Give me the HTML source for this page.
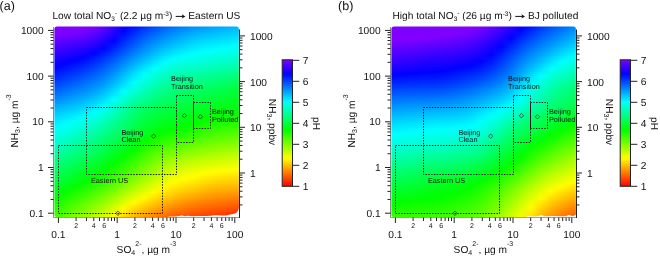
<!DOCTYPE html><html><head><meta charset="utf-8"><style>html,body{margin:0;padding:0;background:#fff;width:660px;height:257px;overflow:hidden}svg{display:block;will-change:transform}</style></head><body><svg xmlns="http://www.w3.org/2000/svg" width="660" height="257" viewBox="0 0 660 257" font-family='"Liberation Sans", sans-serif' fill="#111" text-rendering="geometricPrecision"><defs><linearGradient id="ga0" x1="0" x2="1" y1="0" y2="0"><stop offset="0.000" stop-color="#8000ff"/><stop offset="0.054" stop-color="#8000ff"/><stop offset="0.108" stop-color="#8000ff"/><stop offset="0.162" stop-color="#8000ff"/><stop offset="0.216" stop-color="#7a00ff"/><stop offset="0.270" stop-color="#5f00ff"/><stop offset="0.324" stop-color="#3900ff"/><stop offset="0.378" stop-color="#1200ff"/><stop offset="0.432" stop-color="#0010ff"/><stop offset="0.486" stop-color="#002eff"/><stop offset="0.541" stop-color="#0048ff"/><stop offset="0.595" stop-color="#005eff"/><stop offset="0.649" stop-color="#0071ff"/><stop offset="0.703" stop-color="#0082ff"/><stop offset="0.757" stop-color="#0090ff"/><stop offset="0.811" stop-color="#009aff"/><stop offset="0.865" stop-color="#00a2ff"/><stop offset="0.919" stop-color="#00aaff"/><stop offset="0.973" stop-color="#00b3ff"/><stop offset="1.000" stop-color="#00b7ff"/></linearGradient><linearGradient id="ga1" x1="0" x2="1" y1="0" y2="0"><stop offset="0.000" stop-color="#8000ff"/><stop offset="0.054" stop-color="#8000ff"/><stop offset="0.108" stop-color="#8000ff"/><stop offset="0.162" stop-color="#8000ff"/><stop offset="0.216" stop-color="#7200ff"/><stop offset="0.270" stop-color="#5800ff"/><stop offset="0.324" stop-color="#3100ff"/><stop offset="0.378" stop-color="#0900ff"/><stop offset="0.432" stop-color="#0018ff"/><stop offset="0.486" stop-color="#0037ff"/><stop offset="0.541" stop-color="#0051ff"/><stop offset="0.595" stop-color="#0067ff"/><stop offset="0.649" stop-color="#007aff"/><stop offset="0.703" stop-color="#008bff"/><stop offset="0.757" stop-color="#0099ff"/><stop offset="0.811" stop-color="#00a3ff"/><stop offset="0.865" stop-color="#00abff"/><stop offset="0.919" stop-color="#00b3ff"/><stop offset="0.973" stop-color="#00bbff"/><stop offset="1.000" stop-color="#00bfff"/></linearGradient><linearGradient id="ga2" x1="0" x2="1" y1="0" y2="0"><stop offset="0.000" stop-color="#8000ff"/><stop offset="0.054" stop-color="#8000ff"/><stop offset="0.108" stop-color="#8000ff"/><stop offset="0.162" stop-color="#7a00ff"/><stop offset="0.216" stop-color="#6a00ff"/><stop offset="0.270" stop-color="#5000ff"/><stop offset="0.324" stop-color="#2900ff"/><stop offset="0.378" stop-color="#0100ff"/><stop offset="0.432" stop-color="#0021ff"/><stop offset="0.486" stop-color="#0040ff"/><stop offset="0.541" stop-color="#005aff"/><stop offset="0.595" stop-color="#0070ff"/><stop offset="0.649" stop-color="#0083ff"/><stop offset="0.703" stop-color="#0094ff"/><stop offset="0.757" stop-color="#00a2ff"/><stop offset="0.811" stop-color="#00acff"/><stop offset="0.865" stop-color="#00b3ff"/><stop offset="0.919" stop-color="#00bbff"/><stop offset="0.973" stop-color="#00c3ff"/><stop offset="1.000" stop-color="#00c7ff"/></linearGradient><linearGradient id="ga3" x1="0" x2="1" y1="0" y2="0"><stop offset="0.000" stop-color="#8000ff"/><stop offset="0.054" stop-color="#8000ff"/><stop offset="0.108" stop-color="#7b00ff"/><stop offset="0.162" stop-color="#7200ff"/><stop offset="0.216" stop-color="#6100ff"/><stop offset="0.270" stop-color="#4800ff"/><stop offset="0.324" stop-color="#2100ff"/><stop offset="0.378" stop-color="#0008ff"/><stop offset="0.432" stop-color="#0029ff"/><stop offset="0.486" stop-color="#0048ff"/><stop offset="0.541" stop-color="#0062ff"/><stop offset="0.595" stop-color="#0078ff"/><stop offset="0.649" stop-color="#008cff"/><stop offset="0.703" stop-color="#009cff"/><stop offset="0.757" stop-color="#00abff"/><stop offset="0.811" stop-color="#00b4ff"/><stop offset="0.865" stop-color="#00bbff"/><stop offset="0.919" stop-color="#00c3ff"/><stop offset="0.973" stop-color="#00cbff"/><stop offset="1.000" stop-color="#00cfff"/></linearGradient><linearGradient id="ga4" x1="0" x2="1" y1="0" y2="0"><stop offset="0.000" stop-color="#8000ff"/><stop offset="0.054" stop-color="#7900ff"/><stop offset="0.108" stop-color="#7200ff"/><stop offset="0.162" stop-color="#6900ff"/><stop offset="0.216" stop-color="#5900ff"/><stop offset="0.270" stop-color="#3f00ff"/><stop offset="0.324" stop-color="#1800ff"/><stop offset="0.378" stop-color="#0010ff"/><stop offset="0.432" stop-color="#0032ff"/><stop offset="0.486" stop-color="#0051ff"/><stop offset="0.541" stop-color="#006bff"/><stop offset="0.595" stop-color="#0081ff"/><stop offset="0.649" stop-color="#0094ff"/><stop offset="0.703" stop-color="#00a5ff"/><stop offset="0.757" stop-color="#00b3ff"/><stop offset="0.811" stop-color="#00bdff"/><stop offset="0.865" stop-color="#00c4ff"/><stop offset="0.919" stop-color="#00cbff"/><stop offset="0.973" stop-color="#00d2ff"/><stop offset="1.000" stop-color="#00d7ff"/></linearGradient><linearGradient id="ga5" x1="0" x2="1" y1="0" y2="0"><stop offset="0.000" stop-color="#7800ff"/><stop offset="0.054" stop-color="#7000ff"/><stop offset="0.108" stop-color="#6900ff"/><stop offset="0.162" stop-color="#5f00ff"/><stop offset="0.216" stop-color="#4f00ff"/><stop offset="0.270" stop-color="#3600ff"/><stop offset="0.324" stop-color="#1000ff"/><stop offset="0.378" stop-color="#0018ff"/><stop offset="0.432" stop-color="#003aff"/><stop offset="0.486" stop-color="#0059ff"/><stop offset="0.541" stop-color="#0074ff"/><stop offset="0.595" stop-color="#008aff"/><stop offset="0.649" stop-color="#009dff"/><stop offset="0.703" stop-color="#00aeff"/><stop offset="0.757" stop-color="#00bcff"/><stop offset="0.811" stop-color="#00c6ff"/><stop offset="0.865" stop-color="#00ccff"/><stop offset="0.919" stop-color="#00d3ff"/><stop offset="0.973" stop-color="#00daff"/><stop offset="1.000" stop-color="#00deff"/></linearGradient><linearGradient id="ga6" x1="0" x2="1" y1="0" y2="0"><stop offset="0.000" stop-color="#6f00ff"/><stop offset="0.054" stop-color="#6700ff"/><stop offset="0.108" stop-color="#6000ff"/><stop offset="0.162" stop-color="#5600ff"/><stop offset="0.216" stop-color="#4600ff"/><stop offset="0.270" stop-color="#2d00ff"/><stop offset="0.324" stop-color="#0700ff"/><stop offset="0.378" stop-color="#0020ff"/><stop offset="0.432" stop-color="#0042ff"/><stop offset="0.486" stop-color="#0061ff"/><stop offset="0.541" stop-color="#007cff"/><stop offset="0.595" stop-color="#0093ff"/><stop offset="0.649" stop-color="#00a5ff"/><stop offset="0.703" stop-color="#00b6ff"/><stop offset="0.757" stop-color="#00c5ff"/><stop offset="0.811" stop-color="#00cfff"/><stop offset="0.865" stop-color="#00d4ff"/><stop offset="0.919" stop-color="#00daff"/><stop offset="0.973" stop-color="#00e2ff"/><stop offset="1.000" stop-color="#00e6ff"/></linearGradient><linearGradient id="ga7" x1="0" x2="1" y1="0" y2="0"><stop offset="0.000" stop-color="#6600ff"/><stop offset="0.054" stop-color="#5e00ff"/><stop offset="0.108" stop-color="#5600ff"/><stop offset="0.162" stop-color="#4c00ff"/><stop offset="0.216" stop-color="#3d00ff"/><stop offset="0.270" stop-color="#2300ff"/><stop offset="0.324" stop-color="#0001ff"/><stop offset="0.378" stop-color="#0028ff"/><stop offset="0.432" stop-color="#004aff"/><stop offset="0.486" stop-color="#0069ff"/><stop offset="0.541" stop-color="#0085ff"/><stop offset="0.595" stop-color="#009bff"/><stop offset="0.649" stop-color="#00aeff"/><stop offset="0.703" stop-color="#00bfff"/><stop offset="0.757" stop-color="#00ceff"/><stop offset="0.811" stop-color="#00d8ff"/><stop offset="0.865" stop-color="#00ddff"/><stop offset="0.919" stop-color="#00e2ff"/><stop offset="0.973" stop-color="#00e9ff"/><stop offset="1.000" stop-color="#00edff"/></linearGradient><linearGradient id="ga8" x1="0" x2="1" y1="0" y2="0"><stop offset="0.000" stop-color="#5d00ff"/><stop offset="0.054" stop-color="#5500ff"/><stop offset="0.108" stop-color="#4d00ff"/><stop offset="0.162" stop-color="#4300ff"/><stop offset="0.216" stop-color="#3300ff"/><stop offset="0.270" stop-color="#1a00ff"/><stop offset="0.324" stop-color="#000aff"/><stop offset="0.378" stop-color="#0030ff"/><stop offset="0.432" stop-color="#0052ff"/><stop offset="0.486" stop-color="#0072ff"/><stop offset="0.541" stop-color="#008dff"/><stop offset="0.595" stop-color="#00a4ff"/><stop offset="0.649" stop-color="#00b6ff"/><stop offset="0.703" stop-color="#00c7ff"/><stop offset="0.757" stop-color="#00d6ff"/><stop offset="0.811" stop-color="#00e0ff"/><stop offset="0.865" stop-color="#00e5ff"/><stop offset="0.919" stop-color="#00eaff"/><stop offset="0.973" stop-color="#00f1ff"/><stop offset="1.000" stop-color="#00f5ff"/></linearGradient><linearGradient id="ga9" x1="0" x2="1" y1="0" y2="0"><stop offset="0.000" stop-color="#5400ff"/><stop offset="0.054" stop-color="#4c00ff"/><stop offset="0.108" stop-color="#4400ff"/><stop offset="0.162" stop-color="#3900ff"/><stop offset="0.216" stop-color="#2900ff"/><stop offset="0.270" stop-color="#1000ff"/><stop offset="0.324" stop-color="#0013ff"/><stop offset="0.378" stop-color="#0038ff"/><stop offset="0.432" stop-color="#005aff"/><stop offset="0.486" stop-color="#007aff"/><stop offset="0.541" stop-color="#0096ff"/><stop offset="0.595" stop-color="#00adff"/><stop offset="0.649" stop-color="#00bfff"/><stop offset="0.703" stop-color="#00d0ff"/><stop offset="0.757" stop-color="#00deff"/><stop offset="0.811" stop-color="#00e9ff"/><stop offset="0.865" stop-color="#00ecff"/><stop offset="0.919" stop-color="#00f2ff"/><stop offset="0.973" stop-color="#00f8ff"/><stop offset="1.000" stop-color="#00fcff"/></linearGradient><linearGradient id="ga10" x1="0" x2="1" y1="0" y2="0"><stop offset="0.000" stop-color="#4c00ff"/><stop offset="0.054" stop-color="#4400ff"/><stop offset="0.108" stop-color="#3b00ff"/><stop offset="0.162" stop-color="#3000ff"/><stop offset="0.216" stop-color="#1f00ff"/><stop offset="0.270" stop-color="#0600ff"/><stop offset="0.324" stop-color="#001cff"/><stop offset="0.378" stop-color="#0040ff"/><stop offset="0.432" stop-color="#0062ff"/><stop offset="0.486" stop-color="#0082ff"/><stop offset="0.541" stop-color="#009eff"/><stop offset="0.595" stop-color="#00b6ff"/><stop offset="0.649" stop-color="#00c8ff"/><stop offset="0.703" stop-color="#00d8ff"/><stop offset="0.757" stop-color="#00e6ff"/><stop offset="0.811" stop-color="#00f0ff"/><stop offset="0.865" stop-color="#00f4ff"/><stop offset="0.919" stop-color="#00f9ff"/><stop offset="0.973" stop-color="#00fffe"/><stop offset="1.000" stop-color="#00fffa"/></linearGradient><linearGradient id="ga11" x1="0" x2="1" y1="0" y2="0"><stop offset="0.000" stop-color="#4400ff"/><stop offset="0.054" stop-color="#3b00ff"/><stop offset="0.108" stop-color="#3200ff"/><stop offset="0.162" stop-color="#2600ff"/><stop offset="0.216" stop-color="#1500ff"/><stop offset="0.270" stop-color="#0004ff"/><stop offset="0.324" stop-color="#0025ff"/><stop offset="0.378" stop-color="#0049ff"/><stop offset="0.432" stop-color="#006bff"/><stop offset="0.486" stop-color="#008aff"/><stop offset="0.541" stop-color="#00a7ff"/><stop offset="0.595" stop-color="#00bfff"/><stop offset="0.649" stop-color="#00d1ff"/><stop offset="0.703" stop-color="#00e0ff"/><stop offset="0.757" stop-color="#00edff"/><stop offset="0.811" stop-color="#00f7ff"/><stop offset="0.865" stop-color="#00fcff"/><stop offset="0.919" stop-color="#00fffd"/><stop offset="0.973" stop-color="#00fff7"/><stop offset="1.000" stop-color="#00fff3"/></linearGradient><linearGradient id="ga12" x1="0" x2="1" y1="0" y2="0"><stop offset="0.000" stop-color="#3c00ff"/><stop offset="0.054" stop-color="#3300ff"/><stop offset="0.108" stop-color="#2a00ff"/><stop offset="0.162" stop-color="#1d00ff"/><stop offset="0.216" stop-color="#0b00ff"/><stop offset="0.270" stop-color="#000eff"/><stop offset="0.324" stop-color="#002eff"/><stop offset="0.378" stop-color="#0052ff"/><stop offset="0.432" stop-color="#0073ff"/><stop offset="0.486" stop-color="#0093ff"/><stop offset="0.541" stop-color="#00afff"/><stop offset="0.595" stop-color="#00c8ff"/><stop offset="0.649" stop-color="#00daff"/><stop offset="0.703" stop-color="#00e9ff"/><stop offset="0.757" stop-color="#00f5ff"/><stop offset="0.811" stop-color="#00feff"/><stop offset="0.865" stop-color="#00fffb"/><stop offset="0.919" stop-color="#00fff6"/><stop offset="0.973" stop-color="#00fff0"/><stop offset="1.000" stop-color="#00ffec"/></linearGradient><linearGradient id="ga13" x1="0" x2="1" y1="0" y2="0"><stop offset="0.000" stop-color="#3500ff"/><stop offset="0.054" stop-color="#2b00ff"/><stop offset="0.108" stop-color="#2100ff"/><stop offset="0.162" stop-color="#1400ff"/><stop offset="0.216" stop-color="#0200ff"/><stop offset="0.270" stop-color="#0018ff"/><stop offset="0.324" stop-color="#0038ff"/><stop offset="0.378" stop-color="#005aff"/><stop offset="0.432" stop-color="#007cff"/><stop offset="0.486" stop-color="#009bff"/><stop offset="0.541" stop-color="#00b8ff"/><stop offset="0.595" stop-color="#00d1ff"/><stop offset="0.649" stop-color="#00e3ff"/><stop offset="0.703" stop-color="#00f1ff"/><stop offset="0.757" stop-color="#00fcff"/><stop offset="0.811" stop-color="#00fffa"/><stop offset="0.865" stop-color="#00fff4"/><stop offset="0.919" stop-color="#00ffee"/><stop offset="0.973" stop-color="#00ffe8"/><stop offset="1.000" stop-color="#00ffe5"/></linearGradient><linearGradient id="ga14" x1="0" x2="1" y1="0" y2="0"><stop offset="0.000" stop-color="#2d00ff"/><stop offset="0.054" stop-color="#2300ff"/><stop offset="0.108" stop-color="#1900ff"/><stop offset="0.162" stop-color="#0b00ff"/><stop offset="0.216" stop-color="#0008ff"/><stop offset="0.270" stop-color="#0022ff"/><stop offset="0.324" stop-color="#0041ff"/><stop offset="0.378" stop-color="#0063ff"/><stop offset="0.432" stop-color="#0085ff"/><stop offset="0.486" stop-color="#00a4ff"/><stop offset="0.541" stop-color="#00c1ff"/><stop offset="0.595" stop-color="#00daff"/><stop offset="0.649" stop-color="#00edff"/><stop offset="0.703" stop-color="#00faff"/><stop offset="0.757" stop-color="#00fffb"/><stop offset="0.811" stop-color="#00fff4"/><stop offset="0.865" stop-color="#00ffec"/><stop offset="0.919" stop-color="#00ffe6"/><stop offset="0.973" stop-color="#00ffe1"/><stop offset="1.000" stop-color="#00ffdd"/></linearGradient><linearGradient id="ga15" x1="0" x2="1" y1="0" y2="0"><stop offset="0.000" stop-color="#2600ff"/><stop offset="0.054" stop-color="#1b00ff"/><stop offset="0.108" stop-color="#1000ff"/><stop offset="0.162" stop-color="#0200ff"/><stop offset="0.216" stop-color="#0012ff"/><stop offset="0.270" stop-color="#002cff"/><stop offset="0.324" stop-color="#004aff"/><stop offset="0.378" stop-color="#006cff"/><stop offset="0.432" stop-color="#008eff"/><stop offset="0.486" stop-color="#00acff"/><stop offset="0.541" stop-color="#00caff"/><stop offset="0.595" stop-color="#00e4ff"/><stop offset="0.649" stop-color="#00f6ff"/><stop offset="0.703" stop-color="#00fffc"/><stop offset="0.757" stop-color="#00fff4"/><stop offset="0.811" stop-color="#00ffed"/><stop offset="0.865" stop-color="#00ffe5"/><stop offset="0.919" stop-color="#00ffde"/><stop offset="0.973" stop-color="#00ffd9"/><stop offset="1.000" stop-color="#00ffd6"/></linearGradient><linearGradient id="ga16" x1="0" x2="1" y1="0" y2="0"><stop offset="0.000" stop-color="#1e00ff"/><stop offset="0.054" stop-color="#1300ff"/><stop offset="0.108" stop-color="#0800ff"/><stop offset="0.162" stop-color="#0006ff"/><stop offset="0.216" stop-color="#001bff"/><stop offset="0.270" stop-color="#0036ff"/><stop offset="0.324" stop-color="#0053ff"/><stop offset="0.378" stop-color="#0075ff"/><stop offset="0.432" stop-color="#0097ff"/><stop offset="0.486" stop-color="#00b5ff"/><stop offset="0.541" stop-color="#00d3ff"/><stop offset="0.595" stop-color="#00edff"/><stop offset="0.649" stop-color="#00ffff"/><stop offset="0.703" stop-color="#00fff3"/><stop offset="0.757" stop-color="#00ffec"/><stop offset="0.811" stop-color="#00ffe6"/><stop offset="0.865" stop-color="#00ffdd"/><stop offset="0.919" stop-color="#00ffd6"/><stop offset="0.973" stop-color="#00ffd1"/><stop offset="1.000" stop-color="#00ffce"/></linearGradient><linearGradient id="ga17" x1="0" x2="1" y1="0" y2="0"><stop offset="0.000" stop-color="#1700ff"/><stop offset="0.054" stop-color="#0b00ff"/><stop offset="0.108" stop-color="#0000ff"/><stop offset="0.162" stop-color="#000fff"/><stop offset="0.216" stop-color="#0024ff"/><stop offset="0.270" stop-color="#003fff"/><stop offset="0.324" stop-color="#005cff"/><stop offset="0.378" stop-color="#007eff"/><stop offset="0.432" stop-color="#00a0ff"/><stop offset="0.486" stop-color="#00beff"/><stop offset="0.541" stop-color="#00dcff"/><stop offset="0.595" stop-color="#00f7ff"/><stop offset="0.649" stop-color="#00fff5"/><stop offset="0.703" stop-color="#00ffeb"/><stop offset="0.757" stop-color="#00ffe4"/><stop offset="0.811" stop-color="#00ffdf"/><stop offset="0.865" stop-color="#00ffd5"/><stop offset="0.919" stop-color="#00ffce"/><stop offset="0.973" stop-color="#00ffc8"/><stop offset="1.000" stop-color="#00ffc5"/></linearGradient><linearGradient id="ga18" x1="0" x2="1" y1="0" y2="0"><stop offset="0.000" stop-color="#1000ff"/><stop offset="0.054" stop-color="#0400ff"/><stop offset="0.108" stop-color="#0009ff"/><stop offset="0.162" stop-color="#0018ff"/><stop offset="0.216" stop-color="#002dff"/><stop offset="0.270" stop-color="#0048ff"/><stop offset="0.324" stop-color="#0065ff"/><stop offset="0.378" stop-color="#0087ff"/><stop offset="0.432" stop-color="#00aaff"/><stop offset="0.486" stop-color="#00c8ff"/><stop offset="0.541" stop-color="#00e6ff"/><stop offset="0.595" stop-color="#00fffe"/><stop offset="0.649" stop-color="#00ffec"/><stop offset="0.703" stop-color="#00ffe2"/><stop offset="0.757" stop-color="#00ffdc"/><stop offset="0.811" stop-color="#00ffd7"/><stop offset="0.865" stop-color="#00ffcd"/><stop offset="0.919" stop-color="#00ffc5"/><stop offset="0.973" stop-color="#00ffc0"/><stop offset="1.000" stop-color="#00ffbc"/></linearGradient><linearGradient id="ga19" x1="0" x2="1" y1="0" y2="0"><stop offset="0.000" stop-color="#0900ff"/><stop offset="0.054" stop-color="#0004ff"/><stop offset="0.108" stop-color="#0011ff"/><stop offset="0.162" stop-color="#0021ff"/><stop offset="0.216" stop-color="#0036ff"/><stop offset="0.270" stop-color="#0050ff"/><stop offset="0.324" stop-color="#006eff"/><stop offset="0.378" stop-color="#0090ff"/><stop offset="0.432" stop-color="#00b3ff"/><stop offset="0.486" stop-color="#00d2ff"/><stop offset="0.541" stop-color="#00efff"/><stop offset="0.595" stop-color="#00fff5"/><stop offset="0.649" stop-color="#00ffe3"/><stop offset="0.703" stop-color="#00ffd9"/><stop offset="0.757" stop-color="#00ffd4"/><stop offset="0.811" stop-color="#00ffce"/><stop offset="0.865" stop-color="#00ffc4"/><stop offset="0.919" stop-color="#00ffbc"/><stop offset="0.973" stop-color="#00ffb6"/><stop offset="1.000" stop-color="#00ffb3"/></linearGradient><linearGradient id="ga20" x1="0" x2="1" y1="0" y2="0"><stop offset="0.000" stop-color="#0200ff"/><stop offset="0.054" stop-color="#000cff"/><stop offset="0.108" stop-color="#001aff"/><stop offset="0.162" stop-color="#0029ff"/><stop offset="0.216" stop-color="#003eff"/><stop offset="0.270" stop-color="#0058ff"/><stop offset="0.324" stop-color="#0076ff"/><stop offset="0.378" stop-color="#0099ff"/><stop offset="0.432" stop-color="#00bdff"/><stop offset="0.486" stop-color="#00dcff"/><stop offset="0.541" stop-color="#00f9ff"/><stop offset="0.595" stop-color="#00ffeb"/><stop offset="0.649" stop-color="#00ffda"/><stop offset="0.703" stop-color="#00ffd0"/><stop offset="0.757" stop-color="#00ffcb"/><stop offset="0.811" stop-color="#00ffc5"/><stop offset="0.865" stop-color="#00ffbb"/><stop offset="0.919" stop-color="#00ffb3"/><stop offset="0.973" stop-color="#00ffad"/><stop offset="1.000" stop-color="#00ffa9"/></linearGradient><linearGradient id="ga21" x1="0" x2="1" y1="0" y2="0"><stop offset="0.000" stop-color="#0005ff"/><stop offset="0.054" stop-color="#0013ff"/><stop offset="0.108" stop-color="#0022ff"/><stop offset="0.162" stop-color="#0032ff"/><stop offset="0.216" stop-color="#0047ff"/><stop offset="0.270" stop-color="#0060ff"/><stop offset="0.324" stop-color="#007eff"/><stop offset="0.378" stop-color="#00a2ff"/><stop offset="0.432" stop-color="#00c6ff"/><stop offset="0.486" stop-color="#00e6ff"/><stop offset="0.541" stop-color="#00fffc"/><stop offset="0.595" stop-color="#00ffe2"/><stop offset="0.649" stop-color="#00ffd1"/><stop offset="0.703" stop-color="#00ffc8"/><stop offset="0.757" stop-color="#00ffc2"/><stop offset="0.811" stop-color="#00ffbb"/><stop offset="0.865" stop-color="#00ffb2"/><stop offset="0.919" stop-color="#00ffaa"/><stop offset="0.973" stop-color="#00ffa3"/><stop offset="1.000" stop-color="#00ffa0"/></linearGradient><linearGradient id="ga22" x1="0" x2="1" y1="0" y2="0"><stop offset="0.000" stop-color="#000dff"/><stop offset="0.054" stop-color="#001bff"/><stop offset="0.108" stop-color="#002aff"/><stop offset="0.162" stop-color="#003bff"/><stop offset="0.216" stop-color="#004fff"/><stop offset="0.270" stop-color="#0068ff"/><stop offset="0.324" stop-color="#0086ff"/><stop offset="0.378" stop-color="#00aaff"/><stop offset="0.432" stop-color="#00d0ff"/><stop offset="0.486" stop-color="#00efff"/><stop offset="0.541" stop-color="#00fff3"/><stop offset="0.595" stop-color="#00ffd9"/><stop offset="0.649" stop-color="#00ffc8"/><stop offset="0.703" stop-color="#00ffbf"/><stop offset="0.757" stop-color="#00ffb9"/><stop offset="0.811" stop-color="#00ffb2"/><stop offset="0.865" stop-color="#00ffa9"/><stop offset="0.919" stop-color="#00ffa0"/><stop offset="0.973" stop-color="#00ff99"/><stop offset="1.000" stop-color="#00ff96"/></linearGradient><linearGradient id="ga23" x1="0" x2="1" y1="0" y2="0"><stop offset="0.000" stop-color="#0014ff"/><stop offset="0.054" stop-color="#0023ff"/><stop offset="0.108" stop-color="#0033ff"/><stop offset="0.162" stop-color="#0043ff"/><stop offset="0.216" stop-color="#0057ff"/><stop offset="0.270" stop-color="#0070ff"/><stop offset="0.324" stop-color="#008eff"/><stop offset="0.378" stop-color="#00b2ff"/><stop offset="0.432" stop-color="#00d9ff"/><stop offset="0.486" stop-color="#00f9ff"/><stop offset="0.541" stop-color="#00ffea"/><stop offset="0.595" stop-color="#00ffd1"/><stop offset="0.649" stop-color="#00ffc0"/><stop offset="0.703" stop-color="#00ffb6"/><stop offset="0.757" stop-color="#00ffb0"/><stop offset="0.811" stop-color="#00ffa8"/><stop offset="0.865" stop-color="#00ff9f"/><stop offset="0.919" stop-color="#00ff97"/><stop offset="0.973" stop-color="#00ff8f"/><stop offset="1.000" stop-color="#00ff8b"/></linearGradient><linearGradient id="ga24" x1="0" x2="1" y1="0" y2="0"><stop offset="0.000" stop-color="#001cff"/><stop offset="0.054" stop-color="#002bff"/><stop offset="0.108" stop-color="#003bff"/><stop offset="0.162" stop-color="#004cff"/><stop offset="0.216" stop-color="#005fff"/><stop offset="0.270" stop-color="#0077ff"/><stop offset="0.324" stop-color="#0096ff"/><stop offset="0.378" stop-color="#00bbff"/><stop offset="0.432" stop-color="#00e1ff"/><stop offset="0.486" stop-color="#00fffc"/><stop offset="0.541" stop-color="#00ffe1"/><stop offset="0.595" stop-color="#00ffc8"/><stop offset="0.649" stop-color="#00ffb7"/><stop offset="0.703" stop-color="#00ffae"/><stop offset="0.757" stop-color="#00ffa7"/><stop offset="0.811" stop-color="#00ff9f"/><stop offset="0.865" stop-color="#00ff96"/><stop offset="0.919" stop-color="#00ff8d"/><stop offset="0.973" stop-color="#00ff85"/><stop offset="1.000" stop-color="#00ff81"/></linearGradient><linearGradient id="ga25" x1="0" x2="1" y1="0" y2="0"><stop offset="0.000" stop-color="#0024ff"/><stop offset="0.054" stop-color="#0033ff"/><stop offset="0.108" stop-color="#0043ff"/><stop offset="0.162" stop-color="#0054ff"/><stop offset="0.216" stop-color="#0067ff"/><stop offset="0.270" stop-color="#007fff"/><stop offset="0.324" stop-color="#009eff"/><stop offset="0.378" stop-color="#00c3ff"/><stop offset="0.432" stop-color="#00e9ff"/><stop offset="0.486" stop-color="#00fff4"/><stop offset="0.541" stop-color="#00ffd9"/><stop offset="0.595" stop-color="#00ffc0"/><stop offset="0.649" stop-color="#00ffaf"/><stop offset="0.703" stop-color="#00ffa5"/><stop offset="0.757" stop-color="#00ff9e"/><stop offset="0.811" stop-color="#00ff96"/><stop offset="0.865" stop-color="#00ff8d"/><stop offset="0.919" stop-color="#00ff84"/><stop offset="0.973" stop-color="#00ff7b"/><stop offset="1.000" stop-color="#00ff77"/></linearGradient><linearGradient id="ga26" x1="0" x2="1" y1="0" y2="0"><stop offset="0.000" stop-color="#002cff"/><stop offset="0.054" stop-color="#003cff"/><stop offset="0.108" stop-color="#004cff"/><stop offset="0.162" stop-color="#005cff"/><stop offset="0.216" stop-color="#006fff"/><stop offset="0.270" stop-color="#0087ff"/><stop offset="0.324" stop-color="#00a6ff"/><stop offset="0.378" stop-color="#00cbff"/><stop offset="0.432" stop-color="#00f1ff"/><stop offset="0.486" stop-color="#00ffec"/><stop offset="0.541" stop-color="#00ffd1"/><stop offset="0.595" stop-color="#00ffb8"/><stop offset="0.649" stop-color="#00ffa7"/><stop offset="0.703" stop-color="#00ff9d"/><stop offset="0.757" stop-color="#00ff95"/><stop offset="0.811" stop-color="#00ff8d"/><stop offset="0.865" stop-color="#00ff84"/><stop offset="0.919" stop-color="#00ff7a"/><stop offset="0.973" stop-color="#00ff71"/><stop offset="1.000" stop-color="#00ff6d"/></linearGradient><linearGradient id="ga27" x1="0" x2="1" y1="0" y2="0"><stop offset="0.000" stop-color="#0034ff"/><stop offset="0.054" stop-color="#0044ff"/><stop offset="0.108" stop-color="#0054ff"/><stop offset="0.162" stop-color="#0065ff"/><stop offset="0.216" stop-color="#0077ff"/><stop offset="0.270" stop-color="#008eff"/><stop offset="0.324" stop-color="#00aeff"/><stop offset="0.378" stop-color="#00d3ff"/><stop offset="0.432" stop-color="#00f9ff"/><stop offset="0.486" stop-color="#00ffe5"/><stop offset="0.541" stop-color="#00ffc9"/><stop offset="0.595" stop-color="#00ffb0"/><stop offset="0.649" stop-color="#00ff9f"/><stop offset="0.703" stop-color="#00ff95"/><stop offset="0.757" stop-color="#00ff8d"/><stop offset="0.811" stop-color="#00ff84"/><stop offset="0.865" stop-color="#00ff7b"/><stop offset="0.919" stop-color="#00ff71"/><stop offset="0.973" stop-color="#00ff67"/><stop offset="1.000" stop-color="#00ff63"/></linearGradient><linearGradient id="ga28" x1="0" x2="1" y1="0" y2="0"><stop offset="0.000" stop-color="#003dff"/><stop offset="0.054" stop-color="#004dff"/><stop offset="0.108" stop-color="#005dff"/><stop offset="0.162" stop-color="#006dff"/><stop offset="0.216" stop-color="#007eff"/><stop offset="0.270" stop-color="#0096ff"/><stop offset="0.324" stop-color="#00b6ff"/><stop offset="0.378" stop-color="#00dbff"/><stop offset="0.432" stop-color="#00fffd"/><stop offset="0.486" stop-color="#00ffdd"/><stop offset="0.541" stop-color="#00ffc1"/><stop offset="0.595" stop-color="#00ffa8"/><stop offset="0.649" stop-color="#00ff97"/><stop offset="0.703" stop-color="#00ff8d"/><stop offset="0.757" stop-color="#00ff85"/><stop offset="0.811" stop-color="#00ff7b"/><stop offset="0.865" stop-color="#00ff72"/><stop offset="0.919" stop-color="#00ff68"/><stop offset="0.973" stop-color="#00ff5d"/><stop offset="1.000" stop-color="#00ff59"/></linearGradient><linearGradient id="ga29" x1="0" x2="1" y1="0" y2="0"><stop offset="0.000" stop-color="#0046ff"/><stop offset="0.054" stop-color="#0055ff"/><stop offset="0.108" stop-color="#0065ff"/><stop offset="0.162" stop-color="#0075ff"/><stop offset="0.216" stop-color="#0086ff"/><stop offset="0.270" stop-color="#009eff"/><stop offset="0.324" stop-color="#00bfff"/><stop offset="0.378" stop-color="#00e3ff"/><stop offset="0.432" stop-color="#00fff5"/><stop offset="0.486" stop-color="#00ffd5"/><stop offset="0.541" stop-color="#00ffb9"/><stop offset="0.595" stop-color="#00ffa1"/><stop offset="0.649" stop-color="#00ff8f"/><stop offset="0.703" stop-color="#00ff85"/><stop offset="0.757" stop-color="#00ff7d"/><stop offset="0.811" stop-color="#00ff73"/><stop offset="0.865" stop-color="#00ff6a"/><stop offset="0.919" stop-color="#00ff60"/><stop offset="0.973" stop-color="#00ff54"/><stop offset="1.000" stop-color="#00ff4f"/></linearGradient><linearGradient id="ga30" x1="0" x2="1" y1="0" y2="0"><stop offset="0.000" stop-color="#004eff"/><stop offset="0.054" stop-color="#005eff"/><stop offset="0.108" stop-color="#006eff"/><stop offset="0.162" stop-color="#007dff"/><stop offset="0.216" stop-color="#008fff"/><stop offset="0.270" stop-color="#00a6ff"/><stop offset="0.324" stop-color="#00c7ff"/><stop offset="0.378" stop-color="#00ecff"/><stop offset="0.432" stop-color="#00ffec"/><stop offset="0.486" stop-color="#00ffce"/><stop offset="0.541" stop-color="#00ffb2"/><stop offset="0.595" stop-color="#00ff99"/><stop offset="0.649" stop-color="#00ff88"/><stop offset="0.703" stop-color="#00ff7e"/><stop offset="0.757" stop-color="#00ff75"/><stop offset="0.811" stop-color="#00ff6b"/><stop offset="0.865" stop-color="#00ff61"/><stop offset="0.919" stop-color="#00ff58"/><stop offset="0.973" stop-color="#00ff4c"/><stop offset="1.000" stop-color="#00ff47"/></linearGradient><linearGradient id="ga31" x1="0" x2="1" y1="0" y2="0"><stop offset="0.000" stop-color="#0057ff"/><stop offset="0.054" stop-color="#0067ff"/><stop offset="0.108" stop-color="#0076ff"/><stop offset="0.162" stop-color="#0085ff"/><stop offset="0.216" stop-color="#0097ff"/><stop offset="0.270" stop-color="#00aeff"/><stop offset="0.324" stop-color="#00d0ff"/><stop offset="0.378" stop-color="#00f5ff"/><stop offset="0.432" stop-color="#00ffe3"/><stop offset="0.486" stop-color="#00ffc5"/><stop offset="0.541" stop-color="#00ffaa"/><stop offset="0.595" stop-color="#00ff92"/><stop offset="0.649" stop-color="#00ff81"/><stop offset="0.703" stop-color="#00ff77"/><stop offset="0.757" stop-color="#00ff6e"/><stop offset="0.811" stop-color="#00ff63"/><stop offset="0.865" stop-color="#00ff5a"/><stop offset="0.919" stop-color="#00ff50"/><stop offset="0.973" stop-color="#00ff44"/><stop offset="1.000" stop-color="#00ff3f"/></linearGradient><linearGradient id="ga32" x1="0" x2="1" y1="0" y2="0"><stop offset="0.000" stop-color="#0060ff"/><stop offset="0.054" stop-color="#006fff"/><stop offset="0.108" stop-color="#007fff"/><stop offset="0.162" stop-color="#008eff"/><stop offset="0.216" stop-color="#009fff"/><stop offset="0.270" stop-color="#00b7ff"/><stop offset="0.324" stop-color="#00d9ff"/><stop offset="0.378" stop-color="#00ffff"/><stop offset="0.432" stop-color="#00ffda"/><stop offset="0.486" stop-color="#00ffbc"/><stop offset="0.541" stop-color="#00ffa1"/><stop offset="0.595" stop-color="#00ff8a"/><stop offset="0.649" stop-color="#00ff7a"/><stop offset="0.703" stop-color="#00ff70"/><stop offset="0.757" stop-color="#00ff66"/><stop offset="0.811" stop-color="#00ff5c"/><stop offset="0.865" stop-color="#00ff52"/><stop offset="0.919" stop-color="#00ff49"/><stop offset="0.973" stop-color="#00ff3d"/><stop offset="1.000" stop-color="#00ff38"/></linearGradient><linearGradient id="ga33" x1="0" x2="1" y1="0" y2="0"><stop offset="0.000" stop-color="#0069ff"/><stop offset="0.054" stop-color="#0078ff"/><stop offset="0.108" stop-color="#0087ff"/><stop offset="0.162" stop-color="#0096ff"/><stop offset="0.216" stop-color="#00a8ff"/><stop offset="0.270" stop-color="#00c0ff"/><stop offset="0.324" stop-color="#00e2ff"/><stop offset="0.378" stop-color="#00fff6"/><stop offset="0.432" stop-color="#00ffd0"/><stop offset="0.486" stop-color="#00ffb3"/><stop offset="0.541" stop-color="#00ff99"/><stop offset="0.595" stop-color="#00ff83"/><stop offset="0.649" stop-color="#00ff73"/><stop offset="0.703" stop-color="#00ff69"/><stop offset="0.757" stop-color="#00ff5f"/><stop offset="0.811" stop-color="#00ff55"/><stop offset="0.865" stop-color="#00ff4b"/><stop offset="0.919" stop-color="#00ff42"/><stop offset="0.973" stop-color="#00ff37"/><stop offset="1.000" stop-color="#00ff32"/></linearGradient><linearGradient id="ga34" x1="0" x2="1" y1="0" y2="0"><stop offset="0.000" stop-color="#0072ff"/><stop offset="0.054" stop-color="#0081ff"/><stop offset="0.108" stop-color="#0090ff"/><stop offset="0.162" stop-color="#009eff"/><stop offset="0.216" stop-color="#00b0ff"/><stop offset="0.270" stop-color="#00c9ff"/><stop offset="0.324" stop-color="#00ebff"/><stop offset="0.378" stop-color="#00ffeb"/><stop offset="0.432" stop-color="#00ffc6"/><stop offset="0.486" stop-color="#00ffa9"/><stop offset="0.541" stop-color="#00ff91"/><stop offset="0.595" stop-color="#00ff7c"/><stop offset="0.649" stop-color="#00ff6d"/><stop offset="0.703" stop-color="#00ff63"/><stop offset="0.757" stop-color="#00ff59"/><stop offset="0.811" stop-color="#00ff4e"/><stop offset="0.865" stop-color="#00ff45"/><stop offset="0.919" stop-color="#00ff3c"/><stop offset="0.973" stop-color="#00ff31"/><stop offset="1.000" stop-color="#00ff2d"/></linearGradient><linearGradient id="ga35" x1="0" x2="1" y1="0" y2="0"><stop offset="0.000" stop-color="#007bff"/><stop offset="0.054" stop-color="#008aff"/><stop offset="0.108" stop-color="#0098ff"/><stop offset="0.162" stop-color="#00a7ff"/><stop offset="0.216" stop-color="#00b9ff"/><stop offset="0.270" stop-color="#00d2ff"/><stop offset="0.324" stop-color="#00f4ff"/><stop offset="0.378" stop-color="#00ffe1"/><stop offset="0.432" stop-color="#00ffbb"/><stop offset="0.486" stop-color="#00ffa0"/><stop offset="0.541" stop-color="#00ff88"/><stop offset="0.595" stop-color="#00ff75"/><stop offset="0.649" stop-color="#00ff67"/><stop offset="0.703" stop-color="#00ff5d"/><stop offset="0.757" stop-color="#00ff52"/><stop offset="0.811" stop-color="#00ff48"/><stop offset="0.865" stop-color="#00ff3e"/><stop offset="0.919" stop-color="#00ff35"/><stop offset="0.973" stop-color="#00ff2c"/><stop offset="1.000" stop-color="#00ff28"/></linearGradient><linearGradient id="ga36" x1="0" x2="1" y1="0" y2="0"><stop offset="0.000" stop-color="#0085ff"/><stop offset="0.054" stop-color="#0093ff"/><stop offset="0.108" stop-color="#00a1ff"/><stop offset="0.162" stop-color="#00afff"/><stop offset="0.216" stop-color="#00c2ff"/><stop offset="0.270" stop-color="#00dbff"/><stop offset="0.324" stop-color="#00feff"/><stop offset="0.378" stop-color="#00ffd7"/><stop offset="0.432" stop-color="#00ffb1"/><stop offset="0.486" stop-color="#00ff96"/><stop offset="0.541" stop-color="#00ff80"/><stop offset="0.595" stop-color="#00ff6e"/><stop offset="0.649" stop-color="#00ff61"/><stop offset="0.703" stop-color="#00ff56"/><stop offset="0.757" stop-color="#00ff4c"/><stop offset="0.811" stop-color="#00ff41"/><stop offset="0.865" stop-color="#00ff38"/><stop offset="0.919" stop-color="#00ff30"/><stop offset="0.973" stop-color="#00ff27"/><stop offset="1.000" stop-color="#00ff24"/></linearGradient><linearGradient id="ga37" x1="0" x2="1" y1="0" y2="0"><stop offset="0.000" stop-color="#008eff"/><stop offset="0.054" stop-color="#009cff"/><stop offset="0.108" stop-color="#00a9ff"/><stop offset="0.162" stop-color="#00b8ff"/><stop offset="0.216" stop-color="#00cbff"/><stop offset="0.270" stop-color="#00e4ff"/><stop offset="0.324" stop-color="#00fff7"/><stop offset="0.378" stop-color="#00ffcd"/><stop offset="0.432" stop-color="#00ffa7"/><stop offset="0.486" stop-color="#00ff8c"/><stop offset="0.541" stop-color="#00ff77"/><stop offset="0.595" stop-color="#00ff67"/><stop offset="0.649" stop-color="#00ff5b"/><stop offset="0.703" stop-color="#00ff50"/><stop offset="0.757" stop-color="#00ff46"/><stop offset="0.811" stop-color="#00ff3b"/><stop offset="0.865" stop-color="#00ff32"/><stop offset="0.919" stop-color="#00ff2a"/><stop offset="0.973" stop-color="#00ff23"/><stop offset="1.000" stop-color="#00ff1f"/></linearGradient><linearGradient id="ga38" x1="0" x2="1" y1="0" y2="0"><stop offset="0.000" stop-color="#0097ff"/><stop offset="0.054" stop-color="#00a5ff"/><stop offset="0.108" stop-color="#00b2ff"/><stop offset="0.162" stop-color="#00c1ff"/><stop offset="0.216" stop-color="#00d4ff"/><stop offset="0.270" stop-color="#00eeff"/><stop offset="0.324" stop-color="#00ffed"/><stop offset="0.378" stop-color="#00ffc3"/><stop offset="0.432" stop-color="#00ff9d"/><stop offset="0.486" stop-color="#00ff83"/><stop offset="0.541" stop-color="#00ff6f"/><stop offset="0.595" stop-color="#00ff60"/><stop offset="0.649" stop-color="#00ff54"/><stop offset="0.703" stop-color="#00ff4a"/><stop offset="0.757" stop-color="#00ff3f"/><stop offset="0.811" stop-color="#00ff35"/><stop offset="0.865" stop-color="#00ff2c"/><stop offset="0.919" stop-color="#00ff24"/><stop offset="0.973" stop-color="#00ff1e"/><stop offset="1.000" stop-color="#00ff1b"/></linearGradient><linearGradient id="ga39" x1="0" x2="1" y1="0" y2="0"><stop offset="0.000" stop-color="#00a1ff"/><stop offset="0.054" stop-color="#00aeff"/><stop offset="0.108" stop-color="#00bbff"/><stop offset="0.162" stop-color="#00c9ff"/><stop offset="0.216" stop-color="#00ddff"/><stop offset="0.270" stop-color="#00f7ff"/><stop offset="0.324" stop-color="#00ffe4"/><stop offset="0.378" stop-color="#00ffba"/><stop offset="0.432" stop-color="#00ff94"/><stop offset="0.486" stop-color="#00ff7a"/><stop offset="0.541" stop-color="#00ff67"/><stop offset="0.595" stop-color="#00ff59"/><stop offset="0.649" stop-color="#00ff4e"/><stop offset="0.703" stop-color="#00ff44"/><stop offset="0.757" stop-color="#00ff39"/><stop offset="0.811" stop-color="#00ff2f"/><stop offset="0.865" stop-color="#00ff26"/><stop offset="0.919" stop-color="#00ff1f"/><stop offset="0.973" stop-color="#00ff19"/><stop offset="1.000" stop-color="#00ff16"/></linearGradient><linearGradient id="ga40" x1="0" x2="1" y1="0" y2="0"><stop offset="0.000" stop-color="#00aaff"/><stop offset="0.054" stop-color="#00b8ff"/><stop offset="0.108" stop-color="#00c4ff"/><stop offset="0.162" stop-color="#00d2ff"/><stop offset="0.216" stop-color="#00e6ff"/><stop offset="0.270" stop-color="#00fffd"/><stop offset="0.324" stop-color="#00ffda"/><stop offset="0.378" stop-color="#00ffb1"/><stop offset="0.432" stop-color="#00ff8b"/><stop offset="0.486" stop-color="#00ff71"/><stop offset="0.541" stop-color="#00ff5f"/><stop offset="0.595" stop-color="#00ff52"/><stop offset="0.649" stop-color="#00ff48"/><stop offset="0.703" stop-color="#00ff3e"/><stop offset="0.757" stop-color="#00ff33"/><stop offset="0.811" stop-color="#00ff28"/><stop offset="0.865" stop-color="#00ff20"/><stop offset="0.919" stop-color="#00ff19"/><stop offset="0.973" stop-color="#00ff14"/><stop offset="1.000" stop-color="#00ff11"/></linearGradient><linearGradient id="ga41" x1="0" x2="1" y1="0" y2="0"><stop offset="0.000" stop-color="#00b4ff"/><stop offset="0.054" stop-color="#00c1ff"/><stop offset="0.108" stop-color="#00ccff"/><stop offset="0.162" stop-color="#00dbff"/><stop offset="0.216" stop-color="#00f0ff"/><stop offset="0.270" stop-color="#00fff4"/><stop offset="0.324" stop-color="#00ffd1"/><stop offset="0.378" stop-color="#00ffa9"/><stop offset="0.432" stop-color="#00ff84"/><stop offset="0.486" stop-color="#00ff69"/><stop offset="0.541" stop-color="#00ff57"/><stop offset="0.595" stop-color="#00ff4c"/><stop offset="0.649" stop-color="#00ff42"/><stop offset="0.703" stop-color="#00ff38"/><stop offset="0.757" stop-color="#00ff2d"/><stop offset="0.811" stop-color="#00ff22"/><stop offset="0.865" stop-color="#00ff1a"/><stop offset="0.919" stop-color="#00ff13"/><stop offset="0.973" stop-color="#00ff0f"/><stop offset="1.000" stop-color="#00ff0c"/></linearGradient><linearGradient id="ga42" x1="0" x2="1" y1="0" y2="0"><stop offset="0.000" stop-color="#00bdff"/><stop offset="0.054" stop-color="#00c9ff"/><stop offset="0.108" stop-color="#00d5ff"/><stop offset="0.162" stop-color="#00e4ff"/><stop offset="0.216" stop-color="#00f9ff"/><stop offset="0.270" stop-color="#00ffea"/><stop offset="0.324" stop-color="#00ffc8"/><stop offset="0.378" stop-color="#00ffa1"/><stop offset="0.432" stop-color="#00ff7c"/><stop offset="0.486" stop-color="#00ff61"/><stop offset="0.541" stop-color="#00ff50"/><stop offset="0.595" stop-color="#00ff45"/><stop offset="0.649" stop-color="#00ff3c"/><stop offset="0.703" stop-color="#00ff32"/><stop offset="0.757" stop-color="#00ff27"/><stop offset="0.811" stop-color="#00ff1c"/><stop offset="0.865" stop-color="#00ff13"/><stop offset="0.919" stop-color="#00ff0d"/><stop offset="0.973" stop-color="#00ff09"/><stop offset="1.000" stop-color="#00ff06"/></linearGradient><linearGradient id="ga43" x1="0" x2="1" y1="0" y2="0"><stop offset="0.000" stop-color="#00c6ff"/><stop offset="0.054" stop-color="#00d2ff"/><stop offset="0.108" stop-color="#00ddff"/><stop offset="0.162" stop-color="#00edff"/><stop offset="0.216" stop-color="#00fffc"/><stop offset="0.270" stop-color="#00ffe1"/><stop offset="0.324" stop-color="#00ffbf"/><stop offset="0.378" stop-color="#00ff99"/><stop offset="0.432" stop-color="#00ff76"/><stop offset="0.486" stop-color="#00ff59"/><stop offset="0.541" stop-color="#00ff49"/><stop offset="0.595" stop-color="#00ff3f"/><stop offset="0.649" stop-color="#00ff36"/><stop offset="0.703" stop-color="#00ff2c"/><stop offset="0.757" stop-color="#00ff20"/><stop offset="0.811" stop-color="#00ff16"/><stop offset="0.865" stop-color="#00ff0d"/><stop offset="0.919" stop-color="#00ff07"/><stop offset="0.973" stop-color="#00ff03"/><stop offset="1.000" stop-color="#00ff00"/></linearGradient><linearGradient id="ga44" x1="0" x2="1" y1="0" y2="0"><stop offset="0.000" stop-color="#00cfff"/><stop offset="0.054" stop-color="#00dbff"/><stop offset="0.108" stop-color="#00e6ff"/><stop offset="0.162" stop-color="#00f5ff"/><stop offset="0.216" stop-color="#00fff3"/><stop offset="0.270" stop-color="#00ffd8"/><stop offset="0.324" stop-color="#00ffb7"/><stop offset="0.378" stop-color="#00ff92"/><stop offset="0.432" stop-color="#00ff6f"/><stop offset="0.486" stop-color="#00ff52"/><stop offset="0.541" stop-color="#00ff42"/><stop offset="0.595" stop-color="#00ff38"/><stop offset="0.649" stop-color="#00ff2f"/><stop offset="0.703" stop-color="#00ff25"/><stop offset="0.757" stop-color="#00ff1a"/><stop offset="0.811" stop-color="#00ff0f"/><stop offset="0.865" stop-color="#00ff07"/><stop offset="0.919" stop-color="#00ff01"/><stop offset="0.973" stop-color="#03ff00"/><stop offset="1.000" stop-color="#06ff00"/></linearGradient><linearGradient id="ga45" x1="0" x2="1" y1="0" y2="0"><stop offset="0.000" stop-color="#00d7ff"/><stop offset="0.054" stop-color="#00e3ff"/><stop offset="0.108" stop-color="#00eeff"/><stop offset="0.162" stop-color="#00feff"/><stop offset="0.216" stop-color="#00ffeb"/><stop offset="0.270" stop-color="#00ffcf"/><stop offset="0.324" stop-color="#00ffae"/><stop offset="0.378" stop-color="#00ff8b"/><stop offset="0.432" stop-color="#00ff69"/><stop offset="0.486" stop-color="#00ff4c"/><stop offset="0.541" stop-color="#00ff3c"/><stop offset="0.595" stop-color="#00ff32"/><stop offset="0.649" stop-color="#00ff29"/><stop offset="0.703" stop-color="#00ff1f"/><stop offset="0.757" stop-color="#00ff13"/><stop offset="0.811" stop-color="#00ff08"/><stop offset="0.865" stop-color="#00ff00"/><stop offset="0.919" stop-color="#06ff00"/><stop offset="0.973" stop-color="#0aff00"/><stop offset="1.000" stop-color="#0cff00"/></linearGradient><linearGradient id="ga46" x1="0" x2="1" y1="0" y2="0"><stop offset="0.000" stop-color="#00dfff"/><stop offset="0.054" stop-color="#00eaff"/><stop offset="0.108" stop-color="#00f6ff"/><stop offset="0.162" stop-color="#00fff8"/><stop offset="0.216" stop-color="#00ffe2"/><stop offset="0.270" stop-color="#00ffc7"/><stop offset="0.324" stop-color="#00ffa6"/><stop offset="0.378" stop-color="#00ff84"/><stop offset="0.432" stop-color="#00ff63"/><stop offset="0.486" stop-color="#00ff47"/><stop offset="0.541" stop-color="#00ff36"/><stop offset="0.595" stop-color="#00ff2b"/><stop offset="0.649" stop-color="#00ff23"/><stop offset="0.703" stop-color="#00ff19"/><stop offset="0.757" stop-color="#00ff0d"/><stop offset="0.811" stop-color="#00ff02"/><stop offset="0.865" stop-color="#07ff00"/><stop offset="0.919" stop-color="#0dff00"/><stop offset="0.973" stop-color="#11ff00"/><stop offset="1.000" stop-color="#14ff00"/></linearGradient><linearGradient id="ga47" x1="0" x2="1" y1="0" y2="0"><stop offset="0.000" stop-color="#00e5ff"/><stop offset="0.054" stop-color="#00f2ff"/><stop offset="0.108" stop-color="#00feff"/><stop offset="0.162" stop-color="#00fff0"/><stop offset="0.216" stop-color="#00ffda"/><stop offset="0.270" stop-color="#00ffbe"/><stop offset="0.324" stop-color="#00ff9e"/><stop offset="0.378" stop-color="#00ff7e"/><stop offset="0.432" stop-color="#00ff5e"/><stop offset="0.486" stop-color="#00ff43"/><stop offset="0.541" stop-color="#00ff31"/><stop offset="0.595" stop-color="#00ff25"/><stop offset="0.649" stop-color="#00ff1c"/><stop offset="0.703" stop-color="#00ff13"/><stop offset="0.757" stop-color="#00ff06"/><stop offset="0.811" stop-color="#05ff00"/><stop offset="0.865" stop-color="#0eff00"/><stop offset="0.919" stop-color="#14ff00"/><stop offset="0.973" stop-color="#18ff00"/><stop offset="1.000" stop-color="#1bff00"/></linearGradient><linearGradient id="ga48" x1="0" x2="1" y1="0" y2="0"><stop offset="0.000" stop-color="#00ecff"/><stop offset="0.054" stop-color="#00f9ff"/><stop offset="0.108" stop-color="#00fff9"/><stop offset="0.162" stop-color="#00ffe8"/><stop offset="0.216" stop-color="#00ffd1"/><stop offset="0.270" stop-color="#00ffb6"/><stop offset="0.324" stop-color="#00ff97"/><stop offset="0.378" stop-color="#00ff77"/><stop offset="0.432" stop-color="#00ff59"/><stop offset="0.486" stop-color="#00ff3f"/><stop offset="0.541" stop-color="#00ff2b"/><stop offset="0.595" stop-color="#00ff1f"/><stop offset="0.649" stop-color="#00ff16"/><stop offset="0.703" stop-color="#00ff0c"/><stop offset="0.757" stop-color="#01ff00"/><stop offset="0.811" stop-color="#0dff00"/><stop offset="0.865" stop-color="#16ff00"/><stop offset="0.919" stop-color="#1cff00"/><stop offset="0.973" stop-color="#20ff00"/><stop offset="1.000" stop-color="#23ff00"/></linearGradient><linearGradient id="ga49" x1="0" x2="1" y1="0" y2="0"><stop offset="0.000" stop-color="#00f2ff"/><stop offset="0.054" stop-color="#00fffe"/><stop offset="0.108" stop-color="#00fff1"/><stop offset="0.162" stop-color="#00ffe0"/><stop offset="0.216" stop-color="#00ffc9"/><stop offset="0.270" stop-color="#00ffae"/><stop offset="0.324" stop-color="#00ff8f"/><stop offset="0.378" stop-color="#00ff71"/><stop offset="0.432" stop-color="#00ff54"/><stop offset="0.486" stop-color="#00ff3a"/><stop offset="0.541" stop-color="#00ff26"/><stop offset="0.595" stop-color="#00ff18"/><stop offset="0.649" stop-color="#00ff0f"/><stop offset="0.703" stop-color="#00ff05"/><stop offset="0.757" stop-color="#08ff00"/><stop offset="0.811" stop-color="#14ff00"/><stop offset="0.865" stop-color="#1dff00"/><stop offset="0.919" stop-color="#23ff00"/><stop offset="0.973" stop-color="#28ff00"/><stop offset="1.000" stop-color="#2cff00"/></linearGradient><linearGradient id="ga50" x1="0" x2="1" y1="0" y2="0"><stop offset="0.000" stop-color="#00f8ff"/><stop offset="0.054" stop-color="#00fff7"/><stop offset="0.108" stop-color="#00ffe9"/><stop offset="0.162" stop-color="#00ffd9"/><stop offset="0.216" stop-color="#00ffc1"/><stop offset="0.270" stop-color="#00ffa6"/><stop offset="0.324" stop-color="#00ff88"/><stop offset="0.378" stop-color="#00ff6b"/><stop offset="0.432" stop-color="#00ff4e"/><stop offset="0.486" stop-color="#00ff36"/><stop offset="0.541" stop-color="#00ff20"/><stop offset="0.595" stop-color="#00ff11"/><stop offset="0.649" stop-color="#00ff08"/><stop offset="0.703" stop-color="#02ff00"/><stop offset="0.757" stop-color="#0fff00"/><stop offset="0.811" stop-color="#1cff00"/><stop offset="0.865" stop-color="#25ff00"/><stop offset="0.919" stop-color="#2cff00"/><stop offset="0.973" stop-color="#31ff00"/><stop offset="1.000" stop-color="#34ff00"/></linearGradient><linearGradient id="ga51" x1="0" x2="1" y1="0" y2="0"><stop offset="0.000" stop-color="#00feff"/><stop offset="0.054" stop-color="#00fff1"/><stop offset="0.108" stop-color="#00ffe2"/><stop offset="0.162" stop-color="#00ffd1"/><stop offset="0.216" stop-color="#00ffb9"/><stop offset="0.270" stop-color="#00ff9e"/><stop offset="0.324" stop-color="#00ff81"/><stop offset="0.378" stop-color="#00ff65"/><stop offset="0.432" stop-color="#00ff49"/><stop offset="0.486" stop-color="#00ff31"/><stop offset="0.541" stop-color="#00ff1a"/><stop offset="0.595" stop-color="#00ff0a"/><stop offset="0.649" stop-color="#00ff00"/><stop offset="0.703" stop-color="#09ff00"/><stop offset="0.757" stop-color="#17ff00"/><stop offset="0.811" stop-color="#24ff00"/><stop offset="0.865" stop-color="#2eff00"/><stop offset="0.919" stop-color="#34ff00"/><stop offset="0.973" stop-color="#3aff00"/><stop offset="1.000" stop-color="#3dff00"/></linearGradient><linearGradient id="ga52" x1="0" x2="1" y1="0" y2="0"><stop offset="0.000" stop-color="#00fffa"/><stop offset="0.054" stop-color="#00ffea"/><stop offset="0.108" stop-color="#00ffda"/><stop offset="0.162" stop-color="#00ffc9"/><stop offset="0.216" stop-color="#00ffb2"/><stop offset="0.270" stop-color="#00ff96"/><stop offset="0.324" stop-color="#00ff7a"/><stop offset="0.378" stop-color="#00ff5f"/><stop offset="0.432" stop-color="#00ff43"/><stop offset="0.486" stop-color="#00ff2b"/><stop offset="0.541" stop-color="#00ff13"/><stop offset="0.595" stop-color="#00ff02"/><stop offset="0.649" stop-color="#08ff00"/><stop offset="0.703" stop-color="#11ff00"/><stop offset="0.757" stop-color="#1fff00"/><stop offset="0.811" stop-color="#2cff00"/><stop offset="0.865" stop-color="#36ff00"/><stop offset="0.919" stop-color="#3dff00"/><stop offset="0.973" stop-color="#43ff00"/><stop offset="1.000" stop-color="#46ff00"/></linearGradient><linearGradient id="ga53" x1="0" x2="1" y1="0" y2="0"><stop offset="0.000" stop-color="#00fff5"/><stop offset="0.054" stop-color="#00ffe4"/><stop offset="0.108" stop-color="#00ffd3"/><stop offset="0.162" stop-color="#00ffc1"/><stop offset="0.216" stop-color="#00ffaa"/><stop offset="0.270" stop-color="#00ff8f"/><stop offset="0.324" stop-color="#00ff73"/><stop offset="0.378" stop-color="#00ff58"/><stop offset="0.432" stop-color="#00ff3d"/><stop offset="0.486" stop-color="#00ff24"/><stop offset="0.541" stop-color="#00ff0b"/><stop offset="0.595" stop-color="#06ff00"/><stop offset="0.649" stop-color="#10ff00"/><stop offset="0.703" stop-color="#1aff00"/><stop offset="0.757" stop-color="#28ff00"/><stop offset="0.811" stop-color="#35ff00"/><stop offset="0.865" stop-color="#3fff00"/><stop offset="0.919" stop-color="#46ff00"/><stop offset="0.973" stop-color="#4cff00"/><stop offset="1.000" stop-color="#4fff00"/></linearGradient><linearGradient id="ga54" x1="0" x2="1" y1="0" y2="0"><stop offset="0.000" stop-color="#00ffef"/><stop offset="0.054" stop-color="#00ffdd"/><stop offset="0.108" stop-color="#00ffcb"/><stop offset="0.162" stop-color="#00ffb9"/><stop offset="0.216" stop-color="#00ffa2"/><stop offset="0.270" stop-color="#00ff87"/><stop offset="0.324" stop-color="#00ff6c"/><stop offset="0.378" stop-color="#00ff52"/><stop offset="0.432" stop-color="#00ff37"/><stop offset="0.486" stop-color="#00ff1c"/><stop offset="0.541" stop-color="#00ff03"/><stop offset="0.595" stop-color="#0fff00"/><stop offset="0.649" stop-color="#19ff00"/><stop offset="0.703" stop-color="#23ff00"/><stop offset="0.757" stop-color="#31ff00"/><stop offset="0.811" stop-color="#3eff00"/><stop offset="0.865" stop-color="#48ff00"/><stop offset="0.919" stop-color="#4fff00"/><stop offset="0.973" stop-color="#55ff00"/><stop offset="1.000" stop-color="#59ff00"/></linearGradient><linearGradient id="ga55" x1="0" x2="1" y1="0" y2="0"><stop offset="0.000" stop-color="#00ffea"/><stop offset="0.054" stop-color="#00ffd6"/><stop offset="0.108" stop-color="#00ffc3"/><stop offset="0.162" stop-color="#00ffb1"/><stop offset="0.216" stop-color="#00ff9a"/><stop offset="0.270" stop-color="#00ff80"/><stop offset="0.324" stop-color="#00ff65"/><stop offset="0.378" stop-color="#00ff4b"/><stop offset="0.432" stop-color="#00ff30"/><stop offset="0.486" stop-color="#00ff14"/><stop offset="0.541" stop-color="#06ff00"/><stop offset="0.595" stop-color="#17ff00"/><stop offset="0.649" stop-color="#23ff00"/><stop offset="0.703" stop-color="#2dff00"/><stop offset="0.757" stop-color="#3aff00"/><stop offset="0.811" stop-color="#47ff00"/><stop offset="0.865" stop-color="#51ff00"/><stop offset="0.919" stop-color="#59ff00"/><stop offset="0.973" stop-color="#5fff00"/><stop offset="1.000" stop-color="#63ff00"/></linearGradient><linearGradient id="ga56" x1="0" x2="1" y1="0" y2="0"><stop offset="0.000" stop-color="#00ffe4"/><stop offset="0.054" stop-color="#00ffcf"/><stop offset="0.108" stop-color="#00ffbb"/><stop offset="0.162" stop-color="#00ffa9"/><stop offset="0.216" stop-color="#00ff93"/><stop offset="0.270" stop-color="#00ff79"/><stop offset="0.324" stop-color="#00ff5e"/><stop offset="0.378" stop-color="#00ff45"/><stop offset="0.432" stop-color="#00ff2a"/><stop offset="0.486" stop-color="#00ff0b"/><stop offset="0.541" stop-color="#0fff00"/><stop offset="0.595" stop-color="#21ff00"/><stop offset="0.649" stop-color="#2cff00"/><stop offset="0.703" stop-color="#37ff00"/><stop offset="0.757" stop-color="#44ff00"/><stop offset="0.811" stop-color="#51ff00"/><stop offset="0.865" stop-color="#5bff00"/><stop offset="0.919" stop-color="#62ff00"/><stop offset="0.973" stop-color="#69ff00"/><stop offset="1.000" stop-color="#6cff00"/></linearGradient><linearGradient id="ga57" x1="0" x2="1" y1="0" y2="0"><stop offset="0.000" stop-color="#00ffde"/><stop offset="0.054" stop-color="#00ffc8"/><stop offset="0.108" stop-color="#00ffb4"/><stop offset="0.162" stop-color="#00ffa1"/><stop offset="0.216" stop-color="#00ff8b"/><stop offset="0.270" stop-color="#00ff71"/><stop offset="0.324" stop-color="#00ff56"/><stop offset="0.378" stop-color="#00ff3e"/><stop offset="0.432" stop-color="#00ff22"/><stop offset="0.486" stop-color="#00ff01"/><stop offset="0.541" stop-color="#18ff00"/><stop offset="0.595" stop-color="#2aff00"/><stop offset="0.649" stop-color="#37ff00"/><stop offset="0.703" stop-color="#41ff00"/><stop offset="0.757" stop-color="#4eff00"/><stop offset="0.811" stop-color="#5bff00"/><stop offset="0.865" stop-color="#65ff00"/><stop offset="0.919" stop-color="#6cff00"/><stop offset="0.973" stop-color="#73ff00"/><stop offset="1.000" stop-color="#76ff00"/></linearGradient><linearGradient id="ga58" x1="0" x2="1" y1="0" y2="0"><stop offset="0.000" stop-color="#00ffd8"/><stop offset="0.054" stop-color="#00ffc1"/><stop offset="0.108" stop-color="#00ffac"/><stop offset="0.162" stop-color="#00ff99"/><stop offset="0.216" stop-color="#00ff83"/><stop offset="0.270" stop-color="#00ff6a"/><stop offset="0.324" stop-color="#00ff4f"/><stop offset="0.378" stop-color="#00ff36"/><stop offset="0.432" stop-color="#00ff1b"/><stop offset="0.486" stop-color="#08ff00"/><stop offset="0.541" stop-color="#22ff00"/><stop offset="0.595" stop-color="#34ff00"/><stop offset="0.649" stop-color="#41ff00"/><stop offset="0.703" stop-color="#4cff00"/><stop offset="0.757" stop-color="#58ff00"/><stop offset="0.811" stop-color="#65ff00"/><stop offset="0.865" stop-color="#6fff00"/><stop offset="0.919" stop-color="#76ff00"/><stop offset="0.973" stop-color="#7dff00"/><stop offset="1.000" stop-color="#80ff00"/></linearGradient><linearGradient id="ga59" x1="0" x2="1" y1="0" y2="0"><stop offset="0.000" stop-color="#00ffd1"/><stop offset="0.054" stop-color="#00ffba"/><stop offset="0.108" stop-color="#00ffa4"/><stop offset="0.162" stop-color="#00ff91"/><stop offset="0.216" stop-color="#00ff7c"/><stop offset="0.270" stop-color="#00ff62"/><stop offset="0.324" stop-color="#00ff47"/><stop offset="0.378" stop-color="#00ff2f"/><stop offset="0.432" stop-color="#00ff13"/><stop offset="0.486" stop-color="#11ff00"/><stop offset="0.541" stop-color="#2bff00"/><stop offset="0.595" stop-color="#3eff00"/><stop offset="0.649" stop-color="#4cff00"/><stop offset="0.703" stop-color="#57ff00"/><stop offset="0.757" stop-color="#63ff00"/><stop offset="0.811" stop-color="#6fff00"/><stop offset="0.865" stop-color="#79ff00"/><stop offset="0.919" stop-color="#80ff00"/><stop offset="0.973" stop-color="#87ff00"/><stop offset="1.000" stop-color="#8aff00"/></linearGradient><linearGradient id="ga60" x1="0" x2="1" y1="0" y2="0"><stop offset="0.000" stop-color="#00ffc9"/><stop offset="0.054" stop-color="#00ffb2"/><stop offset="0.108" stop-color="#00ff9c"/><stop offset="0.162" stop-color="#00ff89"/><stop offset="0.216" stop-color="#00ff74"/><stop offset="0.270" stop-color="#00ff5b"/><stop offset="0.324" stop-color="#00ff3f"/><stop offset="0.378" stop-color="#00ff27"/><stop offset="0.432" stop-color="#00ff0b"/><stop offset="0.486" stop-color="#1aff00"/><stop offset="0.541" stop-color="#34ff00"/><stop offset="0.595" stop-color="#48ff00"/><stop offset="0.649" stop-color="#57ff00"/><stop offset="0.703" stop-color="#62ff00"/><stop offset="0.757" stop-color="#6eff00"/><stop offset="0.811" stop-color="#79ff00"/><stop offset="0.865" stop-color="#83ff00"/><stop offset="0.919" stop-color="#8aff00"/><stop offset="0.973" stop-color="#91ff00"/><stop offset="1.000" stop-color="#95ff00"/></linearGradient><linearGradient id="ga61" x1="0" x2="1" y1="0" y2="0"><stop offset="0.000" stop-color="#00ffc0"/><stop offset="0.054" stop-color="#00ffaa"/><stop offset="0.108" stop-color="#00ff94"/><stop offset="0.162" stop-color="#00ff81"/><stop offset="0.216" stop-color="#00ff6d"/><stop offset="0.270" stop-color="#00ff53"/><stop offset="0.324" stop-color="#00ff37"/><stop offset="0.378" stop-color="#00ff1f"/><stop offset="0.432" stop-color="#00ff02"/><stop offset="0.486" stop-color="#22ff00"/><stop offset="0.541" stop-color="#3dff00"/><stop offset="0.595" stop-color="#52ff00"/><stop offset="0.649" stop-color="#62ff00"/><stop offset="0.703" stop-color="#6eff00"/><stop offset="0.757" stop-color="#79ff00"/><stop offset="0.811" stop-color="#84ff00"/><stop offset="0.865" stop-color="#8dff00"/><stop offset="0.919" stop-color="#95ff00"/><stop offset="0.973" stop-color="#9cff00"/><stop offset="1.000" stop-color="#9fff00"/></linearGradient><linearGradient id="ga62" x1="0" x2="1" y1="0" y2="0"><stop offset="0.000" stop-color="#00ffb7"/><stop offset="0.054" stop-color="#00ffa1"/><stop offset="0.108" stop-color="#00ff8c"/><stop offset="0.162" stop-color="#00ff7a"/><stop offset="0.216" stop-color="#00ff65"/><stop offset="0.270" stop-color="#00ff4c"/><stop offset="0.324" stop-color="#00ff2f"/><stop offset="0.378" stop-color="#00ff16"/><stop offset="0.432" stop-color="#06ff00"/><stop offset="0.486" stop-color="#2aff00"/><stop offset="0.541" stop-color="#46ff00"/><stop offset="0.595" stop-color="#5cff00"/><stop offset="0.649" stop-color="#6dff00"/><stop offset="0.703" stop-color="#79ff00"/><stop offset="0.757" stop-color="#84ff00"/><stop offset="0.811" stop-color="#8fff00"/><stop offset="0.865" stop-color="#97ff00"/><stop offset="0.919" stop-color="#9fff00"/><stop offset="0.973" stop-color="#a6ff00"/><stop offset="1.000" stop-color="#aaff00"/></linearGradient><linearGradient id="ga63" x1="0" x2="1" y1="0" y2="0"><stop offset="0.000" stop-color="#00ffae"/><stop offset="0.054" stop-color="#00ff99"/><stop offset="0.108" stop-color="#00ff84"/><stop offset="0.162" stop-color="#00ff72"/><stop offset="0.216" stop-color="#00ff5e"/><stop offset="0.270" stop-color="#00ff44"/><stop offset="0.324" stop-color="#00ff27"/><stop offset="0.378" stop-color="#00ff0e"/><stop offset="0.432" stop-color="#0fff00"/><stop offset="0.486" stop-color="#32ff00"/><stop offset="0.541" stop-color="#4fff00"/><stop offset="0.595" stop-color="#66ff00"/><stop offset="0.649" stop-color="#78ff00"/><stop offset="0.703" stop-color="#85ff00"/><stop offset="0.757" stop-color="#8fff00"/><stop offset="0.811" stop-color="#99ff00"/><stop offset="0.865" stop-color="#a2ff00"/><stop offset="0.919" stop-color="#a9ff00"/><stop offset="0.973" stop-color="#b1ff00"/><stop offset="1.000" stop-color="#b4ff00"/></linearGradient><linearGradient id="ga64" x1="0" x2="1" y1="0" y2="0"><stop offset="0.000" stop-color="#00ffa4"/><stop offset="0.054" stop-color="#00ff91"/><stop offset="0.108" stop-color="#00ff7d"/><stop offset="0.162" stop-color="#00ff6a"/><stop offset="0.216" stop-color="#00ff56"/><stop offset="0.270" stop-color="#00ff3d"/><stop offset="0.324" stop-color="#00ff1f"/><stop offset="0.378" stop-color="#00ff05"/><stop offset="0.432" stop-color="#17ff00"/><stop offset="0.486" stop-color="#39ff00"/><stop offset="0.541" stop-color="#58ff00"/><stop offset="0.595" stop-color="#70ff00"/><stop offset="0.649" stop-color="#83ff00"/><stop offset="0.703" stop-color="#90ff00"/><stop offset="0.757" stop-color="#9aff00"/><stop offset="0.811" stop-color="#a4ff00"/><stop offset="0.865" stop-color="#acff00"/><stop offset="0.919" stop-color="#b3ff00"/><stop offset="0.973" stop-color="#bbff00"/><stop offset="1.000" stop-color="#beff00"/></linearGradient><linearGradient id="ga65" x1="0" x2="1" y1="0" y2="0"><stop offset="0.000" stop-color="#00ff9b"/><stop offset="0.054" stop-color="#00ff88"/><stop offset="0.108" stop-color="#00ff75"/><stop offset="0.162" stop-color="#00ff63"/><stop offset="0.216" stop-color="#00ff4f"/><stop offset="0.270" stop-color="#00ff35"/><stop offset="0.324" stop-color="#00ff17"/><stop offset="0.378" stop-color="#03ff00"/><stop offset="0.432" stop-color="#1fff00"/><stop offset="0.486" stop-color="#41ff00"/><stop offset="0.541" stop-color="#60ff00"/><stop offset="0.595" stop-color="#79ff00"/><stop offset="0.649" stop-color="#8eff00"/><stop offset="0.703" stop-color="#9cff00"/><stop offset="0.757" stop-color="#a5ff00"/><stop offset="0.811" stop-color="#afff00"/><stop offset="0.865" stop-color="#b6ff00"/><stop offset="0.919" stop-color="#bdff00"/><stop offset="0.973" stop-color="#c5ff00"/><stop offset="1.000" stop-color="#c9ff00"/></linearGradient><linearGradient id="ga66" x1="0" x2="1" y1="0" y2="0"><stop offset="0.000" stop-color="#00ff93"/><stop offset="0.054" stop-color="#00ff80"/><stop offset="0.108" stop-color="#00ff6d"/><stop offset="0.162" stop-color="#00ff5b"/><stop offset="0.216" stop-color="#00ff47"/><stop offset="0.270" stop-color="#00ff2e"/><stop offset="0.324" stop-color="#00ff10"/><stop offset="0.378" stop-color="#0bff00"/><stop offset="0.432" stop-color="#28ff00"/><stop offset="0.486" stop-color="#49ff00"/><stop offset="0.541" stop-color="#69ff00"/><stop offset="0.595" stop-color="#83ff00"/><stop offset="0.649" stop-color="#98ff00"/><stop offset="0.703" stop-color="#a6ff00"/><stop offset="0.757" stop-color="#b0ff00"/><stop offset="0.811" stop-color="#b9ff00"/><stop offset="0.865" stop-color="#c0ff00"/><stop offset="0.919" stop-color="#c7ff00"/><stop offset="0.973" stop-color="#cfff00"/><stop offset="1.000" stop-color="#d2ff00"/></linearGradient><linearGradient id="ga67" x1="0" x2="1" y1="0" y2="0"><stop offset="0.000" stop-color="#00ff8b"/><stop offset="0.054" stop-color="#00ff79"/><stop offset="0.108" stop-color="#00ff65"/><stop offset="0.162" stop-color="#00ff53"/><stop offset="0.216" stop-color="#00ff3f"/><stop offset="0.270" stop-color="#00ff27"/><stop offset="0.324" stop-color="#00ff08"/><stop offset="0.378" stop-color="#13ff00"/><stop offset="0.432" stop-color="#30ff00"/><stop offset="0.486" stop-color="#51ff00"/><stop offset="0.541" stop-color="#71ff00"/><stop offset="0.595" stop-color="#8dff00"/><stop offset="0.649" stop-color="#a3ff00"/><stop offset="0.703" stop-color="#b1ff00"/><stop offset="0.757" stop-color="#bbff00"/><stop offset="0.811" stop-color="#c4ff00"/><stop offset="0.865" stop-color="#caff00"/><stop offset="0.919" stop-color="#d1ff00"/><stop offset="0.973" stop-color="#d8ff00"/><stop offset="1.000" stop-color="#dcff00"/></linearGradient><linearGradient id="ga68" x1="0" x2="1" y1="0" y2="0"><stop offset="0.000" stop-color="#00ff84"/><stop offset="0.054" stop-color="#00ff71"/><stop offset="0.108" stop-color="#00ff5d"/><stop offset="0.162" stop-color="#00ff4b"/><stop offset="0.216" stop-color="#00ff38"/><stop offset="0.270" stop-color="#00ff1f"/><stop offset="0.324" stop-color="#00ff01"/><stop offset="0.378" stop-color="#1aff00"/><stop offset="0.432" stop-color="#38ff00"/><stop offset="0.486" stop-color="#59ff00"/><stop offset="0.541" stop-color="#7aff00"/><stop offset="0.595" stop-color="#96ff00"/><stop offset="0.649" stop-color="#adff00"/><stop offset="0.703" stop-color="#bbff00"/><stop offset="0.757" stop-color="#c5ff00"/><stop offset="0.811" stop-color="#ceff00"/><stop offset="0.865" stop-color="#d4ff00"/><stop offset="0.919" stop-color="#daff00"/><stop offset="0.973" stop-color="#e1ff00"/><stop offset="1.000" stop-color="#e5ff00"/></linearGradient><linearGradient id="ga69" x1="0" x2="1" y1="0" y2="0"><stop offset="0.000" stop-color="#00ff7d"/><stop offset="0.054" stop-color="#00ff69"/><stop offset="0.108" stop-color="#00ff55"/><stop offset="0.162" stop-color="#00ff43"/><stop offset="0.216" stop-color="#00ff30"/><stop offset="0.270" stop-color="#00ff18"/><stop offset="0.324" stop-color="#05ff00"/><stop offset="0.378" stop-color="#21ff00"/><stop offset="0.432" stop-color="#40ff00"/><stop offset="0.486" stop-color="#62ff00"/><stop offset="0.541" stop-color="#83ff00"/><stop offset="0.595" stop-color="#a0ff00"/><stop offset="0.649" stop-color="#b7ff00"/><stop offset="0.703" stop-color="#c5ff00"/><stop offset="0.757" stop-color="#cfff00"/><stop offset="0.811" stop-color="#d8ff00"/><stop offset="0.865" stop-color="#deff00"/><stop offset="0.919" stop-color="#e4ff00"/><stop offset="0.973" stop-color="#eaff00"/><stop offset="1.000" stop-color="#edff00"/></linearGradient><linearGradient id="ga70" x1="0" x2="1" y1="0" y2="0"><stop offset="0.000" stop-color="#00ff77"/><stop offset="0.054" stop-color="#00ff62"/><stop offset="0.108" stop-color="#00ff4e"/><stop offset="0.162" stop-color="#00ff3b"/><stop offset="0.216" stop-color="#00ff28"/><stop offset="0.270" stop-color="#00ff11"/><stop offset="0.324" stop-color="#0cff00"/><stop offset="0.378" stop-color="#29ff00"/><stop offset="0.432" stop-color="#48ff00"/><stop offset="0.486" stop-color="#6aff00"/><stop offset="0.541" stop-color="#8bff00"/><stop offset="0.595" stop-color="#a9ff00"/><stop offset="0.649" stop-color="#c0ff00"/><stop offset="0.703" stop-color="#ceff00"/><stop offset="0.757" stop-color="#d8ff00"/><stop offset="0.811" stop-color="#e2ff00"/><stop offset="0.865" stop-color="#e7ff00"/><stop offset="0.919" stop-color="#edff00"/><stop offset="0.973" stop-color="#f3ff00"/><stop offset="1.000" stop-color="#f6ff00"/></linearGradient><linearGradient id="ga71" x1="0" x2="1" y1="0" y2="0"><stop offset="0.000" stop-color="#00ff70"/><stop offset="0.054" stop-color="#00ff5b"/><stop offset="0.108" stop-color="#00ff46"/><stop offset="0.162" stop-color="#00ff32"/><stop offset="0.216" stop-color="#00ff21"/><stop offset="0.270" stop-color="#00ff0a"/><stop offset="0.324" stop-color="#13ff00"/><stop offset="0.378" stop-color="#30ff00"/><stop offset="0.432" stop-color="#50ff00"/><stop offset="0.486" stop-color="#72ff00"/><stop offset="0.541" stop-color="#94ff00"/><stop offset="0.595" stop-color="#b2ff00"/><stop offset="0.649" stop-color="#caff00"/><stop offset="0.703" stop-color="#d7ff00"/><stop offset="0.757" stop-color="#e2ff00"/><stop offset="0.811" stop-color="#ebff00"/><stop offset="0.865" stop-color="#f1ff00"/><stop offset="0.919" stop-color="#f6ff00"/><stop offset="0.973" stop-color="#fbff00"/><stop offset="1.000" stop-color="#feff00"/></linearGradient><linearGradient id="ga72" x1="0" x2="1" y1="0" y2="0"><stop offset="0.000" stop-color="#00ff6a"/><stop offset="0.054" stop-color="#00ff54"/><stop offset="0.108" stop-color="#00ff3e"/><stop offset="0.162" stop-color="#00ff2a"/><stop offset="0.216" stop-color="#00ff19"/><stop offset="0.270" stop-color="#00ff03"/><stop offset="0.324" stop-color="#1bff00"/><stop offset="0.378" stop-color="#38ff00"/><stop offset="0.432" stop-color="#59ff00"/><stop offset="0.486" stop-color="#7bff00"/><stop offset="0.541" stop-color="#9cff00"/><stop offset="0.595" stop-color="#bbff00"/><stop offset="0.649" stop-color="#d3ff00"/><stop offset="0.703" stop-color="#e0ff00"/><stop offset="0.757" stop-color="#eaff00"/><stop offset="0.811" stop-color="#f4ff00"/><stop offset="0.865" stop-color="#faff00"/><stop offset="0.919" stop-color="#feff00"/><stop offset="0.973" stop-color="#fffb00"/><stop offset="1.000" stop-color="#fff800"/></linearGradient><linearGradient id="ga73" x1="0" x2="1" y1="0" y2="0"><stop offset="0.000" stop-color="#00ff63"/><stop offset="0.054" stop-color="#00ff4d"/><stop offset="0.108" stop-color="#00ff37"/><stop offset="0.162" stop-color="#00ff22"/><stop offset="0.216" stop-color="#00ff11"/><stop offset="0.270" stop-color="#05ff00"/><stop offset="0.324" stop-color="#22ff00"/><stop offset="0.378" stop-color="#40ff00"/><stop offset="0.432" stop-color="#61ff00"/><stop offset="0.486" stop-color="#83ff00"/><stop offset="0.541" stop-color="#a5ff00"/><stop offset="0.595" stop-color="#c4ff00"/><stop offset="0.649" stop-color="#dcff00"/><stop offset="0.703" stop-color="#e9ff00"/><stop offset="0.757" stop-color="#f3ff00"/><stop offset="0.811" stop-color="#fdff00"/><stop offset="0.865" stop-color="#fffb00"/><stop offset="0.919" stop-color="#fff700"/><stop offset="0.973" stop-color="#fff200"/><stop offset="1.000" stop-color="#fff000"/></linearGradient><linearGradient id="ga74" x1="0" x2="1" y1="0" y2="0"><stop offset="0.000" stop-color="#00ff5c"/><stop offset="0.054" stop-color="#00ff45"/><stop offset="0.108" stop-color="#00ff2f"/><stop offset="0.162" stop-color="#00ff1a"/><stop offset="0.216" stop-color="#00ff09"/><stop offset="0.270" stop-color="#0dff00"/><stop offset="0.324" stop-color="#2aff00"/><stop offset="0.378" stop-color="#49ff00"/><stop offset="0.432" stop-color="#6aff00"/><stop offset="0.486" stop-color="#8cff00"/><stop offset="0.541" stop-color="#aeff00"/><stop offset="0.595" stop-color="#ccff00"/><stop offset="0.649" stop-color="#e4ff00"/><stop offset="0.703" stop-color="#f1ff00"/><stop offset="0.757" stop-color="#fbff00"/><stop offset="0.811" stop-color="#fff900"/><stop offset="0.865" stop-color="#fff300"/><stop offset="0.919" stop-color="#ffef00"/><stop offset="0.973" stop-color="#ffea00"/><stop offset="1.000" stop-color="#ffe800"/></linearGradient><linearGradient id="ga75" x1="0" x2="1" y1="0" y2="0"><stop offset="0.000" stop-color="#00ff54"/><stop offset="0.054" stop-color="#00ff3e"/><stop offset="0.108" stop-color="#00ff28"/><stop offset="0.162" stop-color="#00ff13"/><stop offset="0.216" stop-color="#00ff00"/><stop offset="0.270" stop-color="#16ff00"/><stop offset="0.324" stop-color="#33ff00"/><stop offset="0.378" stop-color="#52ff00"/><stop offset="0.432" stop-color="#74ff00"/><stop offset="0.486" stop-color="#96ff00"/><stop offset="0.541" stop-color="#b7ff00"/><stop offset="0.595" stop-color="#d5ff00"/><stop offset="0.649" stop-color="#ecff00"/><stop offset="0.703" stop-color="#f9ff00"/><stop offset="0.757" stop-color="#fffc00"/><stop offset="0.811" stop-color="#fff100"/><stop offset="0.865" stop-color="#ffea00"/><stop offset="0.919" stop-color="#ffe600"/><stop offset="0.973" stop-color="#ffe200"/><stop offset="1.000" stop-color="#ffe000"/></linearGradient><linearGradient id="ga76" x1="0" x2="1" y1="0" y2="0"><stop offset="0.000" stop-color="#00ff4c"/><stop offset="0.054" stop-color="#00ff36"/><stop offset="0.108" stop-color="#00ff20"/><stop offset="0.162" stop-color="#00ff0b"/><stop offset="0.216" stop-color="#08ff00"/><stop offset="0.270" stop-color="#1fff00"/><stop offset="0.324" stop-color="#3cff00"/><stop offset="0.378" stop-color="#5bff00"/><stop offset="0.432" stop-color="#7dff00"/><stop offset="0.486" stop-color="#9fff00"/><stop offset="0.541" stop-color="#c0ff00"/><stop offset="0.595" stop-color="#ddff00"/><stop offset="0.649" stop-color="#f4ff00"/><stop offset="0.703" stop-color="#fffe00"/><stop offset="0.757" stop-color="#fff400"/><stop offset="0.811" stop-color="#ffe900"/><stop offset="0.865" stop-color="#ffe200"/><stop offset="0.919" stop-color="#ffde00"/><stop offset="0.973" stop-color="#ffda00"/><stop offset="1.000" stop-color="#ffd800"/></linearGradient><linearGradient id="ga77" x1="0" x2="1" y1="0" y2="0"><stop offset="0.000" stop-color="#00ff45"/><stop offset="0.054" stop-color="#00ff2f"/><stop offset="0.108" stop-color="#00ff19"/><stop offset="0.162" stop-color="#00ff03"/><stop offset="0.216" stop-color="#11ff00"/><stop offset="0.270" stop-color="#28ff00"/><stop offset="0.324" stop-color="#45ff00"/><stop offset="0.378" stop-color="#65ff00"/><stop offset="0.432" stop-color="#87ff00"/><stop offset="0.486" stop-color="#a9ff00"/><stop offset="0.541" stop-color="#c9ff00"/><stop offset="0.595" stop-color="#e6ff00"/><stop offset="0.649" stop-color="#fbff00"/><stop offset="0.703" stop-color="#fff600"/><stop offset="0.757" stop-color="#ffed00"/><stop offset="0.811" stop-color="#ffe100"/><stop offset="0.865" stop-color="#ffd900"/><stop offset="0.919" stop-color="#ffd500"/><stop offset="0.973" stop-color="#ffd200"/><stop offset="1.000" stop-color="#ffd000"/></linearGradient><linearGradient id="ga78" x1="0" x2="1" y1="0" y2="0"><stop offset="0.000" stop-color="#00ff3d"/><stop offset="0.054" stop-color="#00ff27"/><stop offset="0.108" stop-color="#00ff11"/><stop offset="0.162" stop-color="#05ff00"/><stop offset="0.216" stop-color="#1aff00"/><stop offset="0.270" stop-color="#31ff00"/><stop offset="0.324" stop-color="#4fff00"/><stop offset="0.378" stop-color="#70ff00"/><stop offset="0.432" stop-color="#91ff00"/><stop offset="0.486" stop-color="#b2ff00"/><stop offset="0.541" stop-color="#d2ff00"/><stop offset="0.595" stop-color="#eeff00"/><stop offset="0.649" stop-color="#fffb00"/><stop offset="0.703" stop-color="#ffee00"/><stop offset="0.757" stop-color="#ffe600"/><stop offset="0.811" stop-color="#ffda00"/><stop offset="0.865" stop-color="#ffd100"/><stop offset="0.919" stop-color="#ffcd00"/><stop offset="0.973" stop-color="#ffca00"/><stop offset="1.000" stop-color="#ffc800"/></linearGradient><linearGradient id="ga79" x1="0" x2="1" y1="0" y2="0"><stop offset="0.000" stop-color="#00ff35"/><stop offset="0.054" stop-color="#00ff1f"/><stop offset="0.108" stop-color="#00ff09"/><stop offset="0.162" stop-color="#0dff00"/><stop offset="0.216" stop-color="#23ff00"/><stop offset="0.270" stop-color="#3bff00"/><stop offset="0.324" stop-color="#59ff00"/><stop offset="0.378" stop-color="#7aff00"/><stop offset="0.432" stop-color="#9cff00"/><stop offset="0.486" stop-color="#bcff00"/><stop offset="0.541" stop-color="#dcff00"/><stop offset="0.595" stop-color="#f7ff00"/><stop offset="0.649" stop-color="#fff300"/><stop offset="0.703" stop-color="#ffe700"/><stop offset="0.757" stop-color="#ffde00"/><stop offset="0.811" stop-color="#ffd100"/><stop offset="0.865" stop-color="#ffc900"/><stop offset="0.919" stop-color="#ffc400"/><stop offset="0.973" stop-color="#ffc200"/><stop offset="1.000" stop-color="#ffc000"/></linearGradient><linearGradient id="ga80" x1="0" x2="1" y1="0" y2="0"><stop offset="0.000" stop-color="#00ff2d"/><stop offset="0.054" stop-color="#00ff17"/><stop offset="0.108" stop-color="#00ff01"/><stop offset="0.162" stop-color="#16ff00"/><stop offset="0.216" stop-color="#2cff00"/><stop offset="0.270" stop-color="#44ff00"/><stop offset="0.324" stop-color="#63ff00"/><stop offset="0.378" stop-color="#85ff00"/><stop offset="0.432" stop-color="#a7ff00"/><stop offset="0.486" stop-color="#c7ff00"/><stop offset="0.541" stop-color="#e5ff00"/><stop offset="0.595" stop-color="#fffe00"/><stop offset="0.649" stop-color="#ffeb00"/><stop offset="0.703" stop-color="#ffdf00"/><stop offset="0.757" stop-color="#ffd600"/><stop offset="0.811" stop-color="#ffc900"/><stop offset="0.865" stop-color="#ffc000"/><stop offset="0.919" stop-color="#ffbb00"/><stop offset="0.973" stop-color="#ffb900"/><stop offset="1.000" stop-color="#ffb700"/></linearGradient><linearGradient id="ga81" x1="0" x2="1" y1="0" y2="0"><stop offset="0.000" stop-color="#00ff25"/><stop offset="0.054" stop-color="#00ff0f"/><stop offset="0.108" stop-color="#07ff00"/><stop offset="0.162" stop-color="#1eff00"/><stop offset="0.216" stop-color="#35ff00"/><stop offset="0.270" stop-color="#4eff00"/><stop offset="0.324" stop-color="#6eff00"/><stop offset="0.378" stop-color="#90ff00"/><stop offset="0.432" stop-color="#b2ff00"/><stop offset="0.486" stop-color="#d1ff00"/><stop offset="0.541" stop-color="#eeff00"/><stop offset="0.595" stop-color="#fff600"/><stop offset="0.649" stop-color="#ffe300"/><stop offset="0.703" stop-color="#ffd600"/><stop offset="0.757" stop-color="#ffcd00"/><stop offset="0.811" stop-color="#ffc000"/><stop offset="0.865" stop-color="#ffb700"/><stop offset="0.919" stop-color="#ffb200"/><stop offset="0.973" stop-color="#ffb000"/><stop offset="1.000" stop-color="#ffae00"/></linearGradient><linearGradient id="ga82" x1="0" x2="1" y1="0" y2="0"><stop offset="0.000" stop-color="#00ff1d"/><stop offset="0.054" stop-color="#00ff07"/><stop offset="0.108" stop-color="#0fff00"/><stop offset="0.162" stop-color="#27ff00"/><stop offset="0.216" stop-color="#3fff00"/><stop offset="0.270" stop-color="#58ff00"/><stop offset="0.324" stop-color="#78ff00"/><stop offset="0.378" stop-color="#9bff00"/><stop offset="0.432" stop-color="#bdff00"/><stop offset="0.486" stop-color="#dbff00"/><stop offset="0.541" stop-color="#f8ff00"/><stop offset="0.595" stop-color="#ffed00"/><stop offset="0.649" stop-color="#ffda00"/><stop offset="0.703" stop-color="#ffcd00"/><stop offset="0.757" stop-color="#ffc400"/><stop offset="0.811" stop-color="#ffb700"/><stop offset="0.865" stop-color="#ffae00"/><stop offset="0.919" stop-color="#ffa900"/><stop offset="0.973" stop-color="#ffa600"/><stop offset="1.000" stop-color="#ffa400"/></linearGradient><linearGradient id="ga83" x1="0" x2="1" y1="0" y2="0"><stop offset="0.000" stop-color="#00ff15"/><stop offset="0.054" stop-color="#01ff00"/><stop offset="0.108" stop-color="#18ff00"/><stop offset="0.162" stop-color="#30ff00"/><stop offset="0.216" stop-color="#48ff00"/><stop offset="0.270" stop-color="#63ff00"/><stop offset="0.324" stop-color="#83ff00"/><stop offset="0.378" stop-color="#a6ff00"/><stop offset="0.432" stop-color="#c8ff00"/><stop offset="0.486" stop-color="#e6ff00"/><stop offset="0.541" stop-color="#fffc00"/><stop offset="0.595" stop-color="#ffe400"/><stop offset="0.649" stop-color="#ffd200"/><stop offset="0.703" stop-color="#ffc400"/><stop offset="0.757" stop-color="#ffba00"/><stop offset="0.811" stop-color="#ffae00"/><stop offset="0.865" stop-color="#ffa500"/><stop offset="0.919" stop-color="#ffa000"/><stop offset="0.973" stop-color="#ff9c00"/><stop offset="1.000" stop-color="#ff9a00"/></linearGradient><linearGradient id="ga84" x1="0" x2="1" y1="0" y2="0"><stop offset="0.000" stop-color="#00ff0d"/><stop offset="0.054" stop-color="#09ff00"/><stop offset="0.108" stop-color="#20ff00"/><stop offset="0.162" stop-color="#38ff00"/><stop offset="0.216" stop-color="#52ff00"/><stop offset="0.270" stop-color="#6dff00"/><stop offset="0.324" stop-color="#8eff00"/><stop offset="0.378" stop-color="#b2ff00"/><stop offset="0.432" stop-color="#d4ff00"/><stop offset="0.486" stop-color="#f1ff00"/><stop offset="0.541" stop-color="#fff200"/><stop offset="0.595" stop-color="#ffdb00"/><stop offset="0.649" stop-color="#ffc900"/><stop offset="0.703" stop-color="#ffbb00"/><stop offset="0.757" stop-color="#ffb000"/><stop offset="0.811" stop-color="#ffa400"/><stop offset="0.865" stop-color="#ff9c00"/><stop offset="0.919" stop-color="#ff9700"/><stop offset="0.973" stop-color="#ff9200"/><stop offset="1.000" stop-color="#ff9000"/></linearGradient><linearGradient id="ga85" x1="0" x2="1" y1="0" y2="0"><stop offset="0.000" stop-color="#00ff06"/><stop offset="0.054" stop-color="#11ff00"/><stop offset="0.108" stop-color="#29ff00"/><stop offset="0.162" stop-color="#41ff00"/><stop offset="0.216" stop-color="#5bff00"/><stop offset="0.270" stop-color="#77ff00"/><stop offset="0.324" stop-color="#99ff00"/><stop offset="0.378" stop-color="#bdff00"/><stop offset="0.432" stop-color="#dfff00"/><stop offset="0.486" stop-color="#fcff00"/><stop offset="0.541" stop-color="#ffe800"/><stop offset="0.595" stop-color="#ffd100"/><stop offset="0.649" stop-color="#ffc000"/><stop offset="0.703" stop-color="#ffb200"/><stop offset="0.757" stop-color="#ffa600"/><stop offset="0.811" stop-color="#ff9b00"/><stop offset="0.865" stop-color="#ff9300"/><stop offset="0.919" stop-color="#ff8e00"/><stop offset="0.973" stop-color="#ff8900"/><stop offset="1.000" stop-color="#ff8600"/></linearGradient><linearGradient id="ga86" x1="0" x2="1" y1="0" y2="0"><stop offset="0.000" stop-color="#02ff00"/><stop offset="0.054" stop-color="#19ff00"/><stop offset="0.108" stop-color="#31ff00"/><stop offset="0.162" stop-color="#4aff00"/><stop offset="0.216" stop-color="#65ff00"/><stop offset="0.270" stop-color="#81ff00"/><stop offset="0.324" stop-color="#a3ff00"/><stop offset="0.378" stop-color="#c8ff00"/><stop offset="0.432" stop-color="#ebff00"/><stop offset="0.486" stop-color="#fff800"/><stop offset="0.541" stop-color="#ffde00"/><stop offset="0.595" stop-color="#ffc700"/><stop offset="0.649" stop-color="#ffb600"/><stop offset="0.703" stop-color="#ffa800"/><stop offset="0.757" stop-color="#ff9c00"/><stop offset="0.811" stop-color="#ff9100"/><stop offset="0.865" stop-color="#ff8a00"/><stop offset="0.919" stop-color="#ff8400"/><stop offset="0.973" stop-color="#ff7f00"/><stop offset="1.000" stop-color="#ff7b00"/></linearGradient><linearGradient id="ga87" x1="0" x2="1" y1="0" y2="0"><stop offset="0.000" stop-color="#0aff00"/><stop offset="0.054" stop-color="#21ff00"/><stop offset="0.108" stop-color="#3aff00"/><stop offset="0.162" stop-color="#53ff00"/><stop offset="0.216" stop-color="#6eff00"/><stop offset="0.270" stop-color="#8bff00"/><stop offset="0.324" stop-color="#aeff00"/><stop offset="0.378" stop-color="#d4ff00"/><stop offset="0.432" stop-color="#f7ff00"/><stop offset="0.486" stop-color="#ffed00"/><stop offset="0.541" stop-color="#ffd400"/><stop offset="0.595" stop-color="#ffbd00"/><stop offset="0.649" stop-color="#ffac00"/><stop offset="0.703" stop-color="#ff9e00"/><stop offset="0.757" stop-color="#ff9200"/><stop offset="0.811" stop-color="#ff8700"/><stop offset="0.865" stop-color="#ff8000"/><stop offset="0.919" stop-color="#ff7b00"/><stop offset="0.973" stop-color="#ff7500"/><stop offset="1.000" stop-color="#ff7100"/></linearGradient><linearGradient id="ga88" x1="0" x2="1" y1="0" y2="0"><stop offset="0.000" stop-color="#11ff00"/><stop offset="0.054" stop-color="#29ff00"/><stop offset="0.108" stop-color="#42ff00"/><stop offset="0.162" stop-color="#5cff00"/><stop offset="0.216" stop-color="#78ff00"/><stop offset="0.270" stop-color="#95ff00"/><stop offset="0.324" stop-color="#b9ff00"/><stop offset="0.378" stop-color="#dfff00"/><stop offset="0.432" stop-color="#fffc00"/><stop offset="0.486" stop-color="#ffe200"/><stop offset="0.541" stop-color="#ffca00"/><stop offset="0.595" stop-color="#ffb300"/><stop offset="0.649" stop-color="#ffa200"/><stop offset="0.703" stop-color="#ff9400"/><stop offset="0.757" stop-color="#ff8800"/><stop offset="0.811" stop-color="#ff7e00"/><stop offset="0.865" stop-color="#ff7700"/><stop offset="0.919" stop-color="#ff7100"/><stop offset="0.973" stop-color="#ff6b00"/><stop offset="1.000" stop-color="#ff6800"/></linearGradient><linearGradient id="ga89" x1="0" x2="1" y1="0" y2="0"><stop offset="0.000" stop-color="#18ff00"/><stop offset="0.054" stop-color="#31ff00"/><stop offset="0.108" stop-color="#4bff00"/><stop offset="0.162" stop-color="#65ff00"/><stop offset="0.216" stop-color="#81ff00"/><stop offset="0.270" stop-color="#9fff00"/><stop offset="0.324" stop-color="#c4ff00"/><stop offset="0.378" stop-color="#eaff00"/><stop offset="0.432" stop-color="#fff100"/><stop offset="0.486" stop-color="#ffd700"/><stop offset="0.541" stop-color="#ffc000"/><stop offset="0.595" stop-color="#ffa900"/><stop offset="0.649" stop-color="#ff9700"/><stop offset="0.703" stop-color="#ff8900"/><stop offset="0.757" stop-color="#ff7e00"/><stop offset="0.811" stop-color="#ff7400"/><stop offset="0.865" stop-color="#ff6e00"/><stop offset="0.919" stop-color="#ff6800"/><stop offset="0.973" stop-color="#ff6200"/><stop offset="1.000" stop-color="#ff5e00"/></linearGradient><linearGradient id="ga90" x1="0" x2="1" y1="0" y2="0"><stop offset="0.000" stop-color="#1fff00"/><stop offset="0.054" stop-color="#38ff00"/><stop offset="0.108" stop-color="#54ff00"/><stop offset="0.162" stop-color="#6eff00"/><stop offset="0.216" stop-color="#8aff00"/><stop offset="0.270" stop-color="#a9ff00"/><stop offset="0.324" stop-color="#ceff00"/><stop offset="0.378" stop-color="#f5ff00"/><stop offset="0.432" stop-color="#ffe600"/><stop offset="0.486" stop-color="#ffcd00"/><stop offset="0.541" stop-color="#ffb500"/><stop offset="0.595" stop-color="#ff9f00"/><stop offset="0.649" stop-color="#ff8c00"/><stop offset="0.703" stop-color="#ff7f00"/><stop offset="0.757" stop-color="#ff7400"/><stop offset="0.811" stop-color="#ff6b00"/><stop offset="0.865" stop-color="#ff6400"/><stop offset="0.919" stop-color="#ff5e00"/><stop offset="0.973" stop-color="#ff5800"/><stop offset="1.000" stop-color="#ff5500"/></linearGradient><linearGradient id="ga91" x1="0" x2="1" y1="0" y2="0"><stop offset="0.000" stop-color="#26ff00"/><stop offset="0.054" stop-color="#40ff00"/><stop offset="0.108" stop-color="#5cff00"/><stop offset="0.162" stop-color="#77ff00"/><stop offset="0.216" stop-color="#93ff00"/><stop offset="0.270" stop-color="#b2ff00"/><stop offset="0.324" stop-color="#d9ff00"/><stop offset="0.378" stop-color="#fffe00"/><stop offset="0.432" stop-color="#ffdb00"/><stop offset="0.486" stop-color="#ffc200"/><stop offset="0.541" stop-color="#ffab00"/><stop offset="0.595" stop-color="#ff9500"/><stop offset="0.649" stop-color="#ff8100"/><stop offset="0.703" stop-color="#ff7500"/><stop offset="0.757" stop-color="#ff6a00"/><stop offset="0.811" stop-color="#ff6200"/><stop offset="0.865" stop-color="#ff5b00"/><stop offset="0.919" stop-color="#ff5500"/><stop offset="0.973" stop-color="#ff4f00"/><stop offset="1.000" stop-color="#ff4c00"/></linearGradient><linearGradient id="ga92" x1="0" x2="1" y1="0" y2="0"><stop offset="0.000" stop-color="#2dff00"/><stop offset="0.054" stop-color="#48ff00"/><stop offset="0.108" stop-color="#65ff00"/><stop offset="0.162" stop-color="#80ff00"/><stop offset="0.216" stop-color="#9dff00"/><stop offset="0.270" stop-color="#bcff00"/><stop offset="0.324" stop-color="#e3ff00"/><stop offset="0.378" stop-color="#fff300"/><stop offset="0.432" stop-color="#ffd100"/><stop offset="0.486" stop-color="#ffb800"/><stop offset="0.541" stop-color="#ffa100"/><stop offset="0.595" stop-color="#ff8a00"/><stop offset="0.649" stop-color="#ff7700"/><stop offset="0.703" stop-color="#ff6b00"/><stop offset="0.757" stop-color="#ff6100"/><stop offset="0.811" stop-color="#ff5800"/><stop offset="0.865" stop-color="#ff5200"/><stop offset="0.919" stop-color="#ff4c00"/><stop offset="0.973" stop-color="#ff4500"/><stop offset="1.000" stop-color="#ff4200"/></linearGradient><linearGradient id="ga93" x1="0" x2="1" y1="0" y2="0"><stop offset="0.000" stop-color="#35ff00"/><stop offset="0.054" stop-color="#50ff00"/><stop offset="0.108" stop-color="#6dff00"/><stop offset="0.162" stop-color="#89ff00"/><stop offset="0.216" stop-color="#a6ff00"/><stop offset="0.270" stop-color="#c6ff00"/><stop offset="0.324" stop-color="#edff00"/><stop offset="0.378" stop-color="#ffe900"/><stop offset="0.432" stop-color="#ffc700"/><stop offset="0.486" stop-color="#ffae00"/><stop offset="0.541" stop-color="#ff9700"/><stop offset="0.595" stop-color="#ff8000"/><stop offset="0.649" stop-color="#ff6d00"/><stop offset="0.703" stop-color="#ff6100"/><stop offset="0.757" stop-color="#ff5700"/><stop offset="0.811" stop-color="#ff4f00"/><stop offset="0.865" stop-color="#ff4900"/><stop offset="0.919" stop-color="#ff4200"/><stop offset="0.973" stop-color="#ff3c00"/><stop offset="1.000" stop-color="#ff3900"/></linearGradient><linearGradient id="ga94" x1="0" x2="1" y1="0" y2="0"><stop offset="0.000" stop-color="#3dff00"/><stop offset="0.054" stop-color="#59ff00"/><stop offset="0.108" stop-color="#76ff00"/><stop offset="0.162" stop-color="#92ff00"/><stop offset="0.216" stop-color="#afff00"/><stop offset="0.270" stop-color="#d0ff00"/><stop offset="0.324" stop-color="#f7ff00"/><stop offset="0.378" stop-color="#ffdf00"/><stop offset="0.432" stop-color="#ffbe00"/><stop offset="0.486" stop-color="#ffa400"/><stop offset="0.541" stop-color="#ff8d00"/><stop offset="0.595" stop-color="#ff7600"/><stop offset="0.649" stop-color="#ff6300"/><stop offset="0.703" stop-color="#ff5700"/><stop offset="0.757" stop-color="#ff4d00"/><stop offset="0.811" stop-color="#ff4600"/><stop offset="0.865" stop-color="#ff3f00"/><stop offset="0.919" stop-color="#ff3900"/><stop offset="0.973" stop-color="#ff3300"/><stop offset="1.000" stop-color="#ff2f00"/></linearGradient><linearGradient id="ga95" x1="0" x2="1" y1="0" y2="0"><stop offset="0.000" stop-color="#43ff00"/><stop offset="0.054" stop-color="#5fff00"/><stop offset="0.108" stop-color="#7cff00"/><stop offset="0.162" stop-color="#99ff00"/><stop offset="0.216" stop-color="#b7ff00"/><stop offset="0.270" stop-color="#d7ff00"/><stop offset="0.324" stop-color="#ffff00"/><stop offset="0.378" stop-color="#ffd800"/><stop offset="0.432" stop-color="#ffb600"/><stop offset="0.486" stop-color="#ff9c00"/><stop offset="0.541" stop-color="#ff8600"/><stop offset="0.595" stop-color="#ff6f00"/><stop offset="0.649" stop-color="#ff5c00"/><stop offset="0.703" stop-color="#ff5000"/><stop offset="0.757" stop-color="#ff4600"/><stop offset="0.811" stop-color="#ff3f00"/><stop offset="0.865" stop-color="#ff3800"/><stop offset="0.919" stop-color="#ff3200"/><stop offset="0.973" stop-color="#ff2c00"/><stop offset="1.000" stop-color="#ff2800"/></linearGradient><clipPath id="clipga"><rect x="54.40" y="26.40" width="184.50" height="190.60" rx="2.60"/></clipPath><linearGradient id="cb0" x1="0" x2="0" y1="0" y2="1"><stop offset="0.000" stop-color="#8000ff"/><stop offset="0.017" stop-color="#6c00ff"/><stop offset="0.033" stop-color="#5900ff"/><stop offset="0.050" stop-color="#4600ff"/><stop offset="0.067" stop-color="#3300ff"/><stop offset="0.083" stop-color="#2000ff"/><stop offset="0.100" stop-color="#0d00ff"/><stop offset="0.117" stop-color="#0006ff"/><stop offset="0.133" stop-color="#0019ff"/><stop offset="0.150" stop-color="#002dff"/><stop offset="0.167" stop-color="#0040ff"/><stop offset="0.183" stop-color="#0053ff"/><stop offset="0.200" stop-color="#0066ff"/><stop offset="0.217" stop-color="#0079ff"/><stop offset="0.233" stop-color="#008cff"/><stop offset="0.250" stop-color="#009fff"/><stop offset="0.267" stop-color="#00b2ff"/><stop offset="0.283" stop-color="#00c6ff"/><stop offset="0.300" stop-color="#00d9ff"/><stop offset="0.317" stop-color="#00ecff"/><stop offset="0.333" stop-color="#00ffff"/><stop offset="0.350" stop-color="#00ffec"/><stop offset="0.367" stop-color="#00ffd9"/><stop offset="0.383" stop-color="#00ffc6"/><stop offset="0.400" stop-color="#00ffb2"/><stop offset="0.417" stop-color="#00ff9f"/><stop offset="0.433" stop-color="#00ff8c"/><stop offset="0.450" stop-color="#00ff79"/><stop offset="0.467" stop-color="#00ff66"/><stop offset="0.483" stop-color="#00ff53"/><stop offset="0.500" stop-color="#00ff40"/><stop offset="0.517" stop-color="#00ff2d"/><stop offset="0.533" stop-color="#00ff19"/><stop offset="0.550" stop-color="#00ff06"/><stop offset="0.567" stop-color="#0dff00"/><stop offset="0.583" stop-color="#20ff00"/><stop offset="0.600" stop-color="#33ff00"/><stop offset="0.617" stop-color="#46ff00"/><stop offset="0.633" stop-color="#59ff00"/><stop offset="0.650" stop-color="#6cff00"/><stop offset="0.667" stop-color="#80ff00"/><stop offset="0.683" stop-color="#93ff00"/><stop offset="0.700" stop-color="#a6ff00"/><stop offset="0.717" stop-color="#b9ff00"/><stop offset="0.733" stop-color="#ccff00"/><stop offset="0.750" stop-color="#dfff00"/><stop offset="0.767" stop-color="#f2ff00"/><stop offset="0.783" stop-color="#fff900"/><stop offset="0.800" stop-color="#ffe500"/><stop offset="0.817" stop-color="#ffd200"/><stop offset="0.833" stop-color="#ffbf00"/><stop offset="0.850" stop-color="#ffac00"/><stop offset="0.867" stop-color="#ff9900"/><stop offset="0.883" stop-color="#ff8600"/><stop offset="0.900" stop-color="#ff7300"/><stop offset="0.917" stop-color="#ff6000"/><stop offset="0.933" stop-color="#ff4c00"/><stop offset="0.950" stop-color="#ff3900"/><stop offset="0.967" stop-color="#ff2600"/><stop offset="0.983" stop-color="#ff1300"/><stop offset="1.000" stop-color="#ff0000"/></linearGradient><linearGradient id="gb0" x1="0" x2="1" y1="0" y2="0"><stop offset="0.000" stop-color="#8000ff"/><stop offset="0.054" stop-color="#8000ff"/><stop offset="0.108" stop-color="#8000ff"/><stop offset="0.162" stop-color="#8000ff"/><stop offset="0.216" stop-color="#8000ff"/><stop offset="0.270" stop-color="#8000ff"/><stop offset="0.324" stop-color="#8000ff"/><stop offset="0.378" stop-color="#8000ff"/><stop offset="0.432" stop-color="#8000ff"/><stop offset="0.486" stop-color="#7b00ff"/><stop offset="0.541" stop-color="#6500ff"/><stop offset="0.595" stop-color="#4b00ff"/><stop offset="0.649" stop-color="#2d00ff"/><stop offset="0.703" stop-color="#0c00ff"/><stop offset="0.757" stop-color="#0015ff"/><stop offset="0.811" stop-color="#0033ff"/><stop offset="0.865" stop-color="#004eff"/><stop offset="0.919" stop-color="#0065ff"/><stop offset="0.973" stop-color="#007cff"/><stop offset="1.000" stop-color="#0086ff"/></linearGradient><linearGradient id="gb1" x1="0" x2="1" y1="0" y2="0"><stop offset="0.000" stop-color="#8000ff"/><stop offset="0.054" stop-color="#8000ff"/><stop offset="0.108" stop-color="#8000ff"/><stop offset="0.162" stop-color="#8000ff"/><stop offset="0.216" stop-color="#8000ff"/><stop offset="0.270" stop-color="#8000ff"/><stop offset="0.324" stop-color="#8000ff"/><stop offset="0.378" stop-color="#8000ff"/><stop offset="0.432" stop-color="#8000ff"/><stop offset="0.486" stop-color="#7400ff"/><stop offset="0.541" stop-color="#5e00ff"/><stop offset="0.595" stop-color="#4300ff"/><stop offset="0.649" stop-color="#2500ff"/><stop offset="0.703" stop-color="#0400ff"/><stop offset="0.757" stop-color="#001eff"/><stop offset="0.811" stop-color="#003cff"/><stop offset="0.865" stop-color="#0056ff"/><stop offset="0.919" stop-color="#006eff"/><stop offset="0.973" stop-color="#0084ff"/><stop offset="1.000" stop-color="#008fff"/></linearGradient><linearGradient id="gb2" x1="0" x2="1" y1="0" y2="0"><stop offset="0.000" stop-color="#8000ff"/><stop offset="0.054" stop-color="#8000ff"/><stop offset="0.108" stop-color="#8000ff"/><stop offset="0.162" stop-color="#8000ff"/><stop offset="0.216" stop-color="#8000ff"/><stop offset="0.270" stop-color="#8000ff"/><stop offset="0.324" stop-color="#8000ff"/><stop offset="0.378" stop-color="#8000ff"/><stop offset="0.432" stop-color="#7c00ff"/><stop offset="0.486" stop-color="#6c00ff"/><stop offset="0.541" stop-color="#5600ff"/><stop offset="0.595" stop-color="#3b00ff"/><stop offset="0.649" stop-color="#1d00ff"/><stop offset="0.703" stop-color="#0005ff"/><stop offset="0.757" stop-color="#0026ff"/><stop offset="0.811" stop-color="#0044ff"/><stop offset="0.865" stop-color="#005eff"/><stop offset="0.919" stop-color="#0076ff"/><stop offset="0.973" stop-color="#008cff"/><stop offset="1.000" stop-color="#0097ff"/></linearGradient><linearGradient id="gb3" x1="0" x2="1" y1="0" y2="0"><stop offset="0.000" stop-color="#8000ff"/><stop offset="0.054" stop-color="#8000ff"/><stop offset="0.108" stop-color="#8000ff"/><stop offset="0.162" stop-color="#8000ff"/><stop offset="0.216" stop-color="#8000ff"/><stop offset="0.270" stop-color="#8000ff"/><stop offset="0.324" stop-color="#8000ff"/><stop offset="0.378" stop-color="#8000ff"/><stop offset="0.432" stop-color="#7500ff"/><stop offset="0.486" stop-color="#6500ff"/><stop offset="0.541" stop-color="#4f00ff"/><stop offset="0.595" stop-color="#3400ff"/><stop offset="0.649" stop-color="#1500ff"/><stop offset="0.703" stop-color="#000dff"/><stop offset="0.757" stop-color="#002fff"/><stop offset="0.811" stop-color="#004dff"/><stop offset="0.865" stop-color="#0067ff"/><stop offset="0.919" stop-color="#007eff"/><stop offset="0.973" stop-color="#0094ff"/><stop offset="1.000" stop-color="#009fff"/></linearGradient><linearGradient id="gb4" x1="0" x2="1" y1="0" y2="0"><stop offset="0.000" stop-color="#8000ff"/><stop offset="0.054" stop-color="#8000ff"/><stop offset="0.108" stop-color="#8000ff"/><stop offset="0.162" stop-color="#8000ff"/><stop offset="0.216" stop-color="#8000ff"/><stop offset="0.270" stop-color="#8000ff"/><stop offset="0.324" stop-color="#8000ff"/><stop offset="0.378" stop-color="#7900ff"/><stop offset="0.432" stop-color="#6d00ff"/><stop offset="0.486" stop-color="#5d00ff"/><stop offset="0.541" stop-color="#4700ff"/><stop offset="0.595" stop-color="#2c00ff"/><stop offset="0.649" stop-color="#0c00ff"/><stop offset="0.703" stop-color="#0016ff"/><stop offset="0.757" stop-color="#0037ff"/><stop offset="0.811" stop-color="#0055ff"/><stop offset="0.865" stop-color="#006eff"/><stop offset="0.919" stop-color="#0086ff"/><stop offset="0.973" stop-color="#009dff"/><stop offset="1.000" stop-color="#00a7ff"/></linearGradient><linearGradient id="gb5" x1="0" x2="1" y1="0" y2="0"><stop offset="0.000" stop-color="#8000ff"/><stop offset="0.054" stop-color="#8000ff"/><stop offset="0.108" stop-color="#8000ff"/><stop offset="0.162" stop-color="#8000ff"/><stop offset="0.216" stop-color="#8000ff"/><stop offset="0.270" stop-color="#7f00ff"/><stop offset="0.324" stop-color="#7900ff"/><stop offset="0.378" stop-color="#7100ff"/><stop offset="0.432" stop-color="#6600ff"/><stop offset="0.486" stop-color="#5600ff"/><stop offset="0.541" stop-color="#4000ff"/><stop offset="0.595" stop-color="#2400ff"/><stop offset="0.649" stop-color="#0400ff"/><stop offset="0.703" stop-color="#001fff"/><stop offset="0.757" stop-color="#0040ff"/><stop offset="0.811" stop-color="#005dff"/><stop offset="0.865" stop-color="#0076ff"/><stop offset="0.919" stop-color="#008eff"/><stop offset="0.973" stop-color="#00a5ff"/><stop offset="1.000" stop-color="#00b0ff"/></linearGradient><linearGradient id="gb6" x1="0" x2="1" y1="0" y2="0"><stop offset="0.000" stop-color="#8000ff"/><stop offset="0.054" stop-color="#8000ff"/><stop offset="0.108" stop-color="#8000ff"/><stop offset="0.162" stop-color="#7f00ff"/><stop offset="0.216" stop-color="#7b00ff"/><stop offset="0.270" stop-color="#7600ff"/><stop offset="0.324" stop-color="#7100ff"/><stop offset="0.378" stop-color="#6900ff"/><stop offset="0.432" stop-color="#5e00ff"/><stop offset="0.486" stop-color="#4e00ff"/><stop offset="0.541" stop-color="#3800ff"/><stop offset="0.595" stop-color="#1d00ff"/><stop offset="0.649" stop-color="#0004ff"/><stop offset="0.703" stop-color="#0028ff"/><stop offset="0.757" stop-color="#0049ff"/><stop offset="0.811" stop-color="#0065ff"/><stop offset="0.865" stop-color="#007eff"/><stop offset="0.919" stop-color="#0096ff"/><stop offset="0.973" stop-color="#00adff"/><stop offset="1.000" stop-color="#00b8ff"/></linearGradient><linearGradient id="gb7" x1="0" x2="1" y1="0" y2="0"><stop offset="0.000" stop-color="#8000ff"/><stop offset="0.054" stop-color="#7e00ff"/><stop offset="0.108" stop-color="#7b00ff"/><stop offset="0.162" stop-color="#7700ff"/><stop offset="0.216" stop-color="#7200ff"/><stop offset="0.270" stop-color="#6e00ff"/><stop offset="0.324" stop-color="#6900ff"/><stop offset="0.378" stop-color="#6200ff"/><stop offset="0.432" stop-color="#5700ff"/><stop offset="0.486" stop-color="#4600ff"/><stop offset="0.541" stop-color="#3100ff"/><stop offset="0.595" stop-color="#1500ff"/><stop offset="0.649" stop-color="#000dff"/><stop offset="0.703" stop-color="#0031ff"/><stop offset="0.757" stop-color="#0051ff"/><stop offset="0.811" stop-color="#006dff"/><stop offset="0.865" stop-color="#0086ff"/><stop offset="0.919" stop-color="#009eff"/><stop offset="0.973" stop-color="#00b5ff"/><stop offset="1.000" stop-color="#00c0ff"/></linearGradient><linearGradient id="gb8" x1="0" x2="1" y1="0" y2="0"><stop offset="0.000" stop-color="#7800ff"/><stop offset="0.054" stop-color="#7500ff"/><stop offset="0.108" stop-color="#7300ff"/><stop offset="0.162" stop-color="#6f00ff"/><stop offset="0.216" stop-color="#6a00ff"/><stop offset="0.270" stop-color="#6600ff"/><stop offset="0.324" stop-color="#6100ff"/><stop offset="0.378" stop-color="#5a00ff"/><stop offset="0.432" stop-color="#4f00ff"/><stop offset="0.486" stop-color="#3f00ff"/><stop offset="0.541" stop-color="#2900ff"/><stop offset="0.595" stop-color="#0d00ff"/><stop offset="0.649" stop-color="#0015ff"/><stop offset="0.703" stop-color="#0039ff"/><stop offset="0.757" stop-color="#005aff"/><stop offset="0.811" stop-color="#0075ff"/><stop offset="0.865" stop-color="#008eff"/><stop offset="0.919" stop-color="#00a7ff"/><stop offset="0.973" stop-color="#00beff"/><stop offset="1.000" stop-color="#00c8ff"/></linearGradient><linearGradient id="gb9" x1="0" x2="1" y1="0" y2="0"><stop offset="0.000" stop-color="#7000ff"/><stop offset="0.054" stop-color="#6e00ff"/><stop offset="0.108" stop-color="#6b00ff"/><stop offset="0.162" stop-color="#6700ff"/><stop offset="0.216" stop-color="#6200ff"/><stop offset="0.270" stop-color="#5e00ff"/><stop offset="0.324" stop-color="#5a00ff"/><stop offset="0.378" stop-color="#5300ff"/><stop offset="0.432" stop-color="#4800ff"/><stop offset="0.486" stop-color="#3700ff"/><stop offset="0.541" stop-color="#2200ff"/><stop offset="0.595" stop-color="#0600ff"/><stop offset="0.649" stop-color="#001dff"/><stop offset="0.703" stop-color="#0042ff"/><stop offset="0.757" stop-color="#0062ff"/><stop offset="0.811" stop-color="#007cff"/><stop offset="0.865" stop-color="#0095ff"/><stop offset="0.919" stop-color="#00afff"/><stop offset="0.973" stop-color="#00c6ff"/><stop offset="1.000" stop-color="#00d1ff"/></linearGradient><linearGradient id="gb10" x1="0" x2="1" y1="0" y2="0"><stop offset="0.000" stop-color="#6800ff"/><stop offset="0.054" stop-color="#6600ff"/><stop offset="0.108" stop-color="#6300ff"/><stop offset="0.162" stop-color="#5f00ff"/><stop offset="0.216" stop-color="#5a00ff"/><stop offset="0.270" stop-color="#5500ff"/><stop offset="0.324" stop-color="#5200ff"/><stop offset="0.378" stop-color="#4c00ff"/><stop offset="0.432" stop-color="#4100ff"/><stop offset="0.486" stop-color="#3000ff"/><stop offset="0.541" stop-color="#1b00ff"/><stop offset="0.595" stop-color="#0002ff"/><stop offset="0.649" stop-color="#0025ff"/><stop offset="0.703" stop-color="#004aff"/><stop offset="0.757" stop-color="#006aff"/><stop offset="0.811" stop-color="#0084ff"/><stop offset="0.865" stop-color="#009eff"/><stop offset="0.919" stop-color="#00b8ff"/><stop offset="0.973" stop-color="#00cfff"/><stop offset="1.000" stop-color="#00d9ff"/></linearGradient><linearGradient id="gb11" x1="0" x2="1" y1="0" y2="0"><stop offset="0.000" stop-color="#6200ff"/><stop offset="0.054" stop-color="#5f00ff"/><stop offset="0.108" stop-color="#5c00ff"/><stop offset="0.162" stop-color="#5800ff"/><stop offset="0.216" stop-color="#5200ff"/><stop offset="0.270" stop-color="#4e00ff"/><stop offset="0.324" stop-color="#4a00ff"/><stop offset="0.378" stop-color="#4400ff"/><stop offset="0.432" stop-color="#3a00ff"/><stop offset="0.486" stop-color="#2900ff"/><stop offset="0.541" stop-color="#1400ff"/><stop offset="0.595" stop-color="#0009ff"/><stop offset="0.649" stop-color="#002dff"/><stop offset="0.703" stop-color="#0052ff"/><stop offset="0.757" stop-color="#0072ff"/><stop offset="0.811" stop-color="#008cff"/><stop offset="0.865" stop-color="#00a6ff"/><stop offset="0.919" stop-color="#00c1ff"/><stop offset="0.973" stop-color="#00d7ff"/><stop offset="1.000" stop-color="#00e1ff"/></linearGradient><linearGradient id="gb12" x1="0" x2="1" y1="0" y2="0"><stop offset="0.000" stop-color="#5b00ff"/><stop offset="0.054" stop-color="#5800ff"/><stop offset="0.108" stop-color="#5500ff"/><stop offset="0.162" stop-color="#5000ff"/><stop offset="0.216" stop-color="#4a00ff"/><stop offset="0.270" stop-color="#4600ff"/><stop offset="0.324" stop-color="#4300ff"/><stop offset="0.378" stop-color="#3d00ff"/><stop offset="0.432" stop-color="#3300ff"/><stop offset="0.486" stop-color="#2200ff"/><stop offset="0.541" stop-color="#0d00ff"/><stop offset="0.595" stop-color="#0011ff"/><stop offset="0.649" stop-color="#0035ff"/><stop offset="0.703" stop-color="#005aff"/><stop offset="0.757" stop-color="#0079ff"/><stop offset="0.811" stop-color="#0094ff"/><stop offset="0.865" stop-color="#00afff"/><stop offset="0.919" stop-color="#00caff"/><stop offset="0.973" stop-color="#00e0ff"/><stop offset="1.000" stop-color="#00eaff"/></linearGradient><linearGradient id="gb13" x1="0" x2="1" y1="0" y2="0"><stop offset="0.000" stop-color="#5500ff"/><stop offset="0.054" stop-color="#5100ff"/><stop offset="0.108" stop-color="#4d00ff"/><stop offset="0.162" stop-color="#4800ff"/><stop offset="0.216" stop-color="#4300ff"/><stop offset="0.270" stop-color="#3e00ff"/><stop offset="0.324" stop-color="#3b00ff"/><stop offset="0.378" stop-color="#3600ff"/><stop offset="0.432" stop-color="#2c00ff"/><stop offset="0.486" stop-color="#1c00ff"/><stop offset="0.541" stop-color="#0600ff"/><stop offset="0.595" stop-color="#0018ff"/><stop offset="0.649" stop-color="#003cff"/><stop offset="0.703" stop-color="#0061ff"/><stop offset="0.757" stop-color="#0081ff"/><stop offset="0.811" stop-color="#009cff"/><stop offset="0.865" stop-color="#00b8ff"/><stop offset="0.919" stop-color="#00d3ff"/><stop offset="0.973" stop-color="#00e9ff"/><stop offset="1.000" stop-color="#00f2ff"/></linearGradient><linearGradient id="gb14" x1="0" x2="1" y1="0" y2="0"><stop offset="0.000" stop-color="#4f00ff"/><stop offset="0.054" stop-color="#4a00ff"/><stop offset="0.108" stop-color="#4600ff"/><stop offset="0.162" stop-color="#4100ff"/><stop offset="0.216" stop-color="#3b00ff"/><stop offset="0.270" stop-color="#3700ff"/><stop offset="0.324" stop-color="#3400ff"/><stop offset="0.378" stop-color="#2e00ff"/><stop offset="0.432" stop-color="#2400ff"/><stop offset="0.486" stop-color="#1500ff"/><stop offset="0.541" stop-color="#0001ff"/><stop offset="0.595" stop-color="#001fff"/><stop offset="0.649" stop-color="#0044ff"/><stop offset="0.703" stop-color="#0068ff"/><stop offset="0.757" stop-color="#0088ff"/><stop offset="0.811" stop-color="#00a4ff"/><stop offset="0.865" stop-color="#00c1ff"/><stop offset="0.919" stop-color="#00ddff"/><stop offset="0.973" stop-color="#00f1ff"/><stop offset="1.000" stop-color="#00faff"/></linearGradient><linearGradient id="gb15" x1="0" x2="1" y1="0" y2="0"><stop offset="0.000" stop-color="#4900ff"/><stop offset="0.054" stop-color="#4400ff"/><stop offset="0.108" stop-color="#3f00ff"/><stop offset="0.162" stop-color="#3a00ff"/><stop offset="0.216" stop-color="#3400ff"/><stop offset="0.270" stop-color="#3000ff"/><stop offset="0.324" stop-color="#2d00ff"/><stop offset="0.378" stop-color="#2700ff"/><stop offset="0.432" stop-color="#1d00ff"/><stop offset="0.486" stop-color="#0f00ff"/><stop offset="0.541" stop-color="#0008ff"/><stop offset="0.595" stop-color="#0026ff"/><stop offset="0.649" stop-color="#004bff"/><stop offset="0.703" stop-color="#006fff"/><stop offset="0.757" stop-color="#008fff"/><stop offset="0.811" stop-color="#00acff"/><stop offset="0.865" stop-color="#00caff"/><stop offset="0.919" stop-color="#00e6ff"/><stop offset="0.973" stop-color="#00faff"/><stop offset="1.000" stop-color="#00fffb"/></linearGradient><linearGradient id="gb16" x1="0" x2="1" y1="0" y2="0"><stop offset="0.000" stop-color="#4300ff"/><stop offset="0.054" stop-color="#3d00ff"/><stop offset="0.108" stop-color="#3700ff"/><stop offset="0.162" stop-color="#3300ff"/><stop offset="0.216" stop-color="#2d00ff"/><stop offset="0.270" stop-color="#2900ff"/><stop offset="0.324" stop-color="#2600ff"/><stop offset="0.378" stop-color="#2000ff"/><stop offset="0.432" stop-color="#1600ff"/><stop offset="0.486" stop-color="#0800ff"/><stop offset="0.541" stop-color="#000fff"/><stop offset="0.595" stop-color="#002dff"/><stop offset="0.649" stop-color="#0052ff"/><stop offset="0.703" stop-color="#0076ff"/><stop offset="0.757" stop-color="#0097ff"/><stop offset="0.811" stop-color="#00b4ff"/><stop offset="0.865" stop-color="#00d3ff"/><stop offset="0.919" stop-color="#00f0ff"/><stop offset="0.973" stop-color="#00fffb"/><stop offset="1.000" stop-color="#00fff3"/></linearGradient><linearGradient id="gb17" x1="0" x2="1" y1="0" y2="0"><stop offset="0.000" stop-color="#3c00ff"/><stop offset="0.054" stop-color="#3600ff"/><stop offset="0.108" stop-color="#3000ff"/><stop offset="0.162" stop-color="#2b00ff"/><stop offset="0.216" stop-color="#2600ff"/><stop offset="0.270" stop-color="#2200ff"/><stop offset="0.324" stop-color="#1e00ff"/><stop offset="0.378" stop-color="#1800ff"/><stop offset="0.432" stop-color="#0f00ff"/><stop offset="0.486" stop-color="#0100ff"/><stop offset="0.541" stop-color="#0015ff"/><stop offset="0.595" stop-color="#0034ff"/><stop offset="0.649" stop-color="#0059ff"/><stop offset="0.703" stop-color="#007dff"/><stop offset="0.757" stop-color="#009eff"/><stop offset="0.811" stop-color="#00bcff"/><stop offset="0.865" stop-color="#00dcff"/><stop offset="0.919" stop-color="#00f9ff"/><stop offset="0.973" stop-color="#00fff2"/><stop offset="1.000" stop-color="#00ffeb"/></linearGradient><linearGradient id="gb18" x1="0" x2="1" y1="0" y2="0"><stop offset="0.000" stop-color="#3500ff"/><stop offset="0.054" stop-color="#2e00ff"/><stop offset="0.108" stop-color="#2900ff"/><stop offset="0.162" stop-color="#2400ff"/><stop offset="0.216" stop-color="#2000ff"/><stop offset="0.270" stop-color="#1b00ff"/><stop offset="0.324" stop-color="#1700ff"/><stop offset="0.378" stop-color="#1100ff"/><stop offset="0.432" stop-color="#0800ff"/><stop offset="0.486" stop-color="#0006ff"/><stop offset="0.541" stop-color="#001cff"/><stop offset="0.595" stop-color="#003bff"/><stop offset="0.649" stop-color="#005fff"/><stop offset="0.703" stop-color="#0084ff"/><stop offset="0.757" stop-color="#00a6ff"/><stop offset="0.811" stop-color="#00c5ff"/><stop offset="0.865" stop-color="#00e6ff"/><stop offset="0.919" stop-color="#00fffc"/><stop offset="0.973" stop-color="#00ffea"/><stop offset="1.000" stop-color="#00ffe2"/></linearGradient><linearGradient id="gb19" x1="0" x2="1" y1="0" y2="0"><stop offset="0.000" stop-color="#2d00ff"/><stop offset="0.054" stop-color="#2700ff"/><stop offset="0.108" stop-color="#2100ff"/><stop offset="0.162" stop-color="#1d00ff"/><stop offset="0.216" stop-color="#1900ff"/><stop offset="0.270" stop-color="#1500ff"/><stop offset="0.324" stop-color="#1000ff"/><stop offset="0.378" stop-color="#0a00ff"/><stop offset="0.432" stop-color="#0000ff"/><stop offset="0.486" stop-color="#000dff"/><stop offset="0.541" stop-color="#0023ff"/><stop offset="0.595" stop-color="#0041ff"/><stop offset="0.649" stop-color="#0065ff"/><stop offset="0.703" stop-color="#008bff"/><stop offset="0.757" stop-color="#00aeff"/><stop offset="0.811" stop-color="#00ceff"/><stop offset="0.865" stop-color="#00efff"/><stop offset="0.919" stop-color="#00fff3"/><stop offset="0.973" stop-color="#00ffe1"/><stop offset="1.000" stop-color="#00ffda"/></linearGradient><linearGradient id="gb20" x1="0" x2="1" y1="0" y2="0"><stop offset="0.000" stop-color="#2500ff"/><stop offset="0.054" stop-color="#1f00ff"/><stop offset="0.108" stop-color="#1a00ff"/><stop offset="0.162" stop-color="#1600ff"/><stop offset="0.216" stop-color="#1200ff"/><stop offset="0.270" stop-color="#0e00ff"/><stop offset="0.324" stop-color="#0900ff"/><stop offset="0.378" stop-color="#0200ff"/><stop offset="0.432" stop-color="#0007ff"/><stop offset="0.486" stop-color="#0015ff"/><stop offset="0.541" stop-color="#002bff"/><stop offset="0.595" stop-color="#0048ff"/><stop offset="0.649" stop-color="#006bff"/><stop offset="0.703" stop-color="#0092ff"/><stop offset="0.757" stop-color="#00b6ff"/><stop offset="0.811" stop-color="#00d7ff"/><stop offset="0.865" stop-color="#00f8ff"/><stop offset="0.919" stop-color="#00ffeb"/><stop offset="0.973" stop-color="#00ffd9"/><stop offset="1.000" stop-color="#00ffd1"/></linearGradient><linearGradient id="gb21" x1="0" x2="1" y1="0" y2="0"><stop offset="0.000" stop-color="#1d00ff"/><stop offset="0.054" stop-color="#1700ff"/><stop offset="0.108" stop-color="#1200ff"/><stop offset="0.162" stop-color="#0e00ff"/><stop offset="0.216" stop-color="#0c00ff"/><stop offset="0.270" stop-color="#0800ff"/><stop offset="0.324" stop-color="#0200ff"/><stop offset="0.378" stop-color="#0006ff"/><stop offset="0.432" stop-color="#000fff"/><stop offset="0.486" stop-color="#001dff"/><stop offset="0.541" stop-color="#0032ff"/><stop offset="0.595" stop-color="#004fff"/><stop offset="0.649" stop-color="#0071ff"/><stop offset="0.703" stop-color="#0099ff"/><stop offset="0.757" stop-color="#00beff"/><stop offset="0.811" stop-color="#00e0ff"/><stop offset="0.865" stop-color="#00fffd"/><stop offset="0.919" stop-color="#00ffe2"/><stop offset="0.973" stop-color="#00ffd0"/><stop offset="1.000" stop-color="#00ffc9"/></linearGradient><linearGradient id="gb22" x1="0" x2="1" y1="0" y2="0"><stop offset="0.000" stop-color="#1400ff"/><stop offset="0.054" stop-color="#0f00ff"/><stop offset="0.108" stop-color="#0a00ff"/><stop offset="0.162" stop-color="#0700ff"/><stop offset="0.216" stop-color="#0500ff"/><stop offset="0.270" stop-color="#0100ff"/><stop offset="0.324" stop-color="#0006ff"/><stop offset="0.378" stop-color="#000eff"/><stop offset="0.432" stop-color="#0017ff"/><stop offset="0.486" stop-color="#0025ff"/><stop offset="0.541" stop-color="#003aff"/><stop offset="0.595" stop-color="#0056ff"/><stop offset="0.649" stop-color="#0077ff"/><stop offset="0.703" stop-color="#00a0ff"/><stop offset="0.757" stop-color="#00c6ff"/><stop offset="0.811" stop-color="#00e9ff"/><stop offset="0.865" stop-color="#00fff4"/><stop offset="0.919" stop-color="#00ffd9"/><stop offset="0.973" stop-color="#00ffc8"/><stop offset="1.000" stop-color="#00ffc0"/></linearGradient><linearGradient id="gb23" x1="0" x2="1" y1="0" y2="0"><stop offset="0.000" stop-color="#0b00ff"/><stop offset="0.054" stop-color="#0700ff"/><stop offset="0.108" stop-color="#0200ff"/><stop offset="0.162" stop-color="#0001ff"/><stop offset="0.216" stop-color="#0002ff"/><stop offset="0.270" stop-color="#0006ff"/><stop offset="0.324" stop-color="#000dff"/><stop offset="0.378" stop-color="#0016ff"/><stop offset="0.432" stop-color="#0020ff"/><stop offset="0.486" stop-color="#002dff"/><stop offset="0.541" stop-color="#0042ff"/><stop offset="0.595" stop-color="#005dff"/><stop offset="0.649" stop-color="#007eff"/><stop offset="0.703" stop-color="#00a7ff"/><stop offset="0.757" stop-color="#00cfff"/><stop offset="0.811" stop-color="#00f2ff"/><stop offset="0.865" stop-color="#00ffeb"/><stop offset="0.919" stop-color="#00ffd1"/><stop offset="0.973" stop-color="#00ffbf"/><stop offset="1.000" stop-color="#00ffb8"/></linearGradient><linearGradient id="gb24" x1="0" x2="1" y1="0" y2="0"><stop offset="0.000" stop-color="#0300ff"/><stop offset="0.054" stop-color="#0002ff"/><stop offset="0.108" stop-color="#0006ff"/><stop offset="0.162" stop-color="#0009ff"/><stop offset="0.216" stop-color="#000aff"/><stop offset="0.270" stop-color="#000dff"/><stop offset="0.324" stop-color="#0015ff"/><stop offset="0.378" stop-color="#001eff"/><stop offset="0.432" stop-color="#0028ff"/><stop offset="0.486" stop-color="#0035ff"/><stop offset="0.541" stop-color="#004aff"/><stop offset="0.595" stop-color="#0064ff"/><stop offset="0.649" stop-color="#0084ff"/><stop offset="0.703" stop-color="#00afff"/><stop offset="0.757" stop-color="#00d7ff"/><stop offset="0.811" stop-color="#00fbff"/><stop offset="0.865" stop-color="#00ffe2"/><stop offset="0.919" stop-color="#00ffc8"/><stop offset="0.973" stop-color="#00ffb6"/><stop offset="1.000" stop-color="#00ffaf"/></linearGradient><linearGradient id="gb25" x1="0" x2="1" y1="0" y2="0"><stop offset="0.000" stop-color="#0006ff"/><stop offset="0.054" stop-color="#000bff"/><stop offset="0.108" stop-color="#000fff"/><stop offset="0.162" stop-color="#0011ff"/><stop offset="0.216" stop-color="#0012ff"/><stop offset="0.270" stop-color="#0015ff"/><stop offset="0.324" stop-color="#001dff"/><stop offset="0.378" stop-color="#0026ff"/><stop offset="0.432" stop-color="#0031ff"/><stop offset="0.486" stop-color="#003fff"/><stop offset="0.541" stop-color="#0052ff"/><stop offset="0.595" stop-color="#006cff"/><stop offset="0.649" stop-color="#008cff"/><stop offset="0.703" stop-color="#00b7ff"/><stop offset="0.757" stop-color="#00dfff"/><stop offset="0.811" stop-color="#00fffb"/><stop offset="0.865" stop-color="#00ffd9"/><stop offset="0.919" stop-color="#00ffbf"/><stop offset="0.973" stop-color="#00ffae"/><stop offset="1.000" stop-color="#00ffa6"/></linearGradient><linearGradient id="gb26" x1="0" x2="1" y1="0" y2="0"><stop offset="0.000" stop-color="#0010ff"/><stop offset="0.054" stop-color="#0014ff"/><stop offset="0.108" stop-color="#0017ff"/><stop offset="0.162" stop-color="#0019ff"/><stop offset="0.216" stop-color="#001aff"/><stop offset="0.270" stop-color="#001dff"/><stop offset="0.324" stop-color="#0025ff"/><stop offset="0.378" stop-color="#002fff"/><stop offset="0.432" stop-color="#003aff"/><stop offset="0.486" stop-color="#0048ff"/><stop offset="0.541" stop-color="#005bff"/><stop offset="0.595" stop-color="#0074ff"/><stop offset="0.649" stop-color="#0094ff"/><stop offset="0.703" stop-color="#00beff"/><stop offset="0.757" stop-color="#00e7ff"/><stop offset="0.811" stop-color="#00fff2"/><stop offset="0.865" stop-color="#00ffd1"/><stop offset="0.919" stop-color="#00ffb7"/><stop offset="0.973" stop-color="#00ffa5"/><stop offset="1.000" stop-color="#00ff9e"/></linearGradient><linearGradient id="gb27" x1="0" x2="1" y1="0" y2="0"><stop offset="0.000" stop-color="#0019ff"/><stop offset="0.054" stop-color="#001dff"/><stop offset="0.108" stop-color="#0020ff"/><stop offset="0.162" stop-color="#0022ff"/><stop offset="0.216" stop-color="#0023ff"/><stop offset="0.270" stop-color="#0026ff"/><stop offset="0.324" stop-color="#002eff"/><stop offset="0.378" stop-color="#0038ff"/><stop offset="0.432" stop-color="#0043ff"/><stop offset="0.486" stop-color="#0051ff"/><stop offset="0.541" stop-color="#0064ff"/><stop offset="0.595" stop-color="#007cff"/><stop offset="0.649" stop-color="#009cff"/><stop offset="0.703" stop-color="#00c7ff"/><stop offset="0.757" stop-color="#00efff"/><stop offset="0.811" stop-color="#00ffea"/><stop offset="0.865" stop-color="#00ffc9"/><stop offset="0.919" stop-color="#00ffaf"/><stop offset="0.973" stop-color="#00ff9d"/><stop offset="1.000" stop-color="#00ff95"/></linearGradient><linearGradient id="gb28" x1="0" x2="1" y1="0" y2="0"><stop offset="0.000" stop-color="#0023ff"/><stop offset="0.054" stop-color="#0026ff"/><stop offset="0.108" stop-color="#0029ff"/><stop offset="0.162" stop-color="#002bff"/><stop offset="0.216" stop-color="#002bff"/><stop offset="0.270" stop-color="#002fff"/><stop offset="0.324" stop-color="#0037ff"/><stop offset="0.378" stop-color="#0040ff"/><stop offset="0.432" stop-color="#004cff"/><stop offset="0.486" stop-color="#005bff"/><stop offset="0.541" stop-color="#006dff"/><stop offset="0.595" stop-color="#0084ff"/><stop offset="0.649" stop-color="#00a4ff"/><stop offset="0.703" stop-color="#00cfff"/><stop offset="0.757" stop-color="#00f7ff"/><stop offset="0.811" stop-color="#00ffe3"/><stop offset="0.865" stop-color="#00ffc1"/><stop offset="0.919" stop-color="#00ffa7"/><stop offset="0.973" stop-color="#00ff94"/><stop offset="1.000" stop-color="#00ff8c"/></linearGradient><linearGradient id="gb29" x1="0" x2="1" y1="0" y2="0"><stop offset="0.000" stop-color="#002cff"/><stop offset="0.054" stop-color="#0030ff"/><stop offset="0.108" stop-color="#0032ff"/><stop offset="0.162" stop-color="#0034ff"/><stop offset="0.216" stop-color="#0035ff"/><stop offset="0.270" stop-color="#0038ff"/><stop offset="0.324" stop-color="#0040ff"/><stop offset="0.378" stop-color="#0049ff"/><stop offset="0.432" stop-color="#0055ff"/><stop offset="0.486" stop-color="#0065ff"/><stop offset="0.541" stop-color="#0076ff"/><stop offset="0.595" stop-color="#008dff"/><stop offset="0.649" stop-color="#00acff"/><stop offset="0.703" stop-color="#00d6ff"/><stop offset="0.757" stop-color="#00ffff"/><stop offset="0.811" stop-color="#00ffdc"/><stop offset="0.865" stop-color="#00ffb9"/><stop offset="0.919" stop-color="#00ff9f"/><stop offset="0.973" stop-color="#00ff8c"/><stop offset="1.000" stop-color="#00ff84"/></linearGradient><linearGradient id="gb30" x1="0" x2="1" y1="0" y2="0"><stop offset="0.000" stop-color="#0036ff"/><stop offset="0.054" stop-color="#0039ff"/><stop offset="0.108" stop-color="#003bff"/><stop offset="0.162" stop-color="#003dff"/><stop offset="0.216" stop-color="#003eff"/><stop offset="0.270" stop-color="#0041ff"/><stop offset="0.324" stop-color="#0049ff"/><stop offset="0.378" stop-color="#0052ff"/><stop offset="0.432" stop-color="#005fff"/><stop offset="0.486" stop-color="#006fff"/><stop offset="0.541" stop-color="#0080ff"/><stop offset="0.595" stop-color="#0095ff"/><stop offset="0.649" stop-color="#00b4ff"/><stop offset="0.703" stop-color="#00deff"/><stop offset="0.757" stop-color="#00fff8"/><stop offset="0.811" stop-color="#00ffd5"/><stop offset="0.865" stop-color="#00ffb2"/><stop offset="0.919" stop-color="#00ff98"/><stop offset="0.973" stop-color="#00ff85"/><stop offset="1.000" stop-color="#00ff7c"/></linearGradient><linearGradient id="gb31" x1="0" x2="1" y1="0" y2="0"><stop offset="0.000" stop-color="#003fff"/><stop offset="0.054" stop-color="#0043ff"/><stop offset="0.108" stop-color="#0045ff"/><stop offset="0.162" stop-color="#0046ff"/><stop offset="0.216" stop-color="#0047ff"/><stop offset="0.270" stop-color="#004bff"/><stop offset="0.324" stop-color="#0052ff"/><stop offset="0.378" stop-color="#005bff"/><stop offset="0.432" stop-color="#0068ff"/><stop offset="0.486" stop-color="#0078ff"/><stop offset="0.541" stop-color="#0089ff"/><stop offset="0.595" stop-color="#009eff"/><stop offset="0.649" stop-color="#00bcff"/><stop offset="0.703" stop-color="#00e5ff"/><stop offset="0.757" stop-color="#00fff1"/><stop offset="0.811" stop-color="#00ffce"/><stop offset="0.865" stop-color="#00ffab"/><stop offset="0.919" stop-color="#00ff92"/><stop offset="0.973" stop-color="#00ff7e"/><stop offset="1.000" stop-color="#00ff75"/></linearGradient><linearGradient id="gb32" x1="0" x2="1" y1="0" y2="0"><stop offset="0.000" stop-color="#0049ff"/><stop offset="0.054" stop-color="#004cff"/><stop offset="0.108" stop-color="#004eff"/><stop offset="0.162" stop-color="#004fff"/><stop offset="0.216" stop-color="#0051ff"/><stop offset="0.270" stop-color="#0054ff"/><stop offset="0.324" stop-color="#005bff"/><stop offset="0.378" stop-color="#0065ff"/><stop offset="0.432" stop-color="#0071ff"/><stop offset="0.486" stop-color="#0081ff"/><stop offset="0.541" stop-color="#0092ff"/><stop offset="0.595" stop-color="#00a7ff"/><stop offset="0.649" stop-color="#00c4ff"/><stop offset="0.703" stop-color="#00ecff"/><stop offset="0.757" stop-color="#00ffeb"/><stop offset="0.811" stop-color="#00ffc8"/><stop offset="0.865" stop-color="#00ffa5"/><stop offset="0.919" stop-color="#00ff8b"/><stop offset="0.973" stop-color="#00ff78"/><stop offset="1.000" stop-color="#00ff6f"/></linearGradient><linearGradient id="gb33" x1="0" x2="1" y1="0" y2="0"><stop offset="0.000" stop-color="#0053ff"/><stop offset="0.054" stop-color="#0056ff"/><stop offset="0.108" stop-color="#0058ff"/><stop offset="0.162" stop-color="#0059ff"/><stop offset="0.216" stop-color="#005aff"/><stop offset="0.270" stop-color="#005eff"/><stop offset="0.324" stop-color="#0064ff"/><stop offset="0.378" stop-color="#006eff"/><stop offset="0.432" stop-color="#007aff"/><stop offset="0.486" stop-color="#008aff"/><stop offset="0.541" stop-color="#009bff"/><stop offset="0.595" stop-color="#00afff"/><stop offset="0.649" stop-color="#00cbff"/><stop offset="0.703" stop-color="#00f2ff"/><stop offset="0.757" stop-color="#00ffe5"/><stop offset="0.811" stop-color="#00ffc2"/><stop offset="0.865" stop-color="#00ff9f"/><stop offset="0.919" stop-color="#00ff86"/><stop offset="0.973" stop-color="#00ff72"/><stop offset="1.000" stop-color="#00ff69"/></linearGradient><linearGradient id="gb34" x1="0" x2="1" y1="0" y2="0"><stop offset="0.000" stop-color="#005cff"/><stop offset="0.054" stop-color="#005fff"/><stop offset="0.108" stop-color="#0061ff"/><stop offset="0.162" stop-color="#0062ff"/><stop offset="0.216" stop-color="#0064ff"/><stop offset="0.270" stop-color="#0068ff"/><stop offset="0.324" stop-color="#006eff"/><stop offset="0.378" stop-color="#0077ff"/><stop offset="0.432" stop-color="#0084ff"/><stop offset="0.486" stop-color="#0093ff"/><stop offset="0.541" stop-color="#00a4ff"/><stop offset="0.595" stop-color="#00b8ff"/><stop offset="0.649" stop-color="#00d3ff"/><stop offset="0.703" stop-color="#00f8ff"/><stop offset="0.757" stop-color="#00ffdf"/><stop offset="0.811" stop-color="#00ffbd"/><stop offset="0.865" stop-color="#00ff9a"/><stop offset="0.919" stop-color="#00ff80"/><stop offset="0.973" stop-color="#00ff6d"/><stop offset="1.000" stop-color="#00ff64"/></linearGradient><linearGradient id="gb35" x1="0" x2="1" y1="0" y2="0"><stop offset="0.000" stop-color="#0066ff"/><stop offset="0.054" stop-color="#0069ff"/><stop offset="0.108" stop-color="#006bff"/><stop offset="0.162" stop-color="#006cff"/><stop offset="0.216" stop-color="#006eff"/><stop offset="0.270" stop-color="#0071ff"/><stop offset="0.324" stop-color="#0077ff"/><stop offset="0.378" stop-color="#0080ff"/><stop offset="0.432" stop-color="#008dff"/><stop offset="0.486" stop-color="#009cff"/><stop offset="0.541" stop-color="#00adff"/><stop offset="0.595" stop-color="#00c1ff"/><stop offset="0.649" stop-color="#00dbff"/><stop offset="0.703" stop-color="#00ffff"/><stop offset="0.757" stop-color="#00ffd8"/><stop offset="0.811" stop-color="#00ffb7"/><stop offset="0.865" stop-color="#00ff94"/><stop offset="0.919" stop-color="#00ff7b"/><stop offset="0.973" stop-color="#00ff68"/><stop offset="1.000" stop-color="#00ff5f"/></linearGradient><linearGradient id="gb36" x1="0" x2="1" y1="0" y2="0"><stop offset="0.000" stop-color="#006fff"/><stop offset="0.054" stop-color="#0072ff"/><stop offset="0.108" stop-color="#0074ff"/><stop offset="0.162" stop-color="#0076ff"/><stop offset="0.216" stop-color="#0078ff"/><stop offset="0.270" stop-color="#007bff"/><stop offset="0.324" stop-color="#0080ff"/><stop offset="0.378" stop-color="#0089ff"/><stop offset="0.432" stop-color="#0095ff"/><stop offset="0.486" stop-color="#00a5ff"/><stop offset="0.541" stop-color="#00b6ff"/><stop offset="0.595" stop-color="#00caff"/><stop offset="0.649" stop-color="#00e3ff"/><stop offset="0.703" stop-color="#00fff9"/><stop offset="0.757" stop-color="#00ffd2"/><stop offset="0.811" stop-color="#00ffb1"/><stop offset="0.865" stop-color="#00ff8f"/><stop offset="0.919" stop-color="#00ff75"/><stop offset="0.973" stop-color="#00ff63"/><stop offset="1.000" stop-color="#00ff5a"/></linearGradient><linearGradient id="gb37" x1="0" x2="1" y1="0" y2="0"><stop offset="0.000" stop-color="#0078ff"/><stop offset="0.054" stop-color="#007bff"/><stop offset="0.108" stop-color="#007dff"/><stop offset="0.162" stop-color="#007fff"/><stop offset="0.216" stop-color="#0081ff"/><stop offset="0.270" stop-color="#0084ff"/><stop offset="0.324" stop-color="#008aff"/><stop offset="0.378" stop-color="#0092ff"/><stop offset="0.432" stop-color="#009eff"/><stop offset="0.486" stop-color="#00aeff"/><stop offset="0.541" stop-color="#00bfff"/><stop offset="0.595" stop-color="#00d3ff"/><stop offset="0.649" stop-color="#00ebff"/><stop offset="0.703" stop-color="#00fff2"/><stop offset="0.757" stop-color="#00ffcb"/><stop offset="0.811" stop-color="#00ffab"/><stop offset="0.865" stop-color="#00ff89"/><stop offset="0.919" stop-color="#00ff70"/><stop offset="0.973" stop-color="#00ff5e"/><stop offset="1.000" stop-color="#00ff56"/></linearGradient><linearGradient id="gb38" x1="0" x2="1" y1="0" y2="0"><stop offset="0.000" stop-color="#0081ff"/><stop offset="0.054" stop-color="#0085ff"/><stop offset="0.108" stop-color="#0087ff"/><stop offset="0.162" stop-color="#0089ff"/><stop offset="0.216" stop-color="#008bff"/><stop offset="0.270" stop-color="#008eff"/><stop offset="0.324" stop-color="#0093ff"/><stop offset="0.378" stop-color="#009bff"/><stop offset="0.432" stop-color="#00a7ff"/><stop offset="0.486" stop-color="#00b6ff"/><stop offset="0.541" stop-color="#00c8ff"/><stop offset="0.595" stop-color="#00dcff"/><stop offset="0.649" stop-color="#00f4ff"/><stop offset="0.703" stop-color="#00ffea"/><stop offset="0.757" stop-color="#00ffc3"/><stop offset="0.811" stop-color="#00ffa4"/><stop offset="0.865" stop-color="#00ff83"/><stop offset="0.919" stop-color="#00ff6b"/><stop offset="0.973" stop-color="#00ff59"/><stop offset="1.000" stop-color="#00ff50"/></linearGradient><linearGradient id="gb39" x1="0" x2="1" y1="0" y2="0"><stop offset="0.000" stop-color="#008aff"/><stop offset="0.054" stop-color="#008eff"/><stop offset="0.108" stop-color="#0090ff"/><stop offset="0.162" stop-color="#0092ff"/><stop offset="0.216" stop-color="#0094ff"/><stop offset="0.270" stop-color="#0098ff"/><stop offset="0.324" stop-color="#009cff"/><stop offset="0.378" stop-color="#00a4ff"/><stop offset="0.432" stop-color="#00b0ff"/><stop offset="0.486" stop-color="#00bfff"/><stop offset="0.541" stop-color="#00d1ff"/><stop offset="0.595" stop-color="#00e5ff"/><stop offset="0.649" stop-color="#00fdff"/><stop offset="0.703" stop-color="#00ffe0"/><stop offset="0.757" stop-color="#00ffba"/><stop offset="0.811" stop-color="#00ff9c"/><stop offset="0.865" stop-color="#00ff7d"/><stop offset="0.919" stop-color="#00ff65"/><stop offset="0.973" stop-color="#00ff54"/><stop offset="1.000" stop-color="#00ff4b"/></linearGradient><linearGradient id="gb40" x1="0" x2="1" y1="0" y2="0"><stop offset="0.000" stop-color="#0093ff"/><stop offset="0.054" stop-color="#0097ff"/><stop offset="0.108" stop-color="#0099ff"/><stop offset="0.162" stop-color="#009bff"/><stop offset="0.216" stop-color="#009eff"/><stop offset="0.270" stop-color="#00a1ff"/><stop offset="0.324" stop-color="#00a5ff"/><stop offset="0.378" stop-color="#00acff"/><stop offset="0.432" stop-color="#00b8ff"/><stop offset="0.486" stop-color="#00c8ff"/><stop offset="0.541" stop-color="#00daff"/><stop offset="0.595" stop-color="#00efff"/><stop offset="0.649" stop-color="#00fff7"/><stop offset="0.703" stop-color="#00ffd6"/><stop offset="0.757" stop-color="#00ffb1"/><stop offset="0.811" stop-color="#00ff93"/><stop offset="0.865" stop-color="#00ff76"/><stop offset="0.919" stop-color="#00ff5f"/><stop offset="0.973" stop-color="#00ff4e"/><stop offset="1.000" stop-color="#00ff45"/></linearGradient><linearGradient id="gb41" x1="0" x2="1" y1="0" y2="0"><stop offset="0.000" stop-color="#009cff"/><stop offset="0.054" stop-color="#00a0ff"/><stop offset="0.108" stop-color="#00a2ff"/><stop offset="0.162" stop-color="#00a5ff"/><stop offset="0.216" stop-color="#00a8ff"/><stop offset="0.270" stop-color="#00aaff"/><stop offset="0.324" stop-color="#00aeff"/><stop offset="0.378" stop-color="#00b5ff"/><stop offset="0.432" stop-color="#00c0ff"/><stop offset="0.486" stop-color="#00d1ff"/><stop offset="0.541" stop-color="#00e3ff"/><stop offset="0.595" stop-color="#00f8ff"/><stop offset="0.649" stop-color="#00ffed"/><stop offset="0.703" stop-color="#00ffcc"/><stop offset="0.757" stop-color="#00ffa7"/><stop offset="0.811" stop-color="#00ff8a"/><stop offset="0.865" stop-color="#00ff6f"/><stop offset="0.919" stop-color="#00ff59"/><stop offset="0.973" stop-color="#00ff48"/><stop offset="1.000" stop-color="#00ff3f"/></linearGradient><linearGradient id="gb42" x1="0" x2="1" y1="0" y2="0"><stop offset="0.000" stop-color="#00a4ff"/><stop offset="0.054" stop-color="#00a8ff"/><stop offset="0.108" stop-color="#00abff"/><stop offset="0.162" stop-color="#00aeff"/><stop offset="0.216" stop-color="#00b1ff"/><stop offset="0.270" stop-color="#00b4ff"/><stop offset="0.324" stop-color="#00b7ff"/><stop offset="0.378" stop-color="#00bdff"/><stop offset="0.432" stop-color="#00c8ff"/><stop offset="0.486" stop-color="#00d9ff"/><stop offset="0.541" stop-color="#00ecff"/><stop offset="0.595" stop-color="#00fffc"/><stop offset="0.649" stop-color="#00ffe2"/><stop offset="0.703" stop-color="#00ffc1"/><stop offset="0.757" stop-color="#00ff9c"/><stop offset="0.811" stop-color="#00ff81"/><stop offset="0.865" stop-color="#00ff68"/><stop offset="0.919" stop-color="#00ff52"/><stop offset="0.973" stop-color="#00ff41"/><stop offset="1.000" stop-color="#00ff39"/></linearGradient><linearGradient id="gb43" x1="0" x2="1" y1="0" y2="0"><stop offset="0.000" stop-color="#00adff"/><stop offset="0.054" stop-color="#00b1ff"/><stop offset="0.108" stop-color="#00b4ff"/><stop offset="0.162" stop-color="#00b7ff"/><stop offset="0.216" stop-color="#00baff"/><stop offset="0.270" stop-color="#00bdff"/><stop offset="0.324" stop-color="#00bfff"/><stop offset="0.378" stop-color="#00c5ff"/><stop offset="0.432" stop-color="#00d0ff"/><stop offset="0.486" stop-color="#00e2ff"/><stop offset="0.541" stop-color="#00f5ff"/><stop offset="0.595" stop-color="#00fff3"/><stop offset="0.649" stop-color="#00ffd8"/><stop offset="0.703" stop-color="#00ffb6"/><stop offset="0.757" stop-color="#00ff91"/><stop offset="0.811" stop-color="#00ff78"/><stop offset="0.865" stop-color="#00ff60"/><stop offset="0.919" stop-color="#00ff4b"/><stop offset="0.973" stop-color="#00ff3a"/><stop offset="1.000" stop-color="#00ff32"/></linearGradient><linearGradient id="gb44" x1="0" x2="1" y1="0" y2="0"><stop offset="0.000" stop-color="#00b5ff"/><stop offset="0.054" stop-color="#00baff"/><stop offset="0.108" stop-color="#00bcff"/><stop offset="0.162" stop-color="#00bfff"/><stop offset="0.216" stop-color="#00c3ff"/><stop offset="0.270" stop-color="#00c6ff"/><stop offset="0.324" stop-color="#00c8ff"/><stop offset="0.378" stop-color="#00cdff"/><stop offset="0.432" stop-color="#00d8ff"/><stop offset="0.486" stop-color="#00eaff"/><stop offset="0.541" stop-color="#00fdff"/><stop offset="0.595" stop-color="#00ffe9"/><stop offset="0.649" stop-color="#00ffcd"/><stop offset="0.703" stop-color="#00ffac"/><stop offset="0.757" stop-color="#00ff87"/><stop offset="0.811" stop-color="#00ff6f"/><stop offset="0.865" stop-color="#00ff58"/><stop offset="0.919" stop-color="#00ff44"/><stop offset="0.973" stop-color="#00ff33"/><stop offset="1.000" stop-color="#00ff2a"/></linearGradient><linearGradient id="gb45" x1="0" x2="1" y1="0" y2="0"><stop offset="0.000" stop-color="#00beff"/><stop offset="0.054" stop-color="#00c2ff"/><stop offset="0.108" stop-color="#00c5ff"/><stop offset="0.162" stop-color="#00c8ff"/><stop offset="0.216" stop-color="#00ccff"/><stop offset="0.270" stop-color="#00cfff"/><stop offset="0.324" stop-color="#00d0ff"/><stop offset="0.378" stop-color="#00d5ff"/><stop offset="0.432" stop-color="#00dfff"/><stop offset="0.486" stop-color="#00f1ff"/><stop offset="0.541" stop-color="#00fff9"/><stop offset="0.595" stop-color="#00ffe0"/><stop offset="0.649" stop-color="#00ffc3"/><stop offset="0.703" stop-color="#00ffa1"/><stop offset="0.757" stop-color="#00ff7d"/><stop offset="0.811" stop-color="#00ff66"/><stop offset="0.865" stop-color="#00ff50"/><stop offset="0.919" stop-color="#00ff3c"/><stop offset="0.973" stop-color="#00ff2b"/><stop offset="1.000" stop-color="#00ff22"/></linearGradient><linearGradient id="gb46" x1="0" x2="1" y1="0" y2="0"><stop offset="0.000" stop-color="#00c6ff"/><stop offset="0.054" stop-color="#00caff"/><stop offset="0.108" stop-color="#00cdff"/><stop offset="0.162" stop-color="#00d0ff"/><stop offset="0.216" stop-color="#00d4ff"/><stop offset="0.270" stop-color="#00d7ff"/><stop offset="0.324" stop-color="#00d8ff"/><stop offset="0.378" stop-color="#00ddff"/><stop offset="0.432" stop-color="#00e6ff"/><stop offset="0.486" stop-color="#00f7ff"/><stop offset="0.541" stop-color="#00fff2"/><stop offset="0.595" stop-color="#00ffd7"/><stop offset="0.649" stop-color="#00ffb9"/><stop offset="0.703" stop-color="#00ff97"/><stop offset="0.757" stop-color="#00ff74"/><stop offset="0.811" stop-color="#00ff5d"/><stop offset="0.865" stop-color="#00ff48"/><stop offset="0.919" stop-color="#00ff34"/><stop offset="0.973" stop-color="#00ff22"/><stop offset="1.000" stop-color="#00ff19"/></linearGradient><linearGradient id="gb47" x1="0" x2="1" y1="0" y2="0"><stop offset="0.000" stop-color="#00ceff"/><stop offset="0.054" stop-color="#00d2ff"/><stop offset="0.108" stop-color="#00d5ff"/><stop offset="0.162" stop-color="#00d8ff"/><stop offset="0.216" stop-color="#00ddff"/><stop offset="0.270" stop-color="#00dfff"/><stop offset="0.324" stop-color="#00e0ff"/><stop offset="0.378" stop-color="#00e4ff"/><stop offset="0.432" stop-color="#00edff"/><stop offset="0.486" stop-color="#00fdff"/><stop offset="0.541" stop-color="#00ffea"/><stop offset="0.595" stop-color="#00ffce"/><stop offset="0.649" stop-color="#00ffaf"/><stop offset="0.703" stop-color="#00ff8d"/><stop offset="0.757" stop-color="#00ff6c"/><stop offset="0.811" stop-color="#00ff55"/><stop offset="0.865" stop-color="#00ff40"/><stop offset="0.919" stop-color="#00ff2b"/><stop offset="0.973" stop-color="#00ff19"/><stop offset="1.000" stop-color="#00ff0f"/></linearGradient><linearGradient id="gb48" x1="0" x2="1" y1="0" y2="0"><stop offset="0.000" stop-color="#00d7ff"/><stop offset="0.054" stop-color="#00daff"/><stop offset="0.108" stop-color="#00ddff"/><stop offset="0.162" stop-color="#00e0ff"/><stop offset="0.216" stop-color="#00e5ff"/><stop offset="0.270" stop-color="#00e7ff"/><stop offset="0.324" stop-color="#00e8ff"/><stop offset="0.378" stop-color="#00ebff"/><stop offset="0.432" stop-color="#00f4ff"/><stop offset="0.486" stop-color="#00fffb"/><stop offset="0.541" stop-color="#00ffe3"/><stop offset="0.595" stop-color="#00ffc5"/><stop offset="0.649" stop-color="#00ffa5"/><stop offset="0.703" stop-color="#00ff84"/><stop offset="0.757" stop-color="#00ff64"/><stop offset="0.811" stop-color="#00ff4d"/><stop offset="0.865" stop-color="#00ff37"/><stop offset="0.919" stop-color="#00ff23"/><stop offset="0.973" stop-color="#00ff0f"/><stop offset="1.000" stop-color="#00ff05"/></linearGradient><linearGradient id="gb49" x1="0" x2="1" y1="0" y2="0"><stop offset="0.000" stop-color="#00dfff"/><stop offset="0.054" stop-color="#00e2ff"/><stop offset="0.108" stop-color="#00e4ff"/><stop offset="0.162" stop-color="#00e8ff"/><stop offset="0.216" stop-color="#00ecff"/><stop offset="0.270" stop-color="#00efff"/><stop offset="0.324" stop-color="#00efff"/><stop offset="0.378" stop-color="#00f3ff"/><stop offset="0.432" stop-color="#00fbff"/><stop offset="0.486" stop-color="#00fff5"/><stop offset="0.541" stop-color="#00ffdc"/><stop offset="0.595" stop-color="#00ffbc"/><stop offset="0.649" stop-color="#00ff9c"/><stop offset="0.703" stop-color="#00ff7b"/><stop offset="0.757" stop-color="#00ff5c"/><stop offset="0.811" stop-color="#00ff45"/><stop offset="0.865" stop-color="#00ff2f"/><stop offset="0.919" stop-color="#00ff1a"/><stop offset="0.973" stop-color="#00ff05"/><stop offset="1.000" stop-color="#05ff00"/></linearGradient><linearGradient id="gb50" x1="0" x2="1" y1="0" y2="0"><stop offset="0.000" stop-color="#00e6ff"/><stop offset="0.054" stop-color="#00e9ff"/><stop offset="0.108" stop-color="#00ecff"/><stop offset="0.162" stop-color="#00efff"/><stop offset="0.216" stop-color="#00f4ff"/><stop offset="0.270" stop-color="#00f7ff"/><stop offset="0.324" stop-color="#00f7ff"/><stop offset="0.378" stop-color="#00faff"/><stop offset="0.432" stop-color="#00fffd"/><stop offset="0.486" stop-color="#00fff0"/><stop offset="0.541" stop-color="#00ffd5"/><stop offset="0.595" stop-color="#00ffb4"/><stop offset="0.649" stop-color="#00ff93"/><stop offset="0.703" stop-color="#00ff72"/><stop offset="0.757" stop-color="#00ff54"/><stop offset="0.811" stop-color="#00ff3d"/><stop offset="0.865" stop-color="#00ff27"/><stop offset="0.919" stop-color="#00ff11"/><stop offset="0.973" stop-color="#05ff00"/><stop offset="1.000" stop-color="#10ff00"/></linearGradient><linearGradient id="gb51" x1="0" x2="1" y1="0" y2="0"><stop offset="0.000" stop-color="#00eeff"/><stop offset="0.054" stop-color="#00f0ff"/><stop offset="0.108" stop-color="#00f3ff"/><stop offset="0.162" stop-color="#00f6ff"/><stop offset="0.216" stop-color="#00fbff"/><stop offset="0.270" stop-color="#00feff"/><stop offset="0.324" stop-color="#00feff"/><stop offset="0.378" stop-color="#00fffd"/><stop offset="0.432" stop-color="#00fff6"/><stop offset="0.486" stop-color="#00ffe9"/><stop offset="0.541" stop-color="#00ffce"/><stop offset="0.595" stop-color="#00ffab"/><stop offset="0.649" stop-color="#00ff8a"/><stop offset="0.703" stop-color="#00ff6a"/><stop offset="0.757" stop-color="#00ff4d"/><stop offset="0.811" stop-color="#00ff35"/><stop offset="0.865" stop-color="#00ff1e"/><stop offset="0.919" stop-color="#00ff07"/><stop offset="0.973" stop-color="#0fff00"/><stop offset="1.000" stop-color="#1aff00"/></linearGradient><linearGradient id="gb52" x1="0" x2="1" y1="0" y2="0"><stop offset="0.000" stop-color="#00f4ff"/><stop offset="0.054" stop-color="#00f7ff"/><stop offset="0.108" stop-color="#00faff"/><stop offset="0.162" stop-color="#00feff"/><stop offset="0.216" stop-color="#00fffc"/><stop offset="0.270" stop-color="#00fff9"/><stop offset="0.324" stop-color="#00fff9"/><stop offset="0.378" stop-color="#00fff5"/><stop offset="0.432" stop-color="#00ffef"/><stop offset="0.486" stop-color="#00ffe3"/><stop offset="0.541" stop-color="#00ffc7"/><stop offset="0.595" stop-color="#00ffa3"/><stop offset="0.649" stop-color="#00ff82"/><stop offset="0.703" stop-color="#00ff62"/><stop offset="0.757" stop-color="#00ff45"/><stop offset="0.811" stop-color="#00ff2d"/><stop offset="0.865" stop-color="#00ff15"/><stop offset="0.919" stop-color="#02ff00"/><stop offset="0.973" stop-color="#19ff00"/><stop offset="1.000" stop-color="#24ff00"/></linearGradient><linearGradient id="gb53" x1="0" x2="1" y1="0" y2="0"><stop offset="0.000" stop-color="#00faff"/><stop offset="0.054" stop-color="#00feff"/><stop offset="0.108" stop-color="#00fffd"/><stop offset="0.162" stop-color="#00fffa"/><stop offset="0.216" stop-color="#00fff6"/><stop offset="0.270" stop-color="#00fff3"/><stop offset="0.324" stop-color="#00fff2"/><stop offset="0.378" stop-color="#00ffee"/><stop offset="0.432" stop-color="#00ffe7"/><stop offset="0.486" stop-color="#00ffdb"/><stop offset="0.541" stop-color="#00ffbf"/><stop offset="0.595" stop-color="#00ff9b"/><stop offset="0.649" stop-color="#00ff79"/><stop offset="0.703" stop-color="#00ff5a"/><stop offset="0.757" stop-color="#00ff3d"/><stop offset="0.811" stop-color="#00ff25"/><stop offset="0.865" stop-color="#00ff0d"/><stop offset="0.919" stop-color="#0bff00"/><stop offset="0.973" stop-color="#23ff00"/><stop offset="1.000" stop-color="#2eff00"/></linearGradient><linearGradient id="gb54" x1="0" x2="1" y1="0" y2="0"><stop offset="0.000" stop-color="#00ffff"/><stop offset="0.054" stop-color="#00fffa"/><stop offset="0.108" stop-color="#00fff6"/><stop offset="0.162" stop-color="#00fff3"/><stop offset="0.216" stop-color="#00ffef"/><stop offset="0.270" stop-color="#00ffed"/><stop offset="0.324" stop-color="#00ffeb"/><stop offset="0.378" stop-color="#00ffe7"/><stop offset="0.432" stop-color="#00ffe0"/><stop offset="0.486" stop-color="#00ffd3"/><stop offset="0.541" stop-color="#00ffb7"/><stop offset="0.595" stop-color="#00ff93"/><stop offset="0.649" stop-color="#00ff71"/><stop offset="0.703" stop-color="#00ff52"/><stop offset="0.757" stop-color="#00ff35"/><stop offset="0.811" stop-color="#00ff1c"/><stop offset="0.865" stop-color="#00ff04"/><stop offset="0.919" stop-color="#14ff00"/><stop offset="0.973" stop-color="#2cff00"/><stop offset="1.000" stop-color="#37ff00"/></linearGradient><linearGradient id="gb55" x1="0" x2="1" y1="0" y2="0"><stop offset="0.000" stop-color="#00fffa"/><stop offset="0.054" stop-color="#00fff4"/><stop offset="0.108" stop-color="#00fff0"/><stop offset="0.162" stop-color="#00ffec"/><stop offset="0.216" stop-color="#00ffe9"/><stop offset="0.270" stop-color="#00ffe7"/><stop offset="0.324" stop-color="#00ffe3"/><stop offset="0.378" stop-color="#00ffdf"/><stop offset="0.432" stop-color="#00ffd8"/><stop offset="0.486" stop-color="#00ffca"/><stop offset="0.541" stop-color="#00ffaf"/><stop offset="0.595" stop-color="#00ff8b"/><stop offset="0.649" stop-color="#00ff69"/><stop offset="0.703" stop-color="#00ff4a"/><stop offset="0.757" stop-color="#00ff2d"/><stop offset="0.811" stop-color="#00ff14"/><stop offset="0.865" stop-color="#05ff00"/><stop offset="0.919" stop-color="#1dff00"/><stop offset="0.973" stop-color="#35ff00"/><stop offset="1.000" stop-color="#40ff00"/></linearGradient><linearGradient id="gb56" x1="0" x2="1" y1="0" y2="0"><stop offset="0.000" stop-color="#00fff5"/><stop offset="0.054" stop-color="#00ffee"/><stop offset="0.108" stop-color="#00ffe9"/><stop offset="0.162" stop-color="#00ffe5"/><stop offset="0.216" stop-color="#00ffe3"/><stop offset="0.270" stop-color="#00ffe0"/><stop offset="0.324" stop-color="#00ffdc"/><stop offset="0.378" stop-color="#00ffd7"/><stop offset="0.432" stop-color="#00ffd0"/><stop offset="0.486" stop-color="#00ffc1"/><stop offset="0.541" stop-color="#00ffa6"/><stop offset="0.595" stop-color="#00ff84"/><stop offset="0.649" stop-color="#00ff61"/><stop offset="0.703" stop-color="#00ff42"/><stop offset="0.757" stop-color="#00ff25"/><stop offset="0.811" stop-color="#00ff0b"/><stop offset="0.865" stop-color="#0eff00"/><stop offset="0.919" stop-color="#27ff00"/><stop offset="0.973" stop-color="#3eff00"/><stop offset="1.000" stop-color="#49ff00"/></linearGradient><linearGradient id="gb57" x1="0" x2="1" y1="0" y2="0"><stop offset="0.000" stop-color="#00fff0"/><stop offset="0.054" stop-color="#00ffe8"/><stop offset="0.108" stop-color="#00ffe2"/><stop offset="0.162" stop-color="#00ffde"/><stop offset="0.216" stop-color="#00ffdd"/><stop offset="0.270" stop-color="#00ffda"/><stop offset="0.324" stop-color="#00ffd5"/><stop offset="0.378" stop-color="#00ffcf"/><stop offset="0.432" stop-color="#00ffc7"/><stop offset="0.486" stop-color="#00ffb8"/><stop offset="0.541" stop-color="#00ff9e"/><stop offset="0.595" stop-color="#00ff7c"/><stop offset="0.649" stop-color="#00ff5a"/><stop offset="0.703" stop-color="#00ff3a"/><stop offset="0.757" stop-color="#00ff1d"/><stop offset="0.811" stop-color="#00ff02"/><stop offset="0.865" stop-color="#17ff00"/><stop offset="0.919" stop-color="#30ff00"/><stop offset="0.973" stop-color="#47ff00"/><stop offset="1.000" stop-color="#52ff00"/></linearGradient><linearGradient id="gb58" x1="0" x2="1" y1="0" y2="0"><stop offset="0.000" stop-color="#00ffea"/><stop offset="0.054" stop-color="#00ffe2"/><stop offset="0.108" stop-color="#00ffdb"/><stop offset="0.162" stop-color="#00ffd7"/><stop offset="0.216" stop-color="#00ffd6"/><stop offset="0.270" stop-color="#00ffd3"/><stop offset="0.324" stop-color="#00ffcd"/><stop offset="0.378" stop-color="#00ffc7"/><stop offset="0.432" stop-color="#00ffbf"/><stop offset="0.486" stop-color="#00ffaf"/><stop offset="0.541" stop-color="#00ff95"/><stop offset="0.595" stop-color="#00ff74"/><stop offset="0.649" stop-color="#00ff52"/><stop offset="0.703" stop-color="#00ff32"/><stop offset="0.757" stop-color="#00ff14"/><stop offset="0.811" stop-color="#07ff00"/><stop offset="0.865" stop-color="#20ff00"/><stop offset="0.919" stop-color="#39ff00"/><stop offset="0.973" stop-color="#50ff00"/><stop offset="1.000" stop-color="#5bff00"/></linearGradient><linearGradient id="gb59" x1="0" x2="1" y1="0" y2="0"><stop offset="0.000" stop-color="#00ffe4"/><stop offset="0.054" stop-color="#00ffdb"/><stop offset="0.108" stop-color="#00ffd4"/><stop offset="0.162" stop-color="#00ffd0"/><stop offset="0.216" stop-color="#00ffcf"/><stop offset="0.270" stop-color="#00ffcc"/><stop offset="0.324" stop-color="#00ffc5"/><stop offset="0.378" stop-color="#00ffbf"/><stop offset="0.432" stop-color="#00ffb6"/><stop offset="0.486" stop-color="#00ffa6"/><stop offset="0.541" stop-color="#00ff8d"/><stop offset="0.595" stop-color="#00ff6c"/><stop offset="0.649" stop-color="#00ff4a"/><stop offset="0.703" stop-color="#00ff2b"/><stop offset="0.757" stop-color="#00ff0c"/><stop offset="0.811" stop-color="#10ff00"/><stop offset="0.865" stop-color="#29ff00"/><stop offset="0.919" stop-color="#42ff00"/><stop offset="0.973" stop-color="#59ff00"/><stop offset="1.000" stop-color="#64ff00"/></linearGradient><linearGradient id="gb60" x1="0" x2="1" y1="0" y2="0"><stop offset="0.000" stop-color="#00ffdd"/><stop offset="0.054" stop-color="#00ffd4"/><stop offset="0.108" stop-color="#00ffcd"/><stop offset="0.162" stop-color="#00ffc8"/><stop offset="0.216" stop-color="#00ffc7"/><stop offset="0.270" stop-color="#00ffc4"/><stop offset="0.324" stop-color="#00ffbd"/><stop offset="0.378" stop-color="#00ffb7"/><stop offset="0.432" stop-color="#00ffad"/><stop offset="0.486" stop-color="#00ff9d"/><stop offset="0.541" stop-color="#00ff84"/><stop offset="0.595" stop-color="#00ff64"/><stop offset="0.649" stop-color="#00ff43"/><stop offset="0.703" stop-color="#00ff23"/><stop offset="0.757" stop-color="#00ff04"/><stop offset="0.811" stop-color="#19ff00"/><stop offset="0.865" stop-color="#32ff00"/><stop offset="0.919" stop-color="#4bff00"/><stop offset="0.973" stop-color="#63ff00"/><stop offset="1.000" stop-color="#6dff00"/></linearGradient><linearGradient id="gb61" x1="0" x2="1" y1="0" y2="0"><stop offset="0.000" stop-color="#00ffd5"/><stop offset="0.054" stop-color="#00ffcd"/><stop offset="0.108" stop-color="#00ffc5"/><stop offset="0.162" stop-color="#00ffc1"/><stop offset="0.216" stop-color="#00ffbf"/><stop offset="0.270" stop-color="#00ffbc"/><stop offset="0.324" stop-color="#00ffb5"/><stop offset="0.378" stop-color="#00ffae"/><stop offset="0.432" stop-color="#00ffa4"/><stop offset="0.486" stop-color="#00ff94"/><stop offset="0.541" stop-color="#00ff7b"/><stop offset="0.595" stop-color="#00ff5c"/><stop offset="0.649" stop-color="#00ff3b"/><stop offset="0.703" stop-color="#00ff1c"/><stop offset="0.757" stop-color="#04ff00"/><stop offset="0.811" stop-color="#21ff00"/><stop offset="0.865" stop-color="#3cff00"/><stop offset="0.919" stop-color="#55ff00"/><stop offset="0.973" stop-color="#6cff00"/><stop offset="1.000" stop-color="#77ff00"/></linearGradient><linearGradient id="gb62" x1="0" x2="1" y1="0" y2="0"><stop offset="0.000" stop-color="#00ffcd"/><stop offset="0.054" stop-color="#00ffc5"/><stop offset="0.108" stop-color="#00ffbd"/><stop offset="0.162" stop-color="#00ffb9"/><stop offset="0.216" stop-color="#00ffb6"/><stop offset="0.270" stop-color="#00ffb3"/><stop offset="0.324" stop-color="#00ffac"/><stop offset="0.378" stop-color="#00ffa5"/><stop offset="0.432" stop-color="#00ff9b"/><stop offset="0.486" stop-color="#00ff8b"/><stop offset="0.541" stop-color="#00ff73"/><stop offset="0.595" stop-color="#00ff54"/><stop offset="0.649" stop-color="#00ff34"/><stop offset="0.703" stop-color="#00ff14"/><stop offset="0.757" stop-color="#0cff00"/><stop offset="0.811" stop-color="#2aff00"/><stop offset="0.865" stop-color="#45ff00"/><stop offset="0.919" stop-color="#5eff00"/><stop offset="0.973" stop-color="#75ff00"/><stop offset="1.000" stop-color="#80ff00"/></linearGradient><linearGradient id="gb63" x1="0" x2="1" y1="0" y2="0"><stop offset="0.000" stop-color="#00ffc5"/><stop offset="0.054" stop-color="#00ffbd"/><stop offset="0.108" stop-color="#00ffb6"/><stop offset="0.162" stop-color="#00ffb0"/><stop offset="0.216" stop-color="#00ffad"/><stop offset="0.270" stop-color="#00ffa9"/><stop offset="0.324" stop-color="#00ffa4"/><stop offset="0.378" stop-color="#00ff9d"/><stop offset="0.432" stop-color="#00ff93"/><stop offset="0.486" stop-color="#00ff83"/><stop offset="0.541" stop-color="#00ff6a"/><stop offset="0.595" stop-color="#00ff4c"/><stop offset="0.649" stop-color="#00ff2c"/><stop offset="0.703" stop-color="#00ff0c"/><stop offset="0.757" stop-color="#15ff00"/><stop offset="0.811" stop-color="#33ff00"/><stop offset="0.865" stop-color="#4eff00"/><stop offset="0.919" stop-color="#67ff00"/><stop offset="0.973" stop-color="#7eff00"/><stop offset="1.000" stop-color="#89ff00"/></linearGradient><linearGradient id="gb64" x1="0" x2="1" y1="0" y2="0"><stop offset="0.000" stop-color="#00ffbc"/><stop offset="0.054" stop-color="#00ffb5"/><stop offset="0.108" stop-color="#00ffae"/><stop offset="0.162" stop-color="#00ffa8"/><stop offset="0.216" stop-color="#00ffa4"/><stop offset="0.270" stop-color="#00ffa0"/><stop offset="0.324" stop-color="#00ff9b"/><stop offset="0.378" stop-color="#00ff94"/><stop offset="0.432" stop-color="#00ff8a"/><stop offset="0.486" stop-color="#00ff7a"/><stop offset="0.541" stop-color="#00ff62"/><stop offset="0.595" stop-color="#00ff44"/><stop offset="0.649" stop-color="#00ff25"/><stop offset="0.703" stop-color="#00ff04"/><stop offset="0.757" stop-color="#1dff00"/><stop offset="0.811" stop-color="#3cff00"/><stop offset="0.865" stop-color="#57ff00"/><stop offset="0.919" stop-color="#70ff00"/><stop offset="0.973" stop-color="#87ff00"/><stop offset="1.000" stop-color="#92ff00"/></linearGradient><linearGradient id="gb65" x1="0" x2="1" y1="0" y2="0"><stop offset="0.000" stop-color="#00ffb3"/><stop offset="0.054" stop-color="#00ffac"/><stop offset="0.108" stop-color="#00ffa5"/><stop offset="0.162" stop-color="#00ffa0"/><stop offset="0.216" stop-color="#00ff9b"/><stop offset="0.270" stop-color="#00ff97"/><stop offset="0.324" stop-color="#00ff92"/><stop offset="0.378" stop-color="#00ff8b"/><stop offset="0.432" stop-color="#00ff80"/><stop offset="0.486" stop-color="#00ff71"/><stop offset="0.541" stop-color="#00ff59"/><stop offset="0.595" stop-color="#00ff3c"/><stop offset="0.649" stop-color="#00ff1d"/><stop offset="0.703" stop-color="#03ff00"/><stop offset="0.757" stop-color="#26ff00"/><stop offset="0.811" stop-color="#45ff00"/><stop offset="0.865" stop-color="#60ff00"/><stop offset="0.919" stop-color="#7aff00"/><stop offset="0.973" stop-color="#91ff00"/><stop offset="1.000" stop-color="#9bff00"/></linearGradient><linearGradient id="gb66" x1="0" x2="1" y1="0" y2="0"><stop offset="0.000" stop-color="#00ffab"/><stop offset="0.054" stop-color="#00ffa4"/><stop offset="0.108" stop-color="#00ff9d"/><stop offset="0.162" stop-color="#00ff97"/><stop offset="0.216" stop-color="#00ff92"/><stop offset="0.270" stop-color="#00ff8d"/><stop offset="0.324" stop-color="#00ff88"/><stop offset="0.378" stop-color="#00ff82"/><stop offset="0.432" stop-color="#00ff77"/><stop offset="0.486" stop-color="#00ff68"/><stop offset="0.541" stop-color="#00ff50"/><stop offset="0.595" stop-color="#00ff34"/><stop offset="0.649" stop-color="#00ff15"/><stop offset="0.703" stop-color="#0cff00"/><stop offset="0.757" stop-color="#2eff00"/><stop offset="0.811" stop-color="#4eff00"/><stop offset="0.865" stop-color="#6aff00"/><stop offset="0.919" stop-color="#83ff00"/><stop offset="0.973" stop-color="#9aff00"/><stop offset="1.000" stop-color="#a4ff00"/></linearGradient><linearGradient id="gb67" x1="0" x2="1" y1="0" y2="0"><stop offset="0.000" stop-color="#00ffa2"/><stop offset="0.054" stop-color="#00ff9c"/><stop offset="0.108" stop-color="#00ff95"/><stop offset="0.162" stop-color="#00ff8f"/><stop offset="0.216" stop-color="#00ff89"/><stop offset="0.270" stop-color="#00ff84"/><stop offset="0.324" stop-color="#00ff7f"/><stop offset="0.378" stop-color="#00ff78"/><stop offset="0.432" stop-color="#00ff6e"/><stop offset="0.486" stop-color="#00ff5f"/><stop offset="0.541" stop-color="#00ff47"/><stop offset="0.595" stop-color="#00ff2b"/><stop offset="0.649" stop-color="#00ff0d"/><stop offset="0.703" stop-color="#14ff00"/><stop offset="0.757" stop-color="#37ff00"/><stop offset="0.811" stop-color="#57ff00"/><stop offset="0.865" stop-color="#73ff00"/><stop offset="0.919" stop-color="#8cff00"/><stop offset="0.973" stop-color="#a3ff00"/><stop offset="1.000" stop-color="#adff00"/></linearGradient><linearGradient id="gb68" x1="0" x2="1" y1="0" y2="0"><stop offset="0.000" stop-color="#00ff9a"/><stop offset="0.054" stop-color="#00ff93"/><stop offset="0.108" stop-color="#00ff8d"/><stop offset="0.162" stop-color="#00ff86"/><stop offset="0.216" stop-color="#00ff80"/><stop offset="0.270" stop-color="#00ff7b"/><stop offset="0.324" stop-color="#00ff76"/><stop offset="0.378" stop-color="#00ff6f"/><stop offset="0.432" stop-color="#00ff65"/><stop offset="0.486" stop-color="#00ff55"/><stop offset="0.541" stop-color="#00ff3e"/><stop offset="0.595" stop-color="#00ff22"/><stop offset="0.649" stop-color="#00ff04"/><stop offset="0.703" stop-color="#1cff00"/><stop offset="0.757" stop-color="#40ff00"/><stop offset="0.811" stop-color="#61ff00"/><stop offset="0.865" stop-color="#7dff00"/><stop offset="0.919" stop-color="#96ff00"/><stop offset="0.973" stop-color="#abff00"/><stop offset="1.000" stop-color="#b6ff00"/></linearGradient><linearGradient id="gb69" x1="0" x2="1" y1="0" y2="0"><stop offset="0.000" stop-color="#00ff91"/><stop offset="0.054" stop-color="#00ff8b"/><stop offset="0.108" stop-color="#00ff85"/><stop offset="0.162" stop-color="#00ff7e"/><stop offset="0.216" stop-color="#00ff77"/><stop offset="0.270" stop-color="#00ff72"/><stop offset="0.324" stop-color="#00ff6d"/><stop offset="0.378" stop-color="#00ff66"/><stop offset="0.432" stop-color="#00ff5c"/><stop offset="0.486" stop-color="#00ff4c"/><stop offset="0.541" stop-color="#00ff35"/><stop offset="0.595" stop-color="#00ff1a"/><stop offset="0.649" stop-color="#04ff00"/><stop offset="0.703" stop-color="#25ff00"/><stop offset="0.757" stop-color="#49ff00"/><stop offset="0.811" stop-color="#6bff00"/><stop offset="0.865" stop-color="#87ff00"/><stop offset="0.919" stop-color="#9fff00"/><stop offset="0.973" stop-color="#b4ff00"/><stop offset="1.000" stop-color="#beff00"/></linearGradient><linearGradient id="gb70" x1="0" x2="1" y1="0" y2="0"><stop offset="0.000" stop-color="#00ff89"/><stop offset="0.054" stop-color="#00ff83"/><stop offset="0.108" stop-color="#00ff7c"/><stop offset="0.162" stop-color="#00ff75"/><stop offset="0.216" stop-color="#00ff6f"/><stop offset="0.270" stop-color="#00ff69"/><stop offset="0.324" stop-color="#00ff64"/><stop offset="0.378" stop-color="#00ff5d"/><stop offset="0.432" stop-color="#00ff52"/><stop offset="0.486" stop-color="#00ff42"/><stop offset="0.541" stop-color="#00ff2c"/><stop offset="0.595" stop-color="#00ff11"/><stop offset="0.649" stop-color="#0dff00"/><stop offset="0.703" stop-color="#2eff00"/><stop offset="0.757" stop-color="#52ff00"/><stop offset="0.811" stop-color="#75ff00"/><stop offset="0.865" stop-color="#91ff00"/><stop offset="0.919" stop-color="#a8ff00"/><stop offset="0.973" stop-color="#bdff00"/><stop offset="1.000" stop-color="#c6ff00"/></linearGradient><linearGradient id="gb71" x1="0" x2="1" y1="0" y2="0"><stop offset="0.000" stop-color="#00ff81"/><stop offset="0.054" stop-color="#00ff7b"/><stop offset="0.108" stop-color="#00ff74"/><stop offset="0.162" stop-color="#00ff6d"/><stop offset="0.216" stop-color="#00ff66"/><stop offset="0.270" stop-color="#00ff60"/><stop offset="0.324" stop-color="#00ff5b"/><stop offset="0.378" stop-color="#00ff54"/><stop offset="0.432" stop-color="#00ff49"/><stop offset="0.486" stop-color="#00ff39"/><stop offset="0.541" stop-color="#00ff23"/><stop offset="0.595" stop-color="#00ff08"/><stop offset="0.649" stop-color="#15ff00"/><stop offset="0.703" stop-color="#37ff00"/><stop offset="0.757" stop-color="#5cff00"/><stop offset="0.811" stop-color="#7fff00"/><stop offset="0.865" stop-color="#9bff00"/><stop offset="0.919" stop-color="#b1ff00"/><stop offset="0.973" stop-color="#c5ff00"/><stop offset="1.000" stop-color="#cfff00"/></linearGradient><linearGradient id="gb72" x1="0" x2="1" y1="0" y2="0"><stop offset="0.000" stop-color="#00ff79"/><stop offset="0.054" stop-color="#00ff73"/><stop offset="0.108" stop-color="#00ff6c"/><stop offset="0.162" stop-color="#00ff65"/><stop offset="0.216" stop-color="#00ff5d"/><stop offset="0.270" stop-color="#00ff57"/><stop offset="0.324" stop-color="#00ff52"/><stop offset="0.378" stop-color="#00ff4c"/><stop offset="0.432" stop-color="#00ff40"/><stop offset="0.486" stop-color="#00ff30"/><stop offset="0.541" stop-color="#00ff19"/><stop offset="0.595" stop-color="#01ff00"/><stop offset="0.649" stop-color="#1eff00"/><stop offset="0.703" stop-color="#40ff00"/><stop offset="0.757" stop-color="#65ff00"/><stop offset="0.811" stop-color="#89ff00"/><stop offset="0.865" stop-color="#a5ff00"/><stop offset="0.919" stop-color="#baff00"/><stop offset="0.973" stop-color="#ceff00"/><stop offset="1.000" stop-color="#d7ff00"/></linearGradient><linearGradient id="gb73" x1="0" x2="1" y1="0" y2="0"><stop offset="0.000" stop-color="#00ff71"/><stop offset="0.054" stop-color="#00ff6b"/><stop offset="0.108" stop-color="#00ff64"/><stop offset="0.162" stop-color="#00ff5c"/><stop offset="0.216" stop-color="#00ff55"/><stop offset="0.270" stop-color="#00ff4f"/><stop offset="0.324" stop-color="#00ff4a"/><stop offset="0.378" stop-color="#00ff43"/><stop offset="0.432" stop-color="#00ff37"/><stop offset="0.486" stop-color="#00ff26"/><stop offset="0.541" stop-color="#00ff10"/><stop offset="0.595" stop-color="#0aff00"/><stop offset="0.649" stop-color="#27ff00"/><stop offset="0.703" stop-color="#49ff00"/><stop offset="0.757" stop-color="#6fff00"/><stop offset="0.811" stop-color="#92ff00"/><stop offset="0.865" stop-color="#aeff00"/><stop offset="0.919" stop-color="#c3ff00"/><stop offset="0.973" stop-color="#d6ff00"/><stop offset="1.000" stop-color="#dfff00"/></linearGradient><linearGradient id="gb74" x1="0" x2="1" y1="0" y2="0"><stop offset="0.000" stop-color="#00ff6a"/><stop offset="0.054" stop-color="#00ff63"/><stop offset="0.108" stop-color="#00ff5c"/><stop offset="0.162" stop-color="#00ff54"/><stop offset="0.216" stop-color="#00ff4c"/><stop offset="0.270" stop-color="#00ff46"/><stop offset="0.324" stop-color="#00ff41"/><stop offset="0.378" stop-color="#00ff3a"/><stop offset="0.432" stop-color="#00ff2e"/><stop offset="0.486" stop-color="#00ff1d"/><stop offset="0.541" stop-color="#00ff07"/><stop offset="0.595" stop-color="#13ff00"/><stop offset="0.649" stop-color="#30ff00"/><stop offset="0.703" stop-color="#53ff00"/><stop offset="0.757" stop-color="#78ff00"/><stop offset="0.811" stop-color="#9cff00"/><stop offset="0.865" stop-color="#b8ff00"/><stop offset="0.919" stop-color="#ccff00"/><stop offset="0.973" stop-color="#dfff00"/><stop offset="1.000" stop-color="#e8ff00"/></linearGradient><linearGradient id="gb75" x1="0" x2="1" y1="0" y2="0"><stop offset="0.000" stop-color="#00ff62"/><stop offset="0.054" stop-color="#00ff5c"/><stop offset="0.108" stop-color="#00ff55"/><stop offset="0.162" stop-color="#00ff4c"/><stop offset="0.216" stop-color="#00ff44"/><stop offset="0.270" stop-color="#00ff3d"/><stop offset="0.324" stop-color="#00ff39"/><stop offset="0.378" stop-color="#00ff32"/><stop offset="0.432" stop-color="#00ff26"/><stop offset="0.486" stop-color="#00ff14"/><stop offset="0.541" stop-color="#02ff00"/><stop offset="0.595" stop-color="#1bff00"/><stop offset="0.649" stop-color="#39ff00"/><stop offset="0.703" stop-color="#5cff00"/><stop offset="0.757" stop-color="#81ff00"/><stop offset="0.811" stop-color="#a5ff00"/><stop offset="0.865" stop-color="#c1ff00"/><stop offset="0.919" stop-color="#d5ff00"/><stop offset="0.973" stop-color="#e7ff00"/><stop offset="1.000" stop-color="#f0ff00"/></linearGradient><linearGradient id="gb76" x1="0" x2="1" y1="0" y2="0"><stop offset="0.000" stop-color="#00ff5b"/><stop offset="0.054" stop-color="#00ff55"/><stop offset="0.108" stop-color="#00ff4d"/><stop offset="0.162" stop-color="#00ff45"/><stop offset="0.216" stop-color="#00ff3b"/><stop offset="0.270" stop-color="#00ff35"/><stop offset="0.324" stop-color="#00ff31"/><stop offset="0.378" stop-color="#00ff2a"/><stop offset="0.432" stop-color="#00ff1d"/><stop offset="0.486" stop-color="#00ff0b"/><stop offset="0.541" stop-color="#0bff00"/><stop offset="0.595" stop-color="#24ff00"/><stop offset="0.649" stop-color="#43ff00"/><stop offset="0.703" stop-color="#65ff00"/><stop offset="0.757" stop-color="#8bff00"/><stop offset="0.811" stop-color="#aeff00"/><stop offset="0.865" stop-color="#caff00"/><stop offset="0.919" stop-color="#deff00"/><stop offset="0.973" stop-color="#f0ff00"/><stop offset="1.000" stop-color="#f9ff00"/></linearGradient><linearGradient id="gb77" x1="0" x2="1" y1="0" y2="0"><stop offset="0.000" stop-color="#00ff54"/><stop offset="0.054" stop-color="#00ff4d"/><stop offset="0.108" stop-color="#00ff46"/><stop offset="0.162" stop-color="#00ff3d"/><stop offset="0.216" stop-color="#00ff33"/><stop offset="0.270" stop-color="#00ff2d"/><stop offset="0.324" stop-color="#00ff29"/><stop offset="0.378" stop-color="#00ff23"/><stop offset="0.432" stop-color="#00ff15"/><stop offset="0.486" stop-color="#00ff02"/><stop offset="0.541" stop-color="#13ff00"/><stop offset="0.595" stop-color="#2dff00"/><stop offset="0.649" stop-color="#4cff00"/><stop offset="0.703" stop-color="#6fff00"/><stop offset="0.757" stop-color="#94ff00"/><stop offset="0.811" stop-color="#b7ff00"/><stop offset="0.865" stop-color="#d2ff00"/><stop offset="0.919" stop-color="#e7ff00"/><stop offset="0.973" stop-color="#f8ff00"/><stop offset="1.000" stop-color="#fffd00"/></linearGradient><linearGradient id="gb78" x1="0" x2="1" y1="0" y2="0"><stop offset="0.000" stop-color="#00ff4d"/><stop offset="0.054" stop-color="#00ff46"/><stop offset="0.108" stop-color="#00ff3f"/><stop offset="0.162" stop-color="#00ff36"/><stop offset="0.216" stop-color="#00ff2c"/><stop offset="0.270" stop-color="#00ff25"/><stop offset="0.324" stop-color="#00ff22"/><stop offset="0.378" stop-color="#00ff1b"/><stop offset="0.432" stop-color="#00ff0e"/><stop offset="0.486" stop-color="#06ff00"/><stop offset="0.541" stop-color="#1cff00"/><stop offset="0.595" stop-color="#35ff00"/><stop offset="0.649" stop-color="#54ff00"/><stop offset="0.703" stop-color="#78ff00"/><stop offset="0.757" stop-color="#9dff00"/><stop offset="0.811" stop-color="#c0ff00"/><stop offset="0.865" stop-color="#dbff00"/><stop offset="0.919" stop-color="#f0ff00"/><stop offset="0.973" stop-color="#fffd00"/><stop offset="1.000" stop-color="#fff500"/></linearGradient><linearGradient id="gb79" x1="0" x2="1" y1="0" y2="0"><stop offset="0.000" stop-color="#00ff46"/><stop offset="0.054" stop-color="#00ff3f"/><stop offset="0.108" stop-color="#00ff38"/><stop offset="0.162" stop-color="#00ff2f"/><stop offset="0.216" stop-color="#00ff25"/><stop offset="0.270" stop-color="#00ff1e"/><stop offset="0.324" stop-color="#00ff1b"/><stop offset="0.378" stop-color="#00ff14"/><stop offset="0.432" stop-color="#00ff06"/><stop offset="0.486" stop-color="#0eff00"/><stop offset="0.541" stop-color="#23ff00"/><stop offset="0.595" stop-color="#3dff00"/><stop offset="0.649" stop-color="#5dff00"/><stop offset="0.703" stop-color="#81ff00"/><stop offset="0.757" stop-color="#a6ff00"/><stop offset="0.811" stop-color="#c8ff00"/><stop offset="0.865" stop-color="#e4ff00"/><stop offset="0.919" stop-color="#f8ff00"/><stop offset="0.973" stop-color="#fff500"/><stop offset="1.000" stop-color="#ffec00"/></linearGradient><linearGradient id="gb80" x1="0" x2="1" y1="0" y2="0"><stop offset="0.000" stop-color="#00ff3f"/><stop offset="0.054" stop-color="#00ff38"/><stop offset="0.108" stop-color="#00ff31"/><stop offset="0.162" stop-color="#00ff28"/><stop offset="0.216" stop-color="#00ff1e"/><stop offset="0.270" stop-color="#00ff17"/><stop offset="0.324" stop-color="#00ff15"/><stop offset="0.378" stop-color="#00ff0d"/><stop offset="0.432" stop-color="#01ff00"/><stop offset="0.486" stop-color="#16ff00"/><stop offset="0.541" stop-color="#2bff00"/><stop offset="0.595" stop-color="#45ff00"/><stop offset="0.649" stop-color="#66ff00"/><stop offset="0.703" stop-color="#8aff00"/><stop offset="0.757" stop-color="#afff00"/><stop offset="0.811" stop-color="#d1ff00"/><stop offset="0.865" stop-color="#ecff00"/><stop offset="0.919" stop-color="#fffd00"/><stop offset="0.973" stop-color="#ffec00"/><stop offset="1.000" stop-color="#ffe300"/></linearGradient><linearGradient id="gb81" x1="0" x2="1" y1="0" y2="0"><stop offset="0.000" stop-color="#00ff38"/><stop offset="0.054" stop-color="#00ff31"/><stop offset="0.108" stop-color="#00ff2a"/><stop offset="0.162" stop-color="#00ff22"/><stop offset="0.216" stop-color="#00ff18"/><stop offset="0.270" stop-color="#00ff12"/><stop offset="0.324" stop-color="#00ff0e"/><stop offset="0.378" stop-color="#00ff07"/><stop offset="0.432" stop-color="#07ff00"/><stop offset="0.486" stop-color="#1cff00"/><stop offset="0.541" stop-color="#32ff00"/><stop offset="0.595" stop-color="#4dff00"/><stop offset="0.649" stop-color="#6eff00"/><stop offset="0.703" stop-color="#93ff00"/><stop offset="0.757" stop-color="#b8ff00"/><stop offset="0.811" stop-color="#daff00"/><stop offset="0.865" stop-color="#f5ff00"/><stop offset="0.919" stop-color="#fff400"/><stop offset="0.973" stop-color="#ffe300"/><stop offset="1.000" stop-color="#ffda00"/></linearGradient><linearGradient id="gb82" x1="0" x2="1" y1="0" y2="0"><stop offset="0.000" stop-color="#00ff31"/><stop offset="0.054" stop-color="#00ff2a"/><stop offset="0.108" stop-color="#00ff23"/><stop offset="0.162" stop-color="#00ff1c"/><stop offset="0.216" stop-color="#00ff13"/><stop offset="0.270" stop-color="#00ff0d"/><stop offset="0.324" stop-color="#00ff09"/><stop offset="0.378" stop-color="#00ff00"/><stop offset="0.432" stop-color="#0dff00"/><stop offset="0.486" stop-color="#22ff00"/><stop offset="0.541" stop-color="#38ff00"/><stop offset="0.595" stop-color="#54ff00"/><stop offset="0.649" stop-color="#76ff00"/><stop offset="0.703" stop-color="#9bff00"/><stop offset="0.757" stop-color="#c0ff00"/><stop offset="0.811" stop-color="#e2ff00"/><stop offset="0.865" stop-color="#feff00"/><stop offset="0.919" stop-color="#ffeb00"/><stop offset="0.973" stop-color="#ffda00"/><stop offset="1.000" stop-color="#ffd100"/></linearGradient><linearGradient id="gb83" x1="0" x2="1" y1="0" y2="0"><stop offset="0.000" stop-color="#00ff2a"/><stop offset="0.054" stop-color="#00ff23"/><stop offset="0.108" stop-color="#00ff1c"/><stop offset="0.162" stop-color="#00ff15"/><stop offset="0.216" stop-color="#00ff0e"/><stop offset="0.270" stop-color="#00ff08"/><stop offset="0.324" stop-color="#00ff03"/><stop offset="0.378" stop-color="#06ff00"/><stop offset="0.432" stop-color="#13ff00"/><stop offset="0.486" stop-color="#27ff00"/><stop offset="0.541" stop-color="#3eff00"/><stop offset="0.595" stop-color="#5bff00"/><stop offset="0.649" stop-color="#7eff00"/><stop offset="0.703" stop-color="#a3ff00"/><stop offset="0.757" stop-color="#c8ff00"/><stop offset="0.811" stop-color="#ebff00"/><stop offset="0.865" stop-color="#fff700"/><stop offset="0.919" stop-color="#ffe200"/><stop offset="0.973" stop-color="#ffd100"/><stop offset="1.000" stop-color="#ffc800"/></linearGradient><linearGradient id="gb84" x1="0" x2="1" y1="0" y2="0"><stop offset="0.000" stop-color="#00ff23"/><stop offset="0.054" stop-color="#00ff1c"/><stop offset="0.108" stop-color="#00ff16"/><stop offset="0.162" stop-color="#00ff0f"/><stop offset="0.216" stop-color="#00ff0a"/><stop offset="0.270" stop-color="#00ff04"/><stop offset="0.324" stop-color="#03ff00"/><stop offset="0.378" stop-color="#0bff00"/><stop offset="0.432" stop-color="#19ff00"/><stop offset="0.486" stop-color="#2cff00"/><stop offset="0.541" stop-color="#44ff00"/><stop offset="0.595" stop-color="#62ff00"/><stop offset="0.649" stop-color="#85ff00"/><stop offset="0.703" stop-color="#abff00"/><stop offset="0.757" stop-color="#d1ff00"/><stop offset="0.811" stop-color="#f3ff00"/><stop offset="0.865" stop-color="#ffef00"/><stop offset="0.919" stop-color="#ffd900"/><stop offset="0.973" stop-color="#ffc700"/><stop offset="1.000" stop-color="#ffbe00"/></linearGradient><linearGradient id="gb85" x1="0" x2="1" y1="0" y2="0"><stop offset="0.000" stop-color="#00ff1c"/><stop offset="0.054" stop-color="#00ff15"/><stop offset="0.108" stop-color="#00ff0f"/><stop offset="0.162" stop-color="#00ff09"/><stop offset="0.216" stop-color="#00ff05"/><stop offset="0.270" stop-color="#00ff00"/><stop offset="0.324" stop-color="#08ff00"/><stop offset="0.378" stop-color="#11ff00"/><stop offset="0.432" stop-color="#1fff00"/><stop offset="0.486" stop-color="#31ff00"/><stop offset="0.541" stop-color="#4aff00"/><stop offset="0.595" stop-color="#68ff00"/><stop offset="0.649" stop-color="#8cff00"/><stop offset="0.703" stop-color="#b3ff00"/><stop offset="0.757" stop-color="#d9ff00"/><stop offset="0.811" stop-color="#fcff00"/><stop offset="0.865" stop-color="#ffe600"/><stop offset="0.919" stop-color="#ffd000"/><stop offset="0.973" stop-color="#ffbe00"/><stop offset="1.000" stop-color="#ffb500"/></linearGradient><linearGradient id="gb86" x1="0" x2="1" y1="0" y2="0"><stop offset="0.000" stop-color="#00ff14"/><stop offset="0.054" stop-color="#00ff0e"/><stop offset="0.108" stop-color="#00ff08"/><stop offset="0.162" stop-color="#00ff03"/><stop offset="0.216" stop-color="#00ff00"/><stop offset="0.270" stop-color="#05ff00"/><stop offset="0.324" stop-color="#0dff00"/><stop offset="0.378" stop-color="#17ff00"/><stop offset="0.432" stop-color="#24ff00"/><stop offset="0.486" stop-color="#36ff00"/><stop offset="0.541" stop-color="#4fff00"/><stop offset="0.595" stop-color="#6fff00"/><stop offset="0.649" stop-color="#93ff00"/><stop offset="0.703" stop-color="#bbff00"/><stop offset="0.757" stop-color="#e0ff00"/><stop offset="0.811" stop-color="#fffa00"/><stop offset="0.865" stop-color="#ffdd00"/><stop offset="0.919" stop-color="#ffc700"/><stop offset="0.973" stop-color="#ffb500"/><stop offset="1.000" stop-color="#ffac00"/></linearGradient><linearGradient id="gb87" x1="0" x2="1" y1="0" y2="0"><stop offset="0.000" stop-color="#00ff0d"/><stop offset="0.054" stop-color="#00ff06"/><stop offset="0.108" stop-color="#00ff01"/><stop offset="0.162" stop-color="#03ff00"/><stop offset="0.216" stop-color="#05ff00"/><stop offset="0.270" stop-color="#0aff00"/><stop offset="0.324" stop-color="#13ff00"/><stop offset="0.378" stop-color="#1dff00"/><stop offset="0.432" stop-color="#29ff00"/><stop offset="0.486" stop-color="#3bff00"/><stop offset="0.541" stop-color="#55ff00"/><stop offset="0.595" stop-color="#75ff00"/><stop offset="0.649" stop-color="#9aff00"/><stop offset="0.703" stop-color="#c2ff00"/><stop offset="0.757" stop-color="#e8ff00"/><stop offset="0.811" stop-color="#fff200"/><stop offset="0.865" stop-color="#ffd500"/><stop offset="0.919" stop-color="#ffbe00"/><stop offset="0.973" stop-color="#ffab00"/><stop offset="1.000" stop-color="#ffa200"/></linearGradient><linearGradient id="gb88" x1="0" x2="1" y1="0" y2="0"><stop offset="0.000" stop-color="#00ff05"/><stop offset="0.054" stop-color="#01ff00"/><stop offset="0.108" stop-color="#06ff00"/><stop offset="0.162" stop-color="#09ff00"/><stop offset="0.216" stop-color="#0bff00"/><stop offset="0.270" stop-color="#0fff00"/><stop offset="0.324" stop-color="#19ff00"/><stop offset="0.378" stop-color="#23ff00"/><stop offset="0.432" stop-color="#2fff00"/><stop offset="0.486" stop-color="#40ff00"/><stop offset="0.541" stop-color="#5aff00"/><stop offset="0.595" stop-color="#7bff00"/><stop offset="0.649" stop-color="#a1ff00"/><stop offset="0.703" stop-color="#c9ff00"/><stop offset="0.757" stop-color="#efff00"/><stop offset="0.811" stop-color="#ffea00"/><stop offset="0.865" stop-color="#ffcc00"/><stop offset="0.919" stop-color="#ffb500"/><stop offset="0.973" stop-color="#ffa200"/><stop offset="1.000" stop-color="#ff9900"/></linearGradient><linearGradient id="gb89" x1="0" x2="1" y1="0" y2="0"><stop offset="0.000" stop-color="#04ff00"/><stop offset="0.054" stop-color="#09ff00"/><stop offset="0.108" stop-color="#0dff00"/><stop offset="0.162" stop-color="#10ff00"/><stop offset="0.216" stop-color="#11ff00"/><stop offset="0.270" stop-color="#16ff00"/><stop offset="0.324" stop-color="#1fff00"/><stop offset="0.378" stop-color="#28ff00"/><stop offset="0.432" stop-color="#35ff00"/><stop offset="0.486" stop-color="#45ff00"/><stop offset="0.541" stop-color="#60ff00"/><stop offset="0.595" stop-color="#81ff00"/><stop offset="0.649" stop-color="#a7ff00"/><stop offset="0.703" stop-color="#cfff00"/><stop offset="0.757" stop-color="#f6ff00"/><stop offset="0.811" stop-color="#ffe300"/><stop offset="0.865" stop-color="#ffc400"/><stop offset="0.919" stop-color="#ffac00"/><stop offset="0.973" stop-color="#ff9900"/><stop offset="1.000" stop-color="#ff8f00"/></linearGradient><linearGradient id="gb90" x1="0" x2="1" y1="0" y2="0"><stop offset="0.000" stop-color="#0cff00"/><stop offset="0.054" stop-color="#10ff00"/><stop offset="0.108" stop-color="#14ff00"/><stop offset="0.162" stop-color="#16ff00"/><stop offset="0.216" stop-color="#18ff00"/><stop offset="0.270" stop-color="#1cff00"/><stop offset="0.324" stop-color="#25ff00"/><stop offset="0.378" stop-color="#2fff00"/><stop offset="0.432" stop-color="#3bff00"/><stop offset="0.486" stop-color="#4bff00"/><stop offset="0.541" stop-color="#66ff00"/><stop offset="0.595" stop-color="#88ff00"/><stop offset="0.649" stop-color="#aeff00"/><stop offset="0.703" stop-color="#d6ff00"/><stop offset="0.757" stop-color="#fdff00"/><stop offset="0.811" stop-color="#ffdb00"/><stop offset="0.865" stop-color="#ffbb00"/><stop offset="0.919" stop-color="#ffa300"/><stop offset="0.973" stop-color="#ff8f00"/><stop offset="1.000" stop-color="#ff8600"/></linearGradient><linearGradient id="gb91" x1="0" x2="1" y1="0" y2="0"><stop offset="0.000" stop-color="#15ff00"/><stop offset="0.054" stop-color="#18ff00"/><stop offset="0.108" stop-color="#1bff00"/><stop offset="0.162" stop-color="#1dff00"/><stop offset="0.216" stop-color="#1fff00"/><stop offset="0.270" stop-color="#23ff00"/><stop offset="0.324" stop-color="#2bff00"/><stop offset="0.378" stop-color="#35ff00"/><stop offset="0.432" stop-color="#41ff00"/><stop offset="0.486" stop-color="#51ff00"/><stop offset="0.541" stop-color="#6cff00"/><stop offset="0.595" stop-color="#8eff00"/><stop offset="0.649" stop-color="#b4ff00"/><stop offset="0.703" stop-color="#dcff00"/><stop offset="0.757" stop-color="#fffb00"/><stop offset="0.811" stop-color="#ffd400"/><stop offset="0.865" stop-color="#ffb300"/><stop offset="0.919" stop-color="#ff9b00"/><stop offset="0.973" stop-color="#ff8600"/><stop offset="1.000" stop-color="#ff7d00"/></linearGradient><linearGradient id="gb92" x1="0" x2="1" y1="0" y2="0"><stop offset="0.000" stop-color="#1dff00"/><stop offset="0.054" stop-color="#20ff00"/><stop offset="0.108" stop-color="#22ff00"/><stop offset="0.162" stop-color="#24ff00"/><stop offset="0.216" stop-color="#26ff00"/><stop offset="0.270" stop-color="#2aff00"/><stop offset="0.324" stop-color="#31ff00"/><stop offset="0.378" stop-color="#3bff00"/><stop offset="0.432" stop-color="#47ff00"/><stop offset="0.486" stop-color="#58ff00"/><stop offset="0.541" stop-color="#73ff00"/><stop offset="0.595" stop-color="#95ff00"/><stop offset="0.649" stop-color="#baff00"/><stop offset="0.703" stop-color="#e2ff00"/><stop offset="0.757" stop-color="#fff400"/><stop offset="0.811" stop-color="#ffcd00"/><stop offset="0.865" stop-color="#ffab00"/><stop offset="0.919" stop-color="#ff9200"/><stop offset="0.973" stop-color="#ff7e00"/><stop offset="1.000" stop-color="#ff7400"/></linearGradient><linearGradient id="gb93" x1="0" x2="1" y1="0" y2="0"><stop offset="0.000" stop-color="#25ff00"/><stop offset="0.054" stop-color="#27ff00"/><stop offset="0.108" stop-color="#29ff00"/><stop offset="0.162" stop-color="#2bff00"/><stop offset="0.216" stop-color="#2dff00"/><stop offset="0.270" stop-color="#31ff00"/><stop offset="0.324" stop-color="#38ff00"/><stop offset="0.378" stop-color="#42ff00"/><stop offset="0.432" stop-color="#4eff00"/><stop offset="0.486" stop-color="#5fff00"/><stop offset="0.541" stop-color="#79ff00"/><stop offset="0.595" stop-color="#9bff00"/><stop offset="0.649" stop-color="#c1ff00"/><stop offset="0.703" stop-color="#e9ff00"/><stop offset="0.757" stop-color="#ffed00"/><stop offset="0.811" stop-color="#ffc600"/><stop offset="0.865" stop-color="#ffa400"/><stop offset="0.919" stop-color="#ff8a00"/><stop offset="0.973" stop-color="#ff7500"/><stop offset="1.000" stop-color="#ff6b00"/></linearGradient><linearGradient id="gb94" x1="0" x2="1" y1="0" y2="0"><stop offset="0.000" stop-color="#2cff00"/><stop offset="0.054" stop-color="#2fff00"/><stop offset="0.108" stop-color="#31ff00"/><stop offset="0.162" stop-color="#32ff00"/><stop offset="0.216" stop-color="#34ff00"/><stop offset="0.270" stop-color="#38ff00"/><stop offset="0.324" stop-color="#3fff00"/><stop offset="0.378" stop-color="#49ff00"/><stop offset="0.432" stop-color="#55ff00"/><stop offset="0.486" stop-color="#66ff00"/><stop offset="0.541" stop-color="#81ff00"/><stop offset="0.595" stop-color="#a2ff00"/><stop offset="0.649" stop-color="#c8ff00"/><stop offset="0.703" stop-color="#f0ff00"/><stop offset="0.757" stop-color="#ffe600"/><stop offset="0.811" stop-color="#ffbf00"/><stop offset="0.865" stop-color="#ff9c00"/><stop offset="0.919" stop-color="#ff8200"/><stop offset="0.973" stop-color="#ff6d00"/><stop offset="1.000" stop-color="#ff6300"/></linearGradient><linearGradient id="gb95" x1="0" x2="1" y1="0" y2="0"><stop offset="0.000" stop-color="#32ff00"/><stop offset="0.054" stop-color="#35ff00"/><stop offset="0.108" stop-color="#36ff00"/><stop offset="0.162" stop-color="#37ff00"/><stop offset="0.216" stop-color="#39ff00"/><stop offset="0.270" stop-color="#3eff00"/><stop offset="0.324" stop-color="#44ff00"/><stop offset="0.378" stop-color="#4eff00"/><stop offset="0.432" stop-color="#5aff00"/><stop offset="0.486" stop-color="#6bff00"/><stop offset="0.541" stop-color="#86ff00"/><stop offset="0.595" stop-color="#a8ff00"/><stop offset="0.649" stop-color="#cdff00"/><stop offset="0.703" stop-color="#f5ff00"/><stop offset="0.757" stop-color="#ffe100"/><stop offset="0.811" stop-color="#ffba00"/><stop offset="0.865" stop-color="#ff9700"/><stop offset="0.919" stop-color="#ff7c00"/><stop offset="0.973" stop-color="#ff6600"/><stop offset="1.000" stop-color="#ff5c00"/></linearGradient><clipPath id="clipgb"><rect x="391.40" y="26.40" width="184.50" height="190.60" rx="2.60"/></clipPath><linearGradient id="cb338" x1="0" x2="0" y1="0" y2="1"><stop offset="0.000" stop-color="#8000ff"/><stop offset="0.017" stop-color="#6c00ff"/><stop offset="0.033" stop-color="#5900ff"/><stop offset="0.050" stop-color="#4600ff"/><stop offset="0.067" stop-color="#3300ff"/><stop offset="0.083" stop-color="#2000ff"/><stop offset="0.100" stop-color="#0d00ff"/><stop offset="0.117" stop-color="#0006ff"/><stop offset="0.133" stop-color="#0019ff"/><stop offset="0.150" stop-color="#002dff"/><stop offset="0.167" stop-color="#0040ff"/><stop offset="0.183" stop-color="#0053ff"/><stop offset="0.200" stop-color="#0066ff"/><stop offset="0.217" stop-color="#0079ff"/><stop offset="0.233" stop-color="#008cff"/><stop offset="0.250" stop-color="#009fff"/><stop offset="0.267" stop-color="#00b2ff"/><stop offset="0.283" stop-color="#00c6ff"/><stop offset="0.300" stop-color="#00d9ff"/><stop offset="0.317" stop-color="#00ecff"/><stop offset="0.333" stop-color="#00ffff"/><stop offset="0.350" stop-color="#00ffec"/><stop offset="0.367" stop-color="#00ffd9"/><stop offset="0.383" stop-color="#00ffc6"/><stop offset="0.400" stop-color="#00ffb2"/><stop offset="0.417" stop-color="#00ff9f"/><stop offset="0.433" stop-color="#00ff8c"/><stop offset="0.450" stop-color="#00ff79"/><stop offset="0.467" stop-color="#00ff66"/><stop offset="0.483" stop-color="#00ff53"/><stop offset="0.500" stop-color="#00ff40"/><stop offset="0.517" stop-color="#00ff2d"/><stop offset="0.533" stop-color="#00ff19"/><stop offset="0.550" stop-color="#00ff06"/><stop offset="0.567" stop-color="#0dff00"/><stop offset="0.583" stop-color="#20ff00"/><stop offset="0.600" stop-color="#33ff00"/><stop offset="0.617" stop-color="#46ff00"/><stop offset="0.633" stop-color="#59ff00"/><stop offset="0.650" stop-color="#6cff00"/><stop offset="0.667" stop-color="#80ff00"/><stop offset="0.683" stop-color="#93ff00"/><stop offset="0.700" stop-color="#a6ff00"/><stop offset="0.717" stop-color="#b9ff00"/><stop offset="0.733" stop-color="#ccff00"/><stop offset="0.750" stop-color="#dfff00"/><stop offset="0.767" stop-color="#f2ff00"/><stop offset="0.783" stop-color="#fff900"/><stop offset="0.800" stop-color="#ffe500"/><stop offset="0.817" stop-color="#ffd200"/><stop offset="0.833" stop-color="#ffbf00"/><stop offset="0.850" stop-color="#ffac00"/><stop offset="0.867" stop-color="#ff9900"/><stop offset="0.883" stop-color="#ff8600"/><stop offset="0.900" stop-color="#ff7300"/><stop offset="0.917" stop-color="#ff6000"/><stop offset="0.933" stop-color="#ff4c00"/><stop offset="0.950" stop-color="#ff3900"/><stop offset="0.967" stop-color="#ff2600"/><stop offset="0.983" stop-color="#ff1300"/><stop offset="1.000" stop-color="#ff0000"/></linearGradient></defs><g clip-path="url(#clipga)"><rect x="54.0" y="26.0" width="185.0" height="2.00" fill="url(#ga0)"/><rect x="54.0" y="28.0" width="185.0" height="2.00" fill="url(#ga1)"/><rect x="54.0" y="30.0" width="185.0" height="2.00" fill="url(#ga2)"/><rect x="54.0" y="32.0" width="185.0" height="2.00" fill="url(#ga3)"/><rect x="54.0" y="34.0" width="185.0" height="2.00" fill="url(#ga4)"/><rect x="54.0" y="36.0" width="185.0" height="2.00" fill="url(#ga5)"/><rect x="54.0" y="38.0" width="185.0" height="2.00" fill="url(#ga6)"/><rect x="54.0" y="40.0" width="185.0" height="2.00" fill="url(#ga7)"/><rect x="54.0" y="42.0" width="185.0" height="2.00" fill="url(#ga8)"/><rect x="54.0" y="44.0" width="185.0" height="2.00" fill="url(#ga9)"/><rect x="54.0" y="46.0" width="185.0" height="2.00" fill="url(#ga10)"/><rect x="54.0" y="48.0" width="185.0" height="2.00" fill="url(#ga11)"/><rect x="54.0" y="50.0" width="185.0" height="2.00" fill="url(#ga12)"/><rect x="54.0" y="52.0" width="185.0" height="2.00" fill="url(#ga13)"/><rect x="54.0" y="54.0" width="185.0" height="2.00" fill="url(#ga14)"/><rect x="54.0" y="56.0" width="185.0" height="2.00" fill="url(#ga15)"/><rect x="54.0" y="58.0" width="185.0" height="2.00" fill="url(#ga16)"/><rect x="54.0" y="60.0" width="185.0" height="2.00" fill="url(#ga17)"/><rect x="54.0" y="62.0" width="185.0" height="2.00" fill="url(#ga18)"/><rect x="54.0" y="64.0" width="185.0" height="2.00" fill="url(#ga19)"/><rect x="54.0" y="66.0" width="185.0" height="2.00" fill="url(#ga20)"/><rect x="54.0" y="68.0" width="185.0" height="2.00" fill="url(#ga21)"/><rect x="54.0" y="70.0" width="185.0" height="2.00" fill="url(#ga22)"/><rect x="54.0" y="72.0" width="185.0" height="2.00" fill="url(#ga23)"/><rect x="54.0" y="74.0" width="185.0" height="2.00" fill="url(#ga24)"/><rect x="54.0" y="76.0" width="185.0" height="2.00" fill="url(#ga25)"/><rect x="54.0" y="78.0" width="185.0" height="2.00" fill="url(#ga26)"/><rect x="54.0" y="80.0" width="185.0" height="2.00" fill="url(#ga27)"/><rect x="54.0" y="82.0" width="185.0" height="2.00" fill="url(#ga28)"/><rect x="54.0" y="84.0" width="185.0" height="2.00" fill="url(#ga29)"/><rect x="54.0" y="86.0" width="185.0" height="2.00" fill="url(#ga30)"/><rect x="54.0" y="88.0" width="185.0" height="2.00" fill="url(#ga31)"/><rect x="54.0" y="90.0" width="185.0" height="2.00" fill="url(#ga32)"/><rect x="54.0" y="92.0" width="185.0" height="2.00" fill="url(#ga33)"/><rect x="54.0" y="94.0" width="185.0" height="2.00" fill="url(#ga34)"/><rect x="54.0" y="96.0" width="185.0" height="2.00" fill="url(#ga35)"/><rect x="54.0" y="98.0" width="185.0" height="2.00" fill="url(#ga36)"/><rect x="54.0" y="100.0" width="185.0" height="2.00" fill="url(#ga37)"/><rect x="54.0" y="102.0" width="185.0" height="2.00" fill="url(#ga38)"/><rect x="54.0" y="104.0" width="185.0" height="2.00" fill="url(#ga39)"/><rect x="54.0" y="106.0" width="185.0" height="2.00" fill="url(#ga40)"/><rect x="54.0" y="108.0" width="185.0" height="2.00" fill="url(#ga41)"/><rect x="54.0" y="110.0" width="185.0" height="2.00" fill="url(#ga42)"/><rect x="54.0" y="112.0" width="185.0" height="2.00" fill="url(#ga43)"/><rect x="54.0" y="114.0" width="185.0" height="2.00" fill="url(#ga44)"/><rect x="54.0" y="116.0" width="185.0" height="2.00" fill="url(#ga45)"/><rect x="54.0" y="118.0" width="185.0" height="2.00" fill="url(#ga46)"/><rect x="54.0" y="120.0" width="185.0" height="2.00" fill="url(#ga47)"/><rect x="54.0" y="122.0" width="185.0" height="2.00" fill="url(#ga48)"/><rect x="54.0" y="124.0" width="185.0" height="2.00" fill="url(#ga49)"/><rect x="54.0" y="126.0" width="185.0" height="2.00" fill="url(#ga50)"/><rect x="54.0" y="128.0" width="185.0" height="2.00" fill="url(#ga51)"/><rect x="54.0" y="130.0" width="185.0" height="2.00" fill="url(#ga52)"/><rect x="54.0" y="132.0" width="185.0" height="2.00" fill="url(#ga53)"/><rect x="54.0" y="134.0" width="185.0" height="2.00" fill="url(#ga54)"/><rect x="54.0" y="136.0" width="185.0" height="2.00" fill="url(#ga55)"/><rect x="54.0" y="138.0" width="185.0" height="2.00" fill="url(#ga56)"/><rect x="54.0" y="140.0" width="185.0" height="2.00" fill="url(#ga57)"/><rect x="54.0" y="142.0" width="185.0" height="2.00" fill="url(#ga58)"/><rect x="54.0" y="144.0" width="185.0" height="2.00" fill="url(#ga59)"/><rect x="54.0" y="146.0" width="185.0" height="2.00" fill="url(#ga60)"/><rect x="54.0" y="148.0" width="185.0" height="2.00" fill="url(#ga61)"/><rect x="54.0" y="150.0" width="185.0" height="2.00" fill="url(#ga62)"/><rect x="54.0" y="152.0" width="185.0" height="2.00" fill="url(#ga63)"/><rect x="54.0" y="154.0" width="185.0" height="2.00" fill="url(#ga64)"/><rect x="54.0" y="156.0" width="185.0" height="2.00" fill="url(#ga65)"/><rect x="54.0" y="158.0" width="185.0" height="2.00" fill="url(#ga66)"/><rect x="54.0" y="160.0" width="185.0" height="2.00" fill="url(#ga67)"/><rect x="54.0" y="162.0" width="185.0" height="2.00" fill="url(#ga68)"/><rect x="54.0" y="164.0" width="185.0" height="2.00" fill="url(#ga69)"/><rect x="54.0" y="166.0" width="185.0" height="2.00" fill="url(#ga70)"/><rect x="54.0" y="168.0" width="185.0" height="2.00" fill="url(#ga71)"/><rect x="54.0" y="170.0" width="185.0" height="2.00" fill="url(#ga72)"/><rect x="54.0" y="172.0" width="185.0" height="2.00" fill="url(#ga73)"/><rect x="54.0" y="174.0" width="185.0" height="2.00" fill="url(#ga74)"/><rect x="54.0" y="176.0" width="185.0" height="2.00" fill="url(#ga75)"/><rect x="54.0" y="178.0" width="185.0" height="2.00" fill="url(#ga76)"/><rect x="54.0" y="180.0" width="185.0" height="2.00" fill="url(#ga77)"/><rect x="54.0" y="182.0" width="185.0" height="2.00" fill="url(#ga78)"/><rect x="54.0" y="184.0" width="185.0" height="2.00" fill="url(#ga79)"/><rect x="54.0" y="186.0" width="185.0" height="2.00" fill="url(#ga80)"/><rect x="54.0" y="188.0" width="185.0" height="2.00" fill="url(#ga81)"/><rect x="54.0" y="190.0" width="185.0" height="2.00" fill="url(#ga82)"/><rect x="54.0" y="192.0" width="185.0" height="2.00" fill="url(#ga83)"/><rect x="54.0" y="194.0" width="185.0" height="2.00" fill="url(#ga84)"/><rect x="54.0" y="196.0" width="185.0" height="2.00" fill="url(#ga85)"/><rect x="54.0" y="198.0" width="185.0" height="2.00" fill="url(#ga86)"/><rect x="54.0" y="200.0" width="185.0" height="2.00" fill="url(#ga87)"/><rect x="54.0" y="202.0" width="185.0" height="2.00" fill="url(#ga88)"/><rect x="54.0" y="204.0" width="185.0" height="2.00" fill="url(#ga89)"/><rect x="54.0" y="206.0" width="185.0" height="2.00" fill="url(#ga90)"/><rect x="54.0" y="208.0" width="185.0" height="2.00" fill="url(#ga91)"/><rect x="54.0" y="210.0" width="185.0" height="2.00" fill="url(#ga92)"/><rect x="54.0" y="212.0" width="185.0" height="2.00" fill="url(#ga93)"/><rect x="54.0" y="214.0" width="185.0" height="2.00" fill="url(#ga94)"/><rect x="54.0" y="216.0" width="185.0" height="1.00" fill="url(#ga95)"/></g><path d="M166.0 217.3L170.0 216.6L176.0 216.5L182.0 215.6L185.0 216.3L188.0 215.7L192.0 216.3L200.0 216.0L206.0 215.9L211.0 215.7L214.0 215.2L218.0 215.3L222.0 215.6L226.0 215.5L229.0 214.8L232.0 214.2L234.0 213.8L236.0 213.0L237.5 211.8L238.5 209.5L239.2 207.0L239.2 217.5L166.0 217.5Z" fill="#fff"/><rect x="58.5" y="145.5" width="104.0" height="68.0" fill="none" stroke="#111" stroke-width="1" stroke-dasharray="1.4 1.4"/><rect x="86.5" y="107.5" width="90.0" height="67.0" fill="none" stroke="#111" stroke-width="1" stroke-dasharray="1.4 1.4"/><rect x="176.5" y="95.5" width="17.0" height="47.0" fill="none" stroke="#111" stroke-width="1" stroke-dasharray="1.4 1.4"/><rect x="193.5" y="102.5" width="17.0" height="26.0" fill="none" stroke="#111" stroke-width="1" stroke-dasharray="1.4 1.4"/><line x1="193.5" y1="102.5" x2="193.5" y2="128.5" stroke="#111" stroke-width="1"/><path d="M117.9 211.1L120.1 213.3L117.9 215.5L115.7 213.3Z" fill="none" stroke="#222" stroke-width="0.7"/><path d="M153.7 134.0L155.9 136.2L153.7 138.4L151.5 136.2Z" fill="none" stroke="#222" stroke-width="0.7"/><path d="M184.4 113.5L186.6 115.7L184.4 117.9L182.2 115.7Z" fill="none" stroke="#222" stroke-width="0.7"/><path d="M200.4 114.6L202.6 116.8L200.4 119.0L198.2 116.8Z" fill="none" stroke="#222" stroke-width="0.7"/><text x="171.1" y="81.2" font-size="7.3" text-anchor="start" >Beijing</text><text x="171.1" y="89.0" font-size="7.3" text-anchor="start" >Transition</text><text x="121.4" y="134.6" font-size="7.3" text-anchor="start" >Beijing</text><text x="121.4" y="142.4" font-size="7.3" text-anchor="start" >Clean</text><text x="212.0" y="113.9" font-size="7.3" text-anchor="start" >Beijing</text><text x="212.0" y="121.6" font-size="7.3" text-anchor="start" >Polluted</text><text x="90.9" y="183.4" font-size="7.3" text-anchor="start" >Eastern US</text><line x1="53.5" y1="27.0" x2="53.5" y2="218.0" stroke="#8a8a8a" stroke-width="1"/><line x1="53.0" y1="217.5" x2="240.0" y2="217.5" stroke="#a0a0a0" stroke-width="1"/><line x1="239.5" y1="29.5" x2="239.5" y2="218.0" stroke="#222" stroke-width="1"/><line x1="48.0" y1="213.20" x2="53.5" y2="213.20" stroke="#222" stroke-width="1"/><line x1="50.5" y1="199.44" x2="53.5" y2="199.44" stroke="#222" stroke-width="1"/><line x1="50.5" y1="191.40" x2="53.5" y2="191.40" stroke="#222" stroke-width="1"/><line x1="50.5" y1="185.69" x2="53.5" y2="185.69" stroke="#222" stroke-width="1"/><line x1="50.5" y1="181.26" x2="53.5" y2="181.26" stroke="#222" stroke-width="1"/><line x1="50.5" y1="177.64" x2="53.5" y2="177.64" stroke="#222" stroke-width="1"/><line x1="50.5" y1="174.58" x2="53.5" y2="174.58" stroke="#222" stroke-width="1"/><line x1="50.5" y1="171.93" x2="53.5" y2="171.93" stroke="#222" stroke-width="1"/><line x1="50.5" y1="169.59" x2="53.5" y2="169.59" stroke="#222" stroke-width="1"/><line x1="48.0" y1="167.50" x2="53.5" y2="167.50" stroke="#222" stroke-width="1"/><line x1="50.5" y1="153.74" x2="53.5" y2="153.74" stroke="#222" stroke-width="1"/><line x1="50.5" y1="145.70" x2="53.5" y2="145.70" stroke="#222" stroke-width="1"/><line x1="50.5" y1="139.99" x2="53.5" y2="139.99" stroke="#222" stroke-width="1"/><line x1="50.5" y1="135.56" x2="53.5" y2="135.56" stroke="#222" stroke-width="1"/><line x1="50.5" y1="131.94" x2="53.5" y2="131.94" stroke="#222" stroke-width="1"/><line x1="50.5" y1="128.88" x2="53.5" y2="128.88" stroke="#222" stroke-width="1"/><line x1="50.5" y1="126.23" x2="53.5" y2="126.23" stroke="#222" stroke-width="1"/><line x1="50.5" y1="123.89" x2="53.5" y2="123.89" stroke="#222" stroke-width="1"/><line x1="48.0" y1="121.80" x2="53.5" y2="121.80" stroke="#222" stroke-width="1"/><line x1="50.5" y1="108.04" x2="53.5" y2="108.04" stroke="#222" stroke-width="1"/><line x1="50.5" y1="100.00" x2="53.5" y2="100.00" stroke="#222" stroke-width="1"/><line x1="50.5" y1="94.29" x2="53.5" y2="94.29" stroke="#222" stroke-width="1"/><line x1="50.5" y1="89.86" x2="53.5" y2="89.86" stroke="#222" stroke-width="1"/><line x1="50.5" y1="86.24" x2="53.5" y2="86.24" stroke="#222" stroke-width="1"/><line x1="50.5" y1="83.18" x2="53.5" y2="83.18" stroke="#222" stroke-width="1"/><line x1="50.5" y1="80.53" x2="53.5" y2="80.53" stroke="#222" stroke-width="1"/><line x1="50.5" y1="78.19" x2="53.5" y2="78.19" stroke="#222" stroke-width="1"/><line x1="48.0" y1="76.10" x2="53.5" y2="76.10" stroke="#222" stroke-width="1"/><line x1="50.5" y1="62.34" x2="53.5" y2="62.34" stroke="#222" stroke-width="1"/><line x1="50.5" y1="54.30" x2="53.5" y2="54.30" stroke="#222" stroke-width="1"/><line x1="50.5" y1="48.59" x2="53.5" y2="48.59" stroke="#222" stroke-width="1"/><line x1="50.5" y1="44.16" x2="53.5" y2="44.16" stroke="#222" stroke-width="1"/><line x1="50.5" y1="40.54" x2="53.5" y2="40.54" stroke="#222" stroke-width="1"/><line x1="50.5" y1="37.48" x2="53.5" y2="37.48" stroke="#222" stroke-width="1"/><line x1="50.5" y1="34.83" x2="53.5" y2="34.83" stroke="#222" stroke-width="1"/><line x1="50.5" y1="32.49" x2="53.5" y2="32.49" stroke="#222" stroke-width="1"/><line x1="48.0" y1="30.40" x2="53.5" y2="30.40" stroke="#222" stroke-width="1"/><line x1="239.5" y1="204.94" x2="242.5" y2="204.94" stroke="#222" stroke-width="1"/><line x1="239.5" y1="196.90" x2="242.5" y2="196.90" stroke="#222" stroke-width="1"/><line x1="239.5" y1="191.19" x2="242.5" y2="191.19" stroke="#222" stroke-width="1"/><line x1="239.5" y1="186.76" x2="242.5" y2="186.76" stroke="#222" stroke-width="1"/><line x1="239.5" y1="183.14" x2="242.5" y2="183.14" stroke="#222" stroke-width="1"/><line x1="239.5" y1="180.08" x2="242.5" y2="180.08" stroke="#222" stroke-width="1"/><line x1="239.5" y1="177.43" x2="242.5" y2="177.43" stroke="#222" stroke-width="1"/><line x1="239.5" y1="175.09" x2="242.5" y2="175.09" stroke="#222" stroke-width="1"/><line x1="239.5" y1="173.00" x2="245.0" y2="173.00" stroke="#222" stroke-width="1"/><line x1="239.5" y1="159.24" x2="242.5" y2="159.24" stroke="#222" stroke-width="1"/><line x1="239.5" y1="151.20" x2="242.5" y2="151.20" stroke="#222" stroke-width="1"/><line x1="239.5" y1="145.49" x2="242.5" y2="145.49" stroke="#222" stroke-width="1"/><line x1="239.5" y1="141.06" x2="242.5" y2="141.06" stroke="#222" stroke-width="1"/><line x1="239.5" y1="137.44" x2="242.5" y2="137.44" stroke="#222" stroke-width="1"/><line x1="239.5" y1="134.38" x2="242.5" y2="134.38" stroke="#222" stroke-width="1"/><line x1="239.5" y1="131.73" x2="242.5" y2="131.73" stroke="#222" stroke-width="1"/><line x1="239.5" y1="129.39" x2="242.5" y2="129.39" stroke="#222" stroke-width="1"/><line x1="239.5" y1="127.30" x2="245.0" y2="127.30" stroke="#222" stroke-width="1"/><line x1="239.5" y1="113.54" x2="242.5" y2="113.54" stroke="#222" stroke-width="1"/><line x1="239.5" y1="105.50" x2="242.5" y2="105.50" stroke="#222" stroke-width="1"/><line x1="239.5" y1="99.79" x2="242.5" y2="99.79" stroke="#222" stroke-width="1"/><line x1="239.5" y1="95.36" x2="242.5" y2="95.36" stroke="#222" stroke-width="1"/><line x1="239.5" y1="91.74" x2="242.5" y2="91.74" stroke="#222" stroke-width="1"/><line x1="239.5" y1="88.68" x2="242.5" y2="88.68" stroke="#222" stroke-width="1"/><line x1="239.5" y1="86.03" x2="242.5" y2="86.03" stroke="#222" stroke-width="1"/><line x1="239.5" y1="83.69" x2="242.5" y2="83.69" stroke="#222" stroke-width="1"/><line x1="239.5" y1="81.60" x2="245.0" y2="81.60" stroke="#222" stroke-width="1"/><line x1="239.5" y1="67.84" x2="242.5" y2="67.84" stroke="#222" stroke-width="1"/><line x1="239.5" y1="59.80" x2="242.5" y2="59.80" stroke="#222" stroke-width="1"/><line x1="239.5" y1="54.09" x2="242.5" y2="54.09" stroke="#222" stroke-width="1"/><line x1="239.5" y1="49.66" x2="242.5" y2="49.66" stroke="#222" stroke-width="1"/><line x1="239.5" y1="46.04" x2="242.5" y2="46.04" stroke="#222" stroke-width="1"/><line x1="239.5" y1="42.98" x2="242.5" y2="42.98" stroke="#222" stroke-width="1"/><line x1="239.5" y1="40.33" x2="242.5" y2="40.33" stroke="#222" stroke-width="1"/><line x1="239.5" y1="37.99" x2="242.5" y2="37.99" stroke="#222" stroke-width="1"/><line x1="239.5" y1="35.90" x2="245.0" y2="35.90" stroke="#222" stroke-width="1"/><line x1="58.40" y1="217.5" x2="58.40" y2="223.0" stroke="#222" stroke-width="1"/><line x1="76.10" y1="217.5" x2="76.10" y2="221.0" stroke="#222" stroke-width="1"/><line x1="86.45" y1="217.5" x2="86.45" y2="221.0" stroke="#222" stroke-width="1"/><line x1="93.80" y1="217.5" x2="93.80" y2="221.0" stroke="#222" stroke-width="1"/><line x1="99.50" y1="217.5" x2="99.50" y2="221.0" stroke="#222" stroke-width="1"/><line x1="104.16" y1="217.5" x2="104.16" y2="221.0" stroke="#222" stroke-width="1"/><line x1="108.09" y1="217.5" x2="108.09" y2="221.0" stroke="#222" stroke-width="1"/><line x1="111.50" y1="217.5" x2="111.50" y2="221.0" stroke="#222" stroke-width="1"/><line x1="114.51" y1="217.5" x2="114.51" y2="221.0" stroke="#222" stroke-width="1"/><line x1="117.20" y1="217.5" x2="117.20" y2="223.0" stroke="#222" stroke-width="1"/><line x1="134.90" y1="217.5" x2="134.90" y2="221.0" stroke="#222" stroke-width="1"/><line x1="145.25" y1="217.5" x2="145.25" y2="221.0" stroke="#222" stroke-width="1"/><line x1="152.60" y1="217.5" x2="152.60" y2="221.0" stroke="#222" stroke-width="1"/><line x1="158.30" y1="217.5" x2="158.30" y2="221.0" stroke="#222" stroke-width="1"/><line x1="162.96" y1="217.5" x2="162.96" y2="221.0" stroke="#222" stroke-width="1"/><line x1="166.89" y1="217.5" x2="166.89" y2="221.0" stroke="#222" stroke-width="1"/><line x1="170.30" y1="217.5" x2="170.30" y2="221.0" stroke="#222" stroke-width="1"/><line x1="173.31" y1="217.5" x2="173.31" y2="221.0" stroke="#222" stroke-width="1"/><line x1="176.00" y1="217.5" x2="176.00" y2="223.0" stroke="#222" stroke-width="1"/><line x1="193.70" y1="217.5" x2="193.70" y2="221.0" stroke="#222" stroke-width="1"/><line x1="204.05" y1="217.5" x2="204.05" y2="221.0" stroke="#222" stroke-width="1"/><line x1="211.40" y1="217.5" x2="211.40" y2="221.0" stroke="#222" stroke-width="1"/><line x1="217.10" y1="217.5" x2="217.10" y2="221.0" stroke="#222" stroke-width="1"/><line x1="221.76" y1="217.5" x2="221.76" y2="221.0" stroke="#222" stroke-width="1"/><line x1="225.69" y1="217.5" x2="225.69" y2="221.0" stroke="#222" stroke-width="1"/><line x1="229.10" y1="217.5" x2="229.10" y2="221.0" stroke="#222" stroke-width="1"/><line x1="232.11" y1="217.5" x2="232.11" y2="221.0" stroke="#222" stroke-width="1"/><line x1="234.80" y1="217.5" x2="234.80" y2="223.0" stroke="#222" stroke-width="1"/><text x="43.6" y="33.8" font-size="10.2" text-anchor="end" >1000</text><text x="43.6" y="79.5" font-size="10.2" text-anchor="end" >100</text><text x="43.6" y="125.2" font-size="10.2" text-anchor="end" >10</text><text x="43.6" y="170.9" font-size="10.2" text-anchor="end" >1</text><text x="43.6" y="216.6" font-size="10.2" text-anchor="end" >0.1</text><text x="250.0" y="39.9" font-size="10.2" text-anchor="start" >1000</text><text x="250.0" y="85.6" font-size="10.2" text-anchor="start" >100</text><text x="250.0" y="131.3" font-size="10.2" text-anchor="start" >10</text><text x="250.0" y="177.0" font-size="10.2" text-anchor="start" >1</text><text x="58.4" y="237.7" font-size="10.2" text-anchor="middle" >0.1</text><text x="117.2" y="237.7" font-size="10.2" text-anchor="middle" >1</text><text x="176.0" y="237.7" font-size="10.2" text-anchor="middle" >10</text><text x="234.8" y="237.7" font-size="10.2" text-anchor="middle" >100</text><text x="76.1" y="227.9" font-size="7.0" text-anchor="middle" >2</text><text x="93.8" y="227.9" font-size="7.0" text-anchor="middle" >4</text><text x="104.2" y="227.9" font-size="7.0" text-anchor="middle" >6</text><text x="134.9" y="227.9" font-size="7.0" text-anchor="middle" >2</text><text x="152.6" y="227.9" font-size="7.0" text-anchor="middle" >4</text><text x="163.0" y="227.9" font-size="7.0" text-anchor="middle" >6</text><text x="193.7" y="227.9" font-size="7.0" text-anchor="middle" >2</text><text x="211.4" y="227.9" font-size="7.0" text-anchor="middle" >4</text><text x="221.8" y="227.9" font-size="7.0" text-anchor="middle" >6</text><text x="116.6" y="252.8" font-size="10.2">SO<tspan font-size="7" dy="2.2">4</tspan><tspan font-size="7" dy="-9">2-</tspan><tspan dy="6.8">, µg m</tspan><tspan font-size="7" dy="-6.8">-3</tspan></text><text transform="translate(18.2,147.6) rotate(-90)" x="0" y="0" font-size="10.2">NH<tspan font-size="7" dy="2.2">3</tspan><tspan dy="-2.2">, µg m</tspan><tspan font-size="7" dy="-6.8">-3</tspan></text><text transform="translate(269.0,98.8) rotate(90)" x="0" y="0" font-size="10.2">NH<tspan font-size="7" dy="2.2">3</tspan><tspan dy="-2.2">, ppbv</tspan></text><text x="52.4" y="19.3" font-size="10.2">Low total NO<tspan font-size="6.5" dy="1.5">3</tspan><tspan font-size="6.5" dy="-6">-</tspan><tspan dy="4.5"> (2.2 µg m</tspan><tspan font-size="6.5" dy="-3.5">-3</tspan><tspan dy="3.5">)</tspan></text><text x="188.3" y="19.3" font-size="10.2">Eastern US</text><path d="M175.7 16.4H183" stroke="#111" stroke-width="1"/><path d="M181.8 14.3L185.4 16.4L181.8 18.5L182.6 16.4Z" fill="#111"/><rect x="282.2" y="59.8" width="10.3" height="126.5" fill="url(#cb0)" stroke="#222" stroke-width="1"/><line x1="292.5" y1="186.3" x2="299.3" y2="186.3" stroke="#222" stroke-width="1"/><text x="302.8" y="189.8" font-size="10.2" text-anchor="start" >1</text><line x1="292.5" y1="165.3" x2="299.3" y2="165.3" stroke="#222" stroke-width="1"/><text x="302.8" y="168.8" font-size="10.2" text-anchor="start" >2</text><line x1="292.5" y1="144.3" x2="299.3" y2="144.3" stroke="#222" stroke-width="1"/><text x="302.8" y="147.8" font-size="10.2" text-anchor="start" >3</text><line x1="292.5" y1="123.3" x2="299.3" y2="123.3" stroke="#222" stroke-width="1"/><text x="302.8" y="126.8" font-size="10.2" text-anchor="start" >4</text><line x1="292.5" y1="102.3" x2="299.3" y2="102.3" stroke="#222" stroke-width="1"/><text x="302.8" y="105.8" font-size="10.2" text-anchor="start" >5</text><line x1="292.5" y1="81.3" x2="299.3" y2="81.3" stroke="#222" stroke-width="1"/><text x="302.8" y="84.8" font-size="10.2" text-anchor="start" >6</text><line x1="292.5" y1="60.3" x2="299.3" y2="60.3" stroke="#222" stroke-width="1"/><text x="302.8" y="63.8" font-size="10.2" text-anchor="start" >7</text><text transform="translate(312.6,117.0) rotate(90)" font-size="10.2">pH</text><text x="-0.4" y="10.2" font-size="12.5" text-anchor="start" >(a)</text><g clip-path="url(#clipgb)"><rect x="391.0" y="26.0" width="185.0" height="2.00" fill="url(#gb0)"/><rect x="391.0" y="28.0" width="185.0" height="2.00" fill="url(#gb1)"/><rect x="391.0" y="30.0" width="185.0" height="2.00" fill="url(#gb2)"/><rect x="391.0" y="32.0" width="185.0" height="2.00" fill="url(#gb3)"/><rect x="391.0" y="34.0" width="185.0" height="2.00" fill="url(#gb4)"/><rect x="391.0" y="36.0" width="185.0" height="2.00" fill="url(#gb5)"/><rect x="391.0" y="38.0" width="185.0" height="2.00" fill="url(#gb6)"/><rect x="391.0" y="40.0" width="185.0" height="2.00" fill="url(#gb7)"/><rect x="391.0" y="42.0" width="185.0" height="2.00" fill="url(#gb8)"/><rect x="391.0" y="44.0" width="185.0" height="2.00" fill="url(#gb9)"/><rect x="391.0" y="46.0" width="185.0" height="2.00" fill="url(#gb10)"/><rect x="391.0" y="48.0" width="185.0" height="2.00" fill="url(#gb11)"/><rect x="391.0" y="50.0" width="185.0" height="2.00" fill="url(#gb12)"/><rect x="391.0" y="52.0" width="185.0" height="2.00" fill="url(#gb13)"/><rect x="391.0" y="54.0" width="185.0" height="2.00" fill="url(#gb14)"/><rect x="391.0" y="56.0" width="185.0" height="2.00" fill="url(#gb15)"/><rect x="391.0" y="58.0" width="185.0" height="2.00" fill="url(#gb16)"/><rect x="391.0" y="60.0" width="185.0" height="2.00" fill="url(#gb17)"/><rect x="391.0" y="62.0" width="185.0" height="2.00" fill="url(#gb18)"/><rect x="391.0" y="64.0" width="185.0" height="2.00" fill="url(#gb19)"/><rect x="391.0" y="66.0" width="185.0" height="2.00" fill="url(#gb20)"/><rect x="391.0" y="68.0" width="185.0" height="2.00" fill="url(#gb21)"/><rect x="391.0" y="70.0" width="185.0" height="2.00" fill="url(#gb22)"/><rect x="391.0" y="72.0" width="185.0" height="2.00" fill="url(#gb23)"/><rect x="391.0" y="74.0" width="185.0" height="2.00" fill="url(#gb24)"/><rect x="391.0" y="76.0" width="185.0" height="2.00" fill="url(#gb25)"/><rect x="391.0" y="78.0" width="185.0" height="2.00" fill="url(#gb26)"/><rect x="391.0" y="80.0" width="185.0" height="2.00" fill="url(#gb27)"/><rect x="391.0" y="82.0" width="185.0" height="2.00" fill="url(#gb28)"/><rect x="391.0" y="84.0" width="185.0" height="2.00" fill="url(#gb29)"/><rect x="391.0" y="86.0" width="185.0" height="2.00" fill="url(#gb30)"/><rect x="391.0" y="88.0" width="185.0" height="2.00" fill="url(#gb31)"/><rect x="391.0" y="90.0" width="185.0" height="2.00" fill="url(#gb32)"/><rect x="391.0" y="92.0" width="185.0" height="2.00" fill="url(#gb33)"/><rect x="391.0" y="94.0" width="185.0" height="2.00" fill="url(#gb34)"/><rect x="391.0" y="96.0" width="185.0" height="2.00" fill="url(#gb35)"/><rect x="391.0" y="98.0" width="185.0" height="2.00" fill="url(#gb36)"/><rect x="391.0" y="100.0" width="185.0" height="2.00" fill="url(#gb37)"/><rect x="391.0" y="102.0" width="185.0" height="2.00" fill="url(#gb38)"/><rect x="391.0" y="104.0" width="185.0" height="2.00" fill="url(#gb39)"/><rect x="391.0" y="106.0" width="185.0" height="2.00" fill="url(#gb40)"/><rect x="391.0" y="108.0" width="185.0" height="2.00" fill="url(#gb41)"/><rect x="391.0" y="110.0" width="185.0" height="2.00" fill="url(#gb42)"/><rect x="391.0" y="112.0" width="185.0" height="2.00" fill="url(#gb43)"/><rect x="391.0" y="114.0" width="185.0" height="2.00" fill="url(#gb44)"/><rect x="391.0" y="116.0" width="185.0" height="2.00" fill="url(#gb45)"/><rect x="391.0" y="118.0" width="185.0" height="2.00" fill="url(#gb46)"/><rect x="391.0" y="120.0" width="185.0" height="2.00" fill="url(#gb47)"/><rect x="391.0" y="122.0" width="185.0" height="2.00" fill="url(#gb48)"/><rect x="391.0" y="124.0" width="185.0" height="2.00" fill="url(#gb49)"/><rect x="391.0" y="126.0" width="185.0" height="2.00" fill="url(#gb50)"/><rect x="391.0" y="128.0" width="185.0" height="2.00" fill="url(#gb51)"/><rect x="391.0" y="130.0" width="185.0" height="2.00" fill="url(#gb52)"/><rect x="391.0" y="132.0" width="185.0" height="2.00" fill="url(#gb53)"/><rect x="391.0" y="134.0" width="185.0" height="2.00" fill="url(#gb54)"/><rect x="391.0" y="136.0" width="185.0" height="2.00" fill="url(#gb55)"/><rect x="391.0" y="138.0" width="185.0" height="2.00" fill="url(#gb56)"/><rect x="391.0" y="140.0" width="185.0" height="2.00" fill="url(#gb57)"/><rect x="391.0" y="142.0" width="185.0" height="2.00" fill="url(#gb58)"/><rect x="391.0" y="144.0" width="185.0" height="2.00" fill="url(#gb59)"/><rect x="391.0" y="146.0" width="185.0" height="2.00" fill="url(#gb60)"/><rect x="391.0" y="148.0" width="185.0" height="2.00" fill="url(#gb61)"/><rect x="391.0" y="150.0" width="185.0" height="2.00" fill="url(#gb62)"/><rect x="391.0" y="152.0" width="185.0" height="2.00" fill="url(#gb63)"/><rect x="391.0" y="154.0" width="185.0" height="2.00" fill="url(#gb64)"/><rect x="391.0" y="156.0" width="185.0" height="2.00" fill="url(#gb65)"/><rect x="391.0" y="158.0" width="185.0" height="2.00" fill="url(#gb66)"/><rect x="391.0" y="160.0" width="185.0" height="2.00" fill="url(#gb67)"/><rect x="391.0" y="162.0" width="185.0" height="2.00" fill="url(#gb68)"/><rect x="391.0" y="164.0" width="185.0" height="2.00" fill="url(#gb69)"/><rect x="391.0" y="166.0" width="185.0" height="2.00" fill="url(#gb70)"/><rect x="391.0" y="168.0" width="185.0" height="2.00" fill="url(#gb71)"/><rect x="391.0" y="170.0" width="185.0" height="2.00" fill="url(#gb72)"/><rect x="391.0" y="172.0" width="185.0" height="2.00" fill="url(#gb73)"/><rect x="391.0" y="174.0" width="185.0" height="2.00" fill="url(#gb74)"/><rect x="391.0" y="176.0" width="185.0" height="2.00" fill="url(#gb75)"/><rect x="391.0" y="178.0" width="185.0" height="2.00" fill="url(#gb76)"/><rect x="391.0" y="180.0" width="185.0" height="2.00" fill="url(#gb77)"/><rect x="391.0" y="182.0" width="185.0" height="2.00" fill="url(#gb78)"/><rect x="391.0" y="184.0" width="185.0" height="2.00" fill="url(#gb79)"/><rect x="391.0" y="186.0" width="185.0" height="2.00" fill="url(#gb80)"/><rect x="391.0" y="188.0" width="185.0" height="2.00" fill="url(#gb81)"/><rect x="391.0" y="190.0" width="185.0" height="2.00" fill="url(#gb82)"/><rect x="391.0" y="192.0" width="185.0" height="2.00" fill="url(#gb83)"/><rect x="391.0" y="194.0" width="185.0" height="2.00" fill="url(#gb84)"/><rect x="391.0" y="196.0" width="185.0" height="2.00" fill="url(#gb85)"/><rect x="391.0" y="198.0" width="185.0" height="2.00" fill="url(#gb86)"/><rect x="391.0" y="200.0" width="185.0" height="2.00" fill="url(#gb87)"/><rect x="391.0" y="202.0" width="185.0" height="2.00" fill="url(#gb88)"/><rect x="391.0" y="204.0" width="185.0" height="2.00" fill="url(#gb89)"/><rect x="391.0" y="206.0" width="185.0" height="2.00" fill="url(#gb90)"/><rect x="391.0" y="208.0" width="185.0" height="2.00" fill="url(#gb91)"/><rect x="391.0" y="210.0" width="185.0" height="2.00" fill="url(#gb92)"/><rect x="391.0" y="212.0" width="185.0" height="2.00" fill="url(#gb93)"/><rect x="391.0" y="214.0" width="185.0" height="2.00" fill="url(#gb94)"/><rect x="391.0" y="216.0" width="185.0" height="1.00" fill="url(#gb95)"/></g><path d="M525.0 217.3L527.0 216.4L529.0 216.3L533.0 216.5L538.0 216.3L540.0 215.6L542.0 215.2L544.0 216.2L549.0 216.3L553.0 216.0L559.0 216.2L566.0 216.2L568.0 215.3L569.3 214.7L571.0 215.8L573.0 216.0L575.0 215.2L576.2 214.6L576.2 217.5L513.0 217.5Z" fill="#fff"/><rect x="395.5" y="145.5" width="104.0" height="68.0" fill="none" stroke="#111" stroke-width="1" stroke-dasharray="1.4 1.4"/><rect x="423.5" y="107.5" width="90.0" height="67.0" fill="none" stroke="#111" stroke-width="1" stroke-dasharray="1.4 1.4"/><rect x="513.5" y="95.5" width="17.0" height="47.0" fill="none" stroke="#111" stroke-width="1" stroke-dasharray="1.4 1.4"/><rect x="530.5" y="102.5" width="17.0" height="26.0" fill="none" stroke="#111" stroke-width="1" stroke-dasharray="1.4 1.4"/><line x1="530.5" y1="102.5" x2="530.5" y2="128.5" stroke="#111" stroke-width="1"/><path d="M454.9 211.1L457.1 213.3L454.9 215.5L452.7 213.3Z" fill="none" stroke="#222" stroke-width="0.7"/><path d="M490.7 134.0L492.9 136.2L490.7 138.4L488.5 136.2Z" fill="none" stroke="#222" stroke-width="0.7"/><path d="M521.4 113.5L523.6 115.7L521.4 117.9L519.2 115.7Z" fill="none" stroke="#222" stroke-width="0.7"/><path d="M537.4 114.6L539.6 116.8L537.4 119.0L535.2 116.8Z" fill="none" stroke="#222" stroke-width="0.7"/><text x="508.1" y="81.2" font-size="7.3" text-anchor="start" >Beijing</text><text x="508.1" y="89.0" font-size="7.3" text-anchor="start" >Transition</text><text x="458.4" y="134.6" font-size="7.3" text-anchor="start" >Beijing</text><text x="458.4" y="142.4" font-size="7.3" text-anchor="start" >Clean</text><text x="549.0" y="113.9" font-size="7.3" text-anchor="start" >Beijing</text><text x="549.0" y="121.6" font-size="7.3" text-anchor="start" >Polluted</text><text x="427.9" y="183.4" font-size="7.3" text-anchor="start" >Eastern US</text><line x1="390.5" y1="27.0" x2="390.5" y2="218.0" stroke="#8a8a8a" stroke-width="1"/><line x1="390.0" y1="217.5" x2="577.0" y2="217.5" stroke="#a0a0a0" stroke-width="1"/><line x1="576.5" y1="29.5" x2="576.5" y2="218.0" stroke="#222" stroke-width="1"/><line x1="385.0" y1="213.20" x2="390.5" y2="213.20" stroke="#222" stroke-width="1"/><line x1="387.5" y1="199.44" x2="390.5" y2="199.44" stroke="#222" stroke-width="1"/><line x1="387.5" y1="191.40" x2="390.5" y2="191.40" stroke="#222" stroke-width="1"/><line x1="387.5" y1="185.69" x2="390.5" y2="185.69" stroke="#222" stroke-width="1"/><line x1="387.5" y1="181.26" x2="390.5" y2="181.26" stroke="#222" stroke-width="1"/><line x1="387.5" y1="177.64" x2="390.5" y2="177.64" stroke="#222" stroke-width="1"/><line x1="387.5" y1="174.58" x2="390.5" y2="174.58" stroke="#222" stroke-width="1"/><line x1="387.5" y1="171.93" x2="390.5" y2="171.93" stroke="#222" stroke-width="1"/><line x1="387.5" y1="169.59" x2="390.5" y2="169.59" stroke="#222" stroke-width="1"/><line x1="385.0" y1="167.50" x2="390.5" y2="167.50" stroke="#222" stroke-width="1"/><line x1="387.5" y1="153.74" x2="390.5" y2="153.74" stroke="#222" stroke-width="1"/><line x1="387.5" y1="145.70" x2="390.5" y2="145.70" stroke="#222" stroke-width="1"/><line x1="387.5" y1="139.99" x2="390.5" y2="139.99" stroke="#222" stroke-width="1"/><line x1="387.5" y1="135.56" x2="390.5" y2="135.56" stroke="#222" stroke-width="1"/><line x1="387.5" y1="131.94" x2="390.5" y2="131.94" stroke="#222" stroke-width="1"/><line x1="387.5" y1="128.88" x2="390.5" y2="128.88" stroke="#222" stroke-width="1"/><line x1="387.5" y1="126.23" x2="390.5" y2="126.23" stroke="#222" stroke-width="1"/><line x1="387.5" y1="123.89" x2="390.5" y2="123.89" stroke="#222" stroke-width="1"/><line x1="385.0" y1="121.80" x2="390.5" y2="121.80" stroke="#222" stroke-width="1"/><line x1="387.5" y1="108.04" x2="390.5" y2="108.04" stroke="#222" stroke-width="1"/><line x1="387.5" y1="100.00" x2="390.5" y2="100.00" stroke="#222" stroke-width="1"/><line x1="387.5" y1="94.29" x2="390.5" y2="94.29" stroke="#222" stroke-width="1"/><line x1="387.5" y1="89.86" x2="390.5" y2="89.86" stroke="#222" stroke-width="1"/><line x1="387.5" y1="86.24" x2="390.5" y2="86.24" stroke="#222" stroke-width="1"/><line x1="387.5" y1="83.18" x2="390.5" y2="83.18" stroke="#222" stroke-width="1"/><line x1="387.5" y1="80.53" x2="390.5" y2="80.53" stroke="#222" stroke-width="1"/><line x1="387.5" y1="78.19" x2="390.5" y2="78.19" stroke="#222" stroke-width="1"/><line x1="385.0" y1="76.10" x2="390.5" y2="76.10" stroke="#222" stroke-width="1"/><line x1="387.5" y1="62.34" x2="390.5" y2="62.34" stroke="#222" stroke-width="1"/><line x1="387.5" y1="54.30" x2="390.5" y2="54.30" stroke="#222" stroke-width="1"/><line x1="387.5" y1="48.59" x2="390.5" y2="48.59" stroke="#222" stroke-width="1"/><line x1="387.5" y1="44.16" x2="390.5" y2="44.16" stroke="#222" stroke-width="1"/><line x1="387.5" y1="40.54" x2="390.5" y2="40.54" stroke="#222" stroke-width="1"/><line x1="387.5" y1="37.48" x2="390.5" y2="37.48" stroke="#222" stroke-width="1"/><line x1="387.5" y1="34.83" x2="390.5" y2="34.83" stroke="#222" stroke-width="1"/><line x1="387.5" y1="32.49" x2="390.5" y2="32.49" stroke="#222" stroke-width="1"/><line x1="385.0" y1="30.40" x2="390.5" y2="30.40" stroke="#222" stroke-width="1"/><line x1="576.5" y1="204.94" x2="579.5" y2="204.94" stroke="#222" stroke-width="1"/><line x1="576.5" y1="196.90" x2="579.5" y2="196.90" stroke="#222" stroke-width="1"/><line x1="576.5" y1="191.19" x2="579.5" y2="191.19" stroke="#222" stroke-width="1"/><line x1="576.5" y1="186.76" x2="579.5" y2="186.76" stroke="#222" stroke-width="1"/><line x1="576.5" y1="183.14" x2="579.5" y2="183.14" stroke="#222" stroke-width="1"/><line x1="576.5" y1="180.08" x2="579.5" y2="180.08" stroke="#222" stroke-width="1"/><line x1="576.5" y1="177.43" x2="579.5" y2="177.43" stroke="#222" stroke-width="1"/><line x1="576.5" y1="175.09" x2="579.5" y2="175.09" stroke="#222" stroke-width="1"/><line x1="576.5" y1="173.00" x2="582.0" y2="173.00" stroke="#222" stroke-width="1"/><line x1="576.5" y1="159.24" x2="579.5" y2="159.24" stroke="#222" stroke-width="1"/><line x1="576.5" y1="151.20" x2="579.5" y2="151.20" stroke="#222" stroke-width="1"/><line x1="576.5" y1="145.49" x2="579.5" y2="145.49" stroke="#222" stroke-width="1"/><line x1="576.5" y1="141.06" x2="579.5" y2="141.06" stroke="#222" stroke-width="1"/><line x1="576.5" y1="137.44" x2="579.5" y2="137.44" stroke="#222" stroke-width="1"/><line x1="576.5" y1="134.38" x2="579.5" y2="134.38" stroke="#222" stroke-width="1"/><line x1="576.5" y1="131.73" x2="579.5" y2="131.73" stroke="#222" stroke-width="1"/><line x1="576.5" y1="129.39" x2="579.5" y2="129.39" stroke="#222" stroke-width="1"/><line x1="576.5" y1="127.30" x2="582.0" y2="127.30" stroke="#222" stroke-width="1"/><line x1="576.5" y1="113.54" x2="579.5" y2="113.54" stroke="#222" stroke-width="1"/><line x1="576.5" y1="105.50" x2="579.5" y2="105.50" stroke="#222" stroke-width="1"/><line x1="576.5" y1="99.79" x2="579.5" y2="99.79" stroke="#222" stroke-width="1"/><line x1="576.5" y1="95.36" x2="579.5" y2="95.36" stroke="#222" stroke-width="1"/><line x1="576.5" y1="91.74" x2="579.5" y2="91.74" stroke="#222" stroke-width="1"/><line x1="576.5" y1="88.68" x2="579.5" y2="88.68" stroke="#222" stroke-width="1"/><line x1="576.5" y1="86.03" x2="579.5" y2="86.03" stroke="#222" stroke-width="1"/><line x1="576.5" y1="83.69" x2="579.5" y2="83.69" stroke="#222" stroke-width="1"/><line x1="576.5" y1="81.60" x2="582.0" y2="81.60" stroke="#222" stroke-width="1"/><line x1="576.5" y1="67.84" x2="579.5" y2="67.84" stroke="#222" stroke-width="1"/><line x1="576.5" y1="59.80" x2="579.5" y2="59.80" stroke="#222" stroke-width="1"/><line x1="576.5" y1="54.09" x2="579.5" y2="54.09" stroke="#222" stroke-width="1"/><line x1="576.5" y1="49.66" x2="579.5" y2="49.66" stroke="#222" stroke-width="1"/><line x1="576.5" y1="46.04" x2="579.5" y2="46.04" stroke="#222" stroke-width="1"/><line x1="576.5" y1="42.98" x2="579.5" y2="42.98" stroke="#222" stroke-width="1"/><line x1="576.5" y1="40.33" x2="579.5" y2="40.33" stroke="#222" stroke-width="1"/><line x1="576.5" y1="37.99" x2="579.5" y2="37.99" stroke="#222" stroke-width="1"/><line x1="576.5" y1="35.90" x2="582.0" y2="35.90" stroke="#222" stroke-width="1"/><line x1="395.40" y1="217.5" x2="395.40" y2="223.0" stroke="#222" stroke-width="1"/><line x1="413.10" y1="217.5" x2="413.10" y2="221.0" stroke="#222" stroke-width="1"/><line x1="423.45" y1="217.5" x2="423.45" y2="221.0" stroke="#222" stroke-width="1"/><line x1="430.80" y1="217.5" x2="430.80" y2="221.0" stroke="#222" stroke-width="1"/><line x1="436.50" y1="217.5" x2="436.50" y2="221.0" stroke="#222" stroke-width="1"/><line x1="441.16" y1="217.5" x2="441.16" y2="221.0" stroke="#222" stroke-width="1"/><line x1="445.09" y1="217.5" x2="445.09" y2="221.0" stroke="#222" stroke-width="1"/><line x1="448.50" y1="217.5" x2="448.50" y2="221.0" stroke="#222" stroke-width="1"/><line x1="451.51" y1="217.5" x2="451.51" y2="221.0" stroke="#222" stroke-width="1"/><line x1="454.20" y1="217.5" x2="454.20" y2="223.0" stroke="#222" stroke-width="1"/><line x1="471.90" y1="217.5" x2="471.90" y2="221.0" stroke="#222" stroke-width="1"/><line x1="482.25" y1="217.5" x2="482.25" y2="221.0" stroke="#222" stroke-width="1"/><line x1="489.60" y1="217.5" x2="489.60" y2="221.0" stroke="#222" stroke-width="1"/><line x1="495.30" y1="217.5" x2="495.30" y2="221.0" stroke="#222" stroke-width="1"/><line x1="499.96" y1="217.5" x2="499.96" y2="221.0" stroke="#222" stroke-width="1"/><line x1="503.89" y1="217.5" x2="503.89" y2="221.0" stroke="#222" stroke-width="1"/><line x1="507.30" y1="217.5" x2="507.30" y2="221.0" stroke="#222" stroke-width="1"/><line x1="510.31" y1="217.5" x2="510.31" y2="221.0" stroke="#222" stroke-width="1"/><line x1="513.00" y1="217.5" x2="513.00" y2="223.0" stroke="#222" stroke-width="1"/><line x1="530.70" y1="217.5" x2="530.70" y2="221.0" stroke="#222" stroke-width="1"/><line x1="541.05" y1="217.5" x2="541.05" y2="221.0" stroke="#222" stroke-width="1"/><line x1="548.40" y1="217.5" x2="548.40" y2="221.0" stroke="#222" stroke-width="1"/><line x1="554.10" y1="217.5" x2="554.10" y2="221.0" stroke="#222" stroke-width="1"/><line x1="558.76" y1="217.5" x2="558.76" y2="221.0" stroke="#222" stroke-width="1"/><line x1="562.69" y1="217.5" x2="562.69" y2="221.0" stroke="#222" stroke-width="1"/><line x1="566.10" y1="217.5" x2="566.10" y2="221.0" stroke="#222" stroke-width="1"/><line x1="569.11" y1="217.5" x2="569.11" y2="221.0" stroke="#222" stroke-width="1"/><line x1="571.80" y1="217.5" x2="571.80" y2="223.0" stroke="#222" stroke-width="1"/><text x="380.6" y="33.8" font-size="10.2" text-anchor="end" >1000</text><text x="380.6" y="79.5" font-size="10.2" text-anchor="end" >100</text><text x="380.6" y="125.2" font-size="10.2" text-anchor="end" >10</text><text x="380.6" y="170.9" font-size="10.2" text-anchor="end" >1</text><text x="380.6" y="216.6" font-size="10.2" text-anchor="end" >0.1</text><text x="587.0" y="39.9" font-size="10.2" text-anchor="start" >1000</text><text x="587.0" y="85.6" font-size="10.2" text-anchor="start" >100</text><text x="587.0" y="131.3" font-size="10.2" text-anchor="start" >10</text><text x="587.0" y="177.0" font-size="10.2" text-anchor="start" >1</text><text x="395.4" y="237.7" font-size="10.2" text-anchor="middle" >0.1</text><text x="454.2" y="237.7" font-size="10.2" text-anchor="middle" >1</text><text x="513.0" y="237.7" font-size="10.2" text-anchor="middle" >10</text><text x="571.8" y="237.7" font-size="10.2" text-anchor="middle" >100</text><text x="413.1" y="227.9" font-size="7.0" text-anchor="middle" >2</text><text x="430.8" y="227.9" font-size="7.0" text-anchor="middle" >4</text><text x="441.2" y="227.9" font-size="7.0" text-anchor="middle" >6</text><text x="471.9" y="227.9" font-size="7.0" text-anchor="middle" >2</text><text x="489.6" y="227.9" font-size="7.0" text-anchor="middle" >4</text><text x="500.0" y="227.9" font-size="7.0" text-anchor="middle" >6</text><text x="530.7" y="227.9" font-size="7.0" text-anchor="middle" >2</text><text x="548.4" y="227.9" font-size="7.0" text-anchor="middle" >4</text><text x="558.8" y="227.9" font-size="7.0" text-anchor="middle" >6</text><text x="453.6" y="252.8" font-size="10.2">SO<tspan font-size="7" dy="2.2">4</tspan><tspan font-size="7" dy="-9">2-</tspan><tspan dy="6.8">, µg m</tspan><tspan font-size="7" dy="-6.8">-3</tspan></text><text transform="translate(355.2,147.6) rotate(-90)" x="0" y="0" font-size="10.2">NH<tspan font-size="7" dy="2.2">3</tspan><tspan dy="-2.2">, µg m</tspan><tspan font-size="7" dy="-6.8">-3</tspan></text><text transform="translate(606.0,98.8) rotate(90)" x="0" y="0" font-size="10.2">NH<tspan font-size="7" dy="2.2">3</tspan><tspan dy="-2.2">, ppbv</tspan></text><text x="392.5" y="19.3" font-size="10.2">High total NO<tspan font-size="6.5" dy="1.5">3</tspan><tspan font-size="6.5" dy="-6">-</tspan><tspan dy="4.5"> (26 µg m</tspan><tspan font-size="6.5" dy="-3.5">-3</tspan><tspan dy="3.5">)</tspan></text><text x="527.9" y="19.3" font-size="10.2">BJ polluted</text><path d="M515.3 16.4H522.6" stroke="#111" stroke-width="1"/><path d="M521.4 14.3L525.0 16.4L521.4 18.5L522.2 16.4Z" fill="#111"/><rect x="620.2" y="59.8" width="10.3" height="126.5" fill="url(#cb338)" stroke="#222" stroke-width="1"/><line x1="630.5" y1="186.3" x2="637.3" y2="186.3" stroke="#222" stroke-width="1"/><text x="640.8" y="189.8" font-size="10.2" text-anchor="start" >1</text><line x1="630.5" y1="165.3" x2="637.3" y2="165.3" stroke="#222" stroke-width="1"/><text x="640.8" y="168.8" font-size="10.2" text-anchor="start" >2</text><line x1="630.5" y1="144.3" x2="637.3" y2="144.3" stroke="#222" stroke-width="1"/><text x="640.8" y="147.8" font-size="10.2" text-anchor="start" >3</text><line x1="630.5" y1="123.3" x2="637.3" y2="123.3" stroke="#222" stroke-width="1"/><text x="640.8" y="126.8" font-size="10.2" text-anchor="start" >4</text><line x1="630.5" y1="102.3" x2="637.3" y2="102.3" stroke="#222" stroke-width="1"/><text x="640.8" y="105.8" font-size="10.2" text-anchor="start" >5</text><line x1="630.5" y1="81.3" x2="637.3" y2="81.3" stroke="#222" stroke-width="1"/><text x="640.8" y="84.8" font-size="10.2" text-anchor="start" >6</text><line x1="630.5" y1="60.3" x2="637.3" y2="60.3" stroke="#222" stroke-width="1"/><text x="640.8" y="63.8" font-size="10.2" text-anchor="start" >7</text><text transform="translate(650.6,117.0) rotate(90)" font-size="10.2">pH</text><text x="338.1" y="10.2" font-size="12.5" text-anchor="start" >(b)</text></svg></body></html>
